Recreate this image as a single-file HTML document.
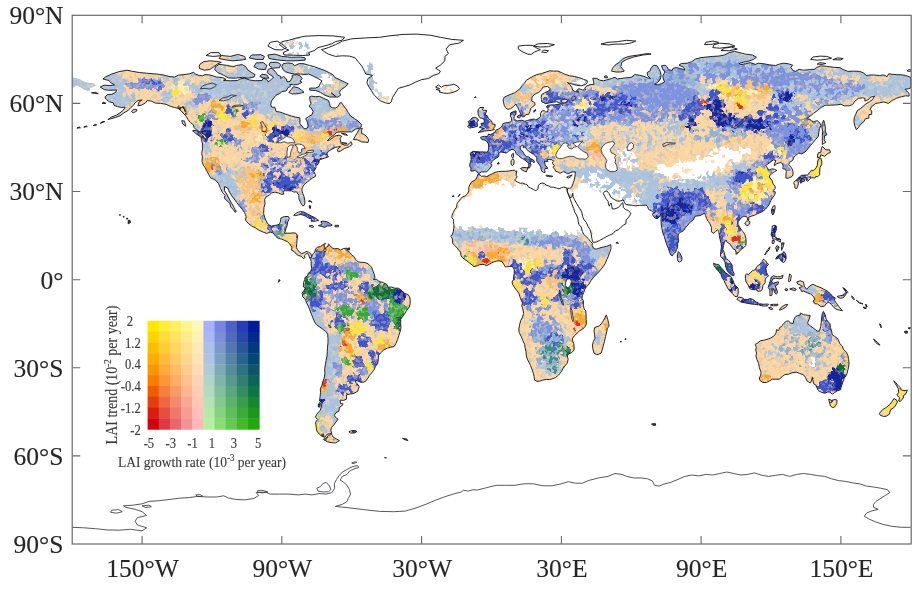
<!DOCTYPE html>
<html lang="en"><head><meta charset="utf-8"><title>LAI trend and growth rate map</title>
<style>
html,body{margin:0;padding:0;background:#fff;}
body{width:921px;height:594px;overflow:hidden;font-family:"Liberation Serif","DejaVu Serif",serif;}
svg{display:block;font-family:"Liberation Serif","DejaVu Serif",serif;}
</style></head><body>
<svg width="921" height="594" viewBox="0 0 921 594">
<defs>
<filter id="soft" x="-5%" y="-5%" width="110%" height="110%"><feGaussianBlur stdDeviation="0.6"/></filter>
<filter id="tsoft" x="-5%" y="-20%" width="110%" height="140%"><feGaussianBlur stdDeviation="0.45"/></filter>
<clipPath id="land"><path d="M100.2 87.0L104.1 85.2L109.9 85.5L114.6 84.9L110.6 82.6L108.8 80.5L102.9 79.0L105.3 77.0L111.8 74.0L118.8 71.7L126.9 70.2L132.8 71.4L139.8 72.6L146.7 73.2L156.1 74.0L163.0 74.9L170.0 76.7L174.7 77.0L178.2 75.2L184.0 74.6L189.8 73.8L193.3 72.3L195.7 74.0L199.2 75.5L202.6 75.8L205.0 74.6L209.6 74.9L216.6 77.0L222.4 77.6L225.9 79.3L223.6 80.5L230.6 80.8L237.6 80.5L239.9 79.0L244.6 78.2L249.2 79.9L255.1 80.8L262.0 80.5L263.2 78.2L266.7 79.3L268.3 82.0L271.4 79.3L273.7 77.0L270.2 74.9L267.2 72.6L268.3 69.3L271.1 68.2L273.7 69.9L276.0 72.6L277.7 75.2L280.7 76.4L280.7 78.5L283.5 76.4L286.5 79.0L287.0 81.7L290.0 81.4L292.1 77.9L292.3 75.2L297.0 74.6L300.5 76.1L302.1 78.5L300.0 81.1L302.1 82.3L297.7 84.6L293.5 84.9L290.0 84.3L290.5 86.4L287.7 87.8L286.5 90.8L281.8 91.7L280.0 93.4L276.0 95.2L273.7 98.1L271.4 101.1L270.7 104.9L271.8 107.2L274.9 107.2L276.0 111.6L279.5 111.9L285.3 114.0L291.2 116.0L295.8 117.2L299.8 117.8L300.0 121.0L299.8 124.0L302.1 126.0L304.0 128.7L306.8 128.7L308.2 126.0L307.0 121.0L305.6 118.7L308.6 116.6L312.1 114.6L313.1 111.3L311.0 107.8L309.1 106.4L311.0 103.4L309.8 99.6L309.8 96.7L311.4 96.1L315.6 96.7L319.6 96.4L323.8 98.4L328.4 100.5L329.6 103.4L330.1 106.6L332.6 107.8L335.4 108.1L338.2 106.4L340.1 102.8L341.3 102.5L343.6 105.8L345.9 108.7L348.2 112.5L350.6 116.0L354.5 118.7L358.0 121.0L361.1 124.0L361.5 126.3L359.9 128.1L355.2 129.3L351.7 131.9L347.1 131.9L341.3 131.9L336.6 132.2L334.3 134.6L330.8 137.2L327.3 140.7L329.6 140.1L334.3 136.3L338.9 135.1L341.7 136.3L340.1 138.7L340.6 141.0L341.3 144.0L344.7 145.1L347.5 145.1L349.4 143.1L351.0 141.6L352.2 144.5L349.4 146.6L344.3 148.6L340.6 151.0L338.2 151.9L337.3 149.5L340.6 146.6L337.8 146.9L335.4 147.5L331.9 149.2L328.4 151.3L326.8 153.9L328.4 156.9L324.9 158.0L320.3 159.5L319.1 160.7L318.7 163.3L316.8 165.4L315.6 163.6L316.1 167.4L314.5 170.4L313.8 171.6L315.2 174.5L315.6 176.3L312.8 177.7L309.8 180.1L307.0 182.1L304.0 184.8L302.3 187.7L301.9 190.7L302.8 193.6L304.0 196.5L304.9 200.9L304.7 204.8L302.8 205.9L301.0 203.3L298.9 198.9L298.9 195.4L296.5 191.8L294.0 192.1L291.6 190.9L287.7 190.7L285.3 190.7L283.0 191.2L283.7 194.2L281.2 194.2L278.4 193.0L274.9 192.1L271.4 193.0L269.5 194.8L266.0 197.1L264.6 199.5L265.1 203.6L263.9 207.7L263.7 213.6L264.8 218.0L266.7 222.1L268.3 224.4L271.1 226.2L274.2 225.6L277.2 225.0L279.5 224.1L280.5 221.2L280.9 218.0L284.6 216.5L288.4 216.5L289.3 218.6L287.7 222.1L287.0 225.9L286.0 228.2L285.1 231.8L284.4 233.2L287.0 233.2L290.0 233.2L293.0 232.9L295.8 233.2L297.7 235.6L297.0 240.0L296.8 243.5L296.3 247.3L297.5 249.7L299.3 252.0L301.7 253.5L304.0 252.9L306.1 251.5L308.6 252.0L311.0 254.1L311.7 256.4L310.0 258.5L308.9 255.6L307.5 253.2L305.6 254.4L304.4 255.6L305.1 257.6L303.3 258.5L301.2 256.2L298.6 255.6L296.8 254.7L294.2 251.5L291.6 250.3L291.9 247.3L289.5 243.8L287.4 241.5L284.9 240.6L281.8 239.1L278.4 238.5L276.0 236.5L273.0 232.9L270.2 232.1L266.7 233.5L263.2 232.1L259.0 230.3L255.1 227.7L251.6 225.9L248.1 223.3L245.5 220.0L246.2 216.5L244.6 212.7L242.2 209.2L238.8 205.3L236.7 202.4L234.1 198.9L231.8 195.9L229.4 192.1L227.8 188.0L224.3 186.5L224.5 190.7L227.1 194.5L228.7 198.0L231.1 202.4L233.4 206.2L234.8 209.2L236.4 211.5L235.3 212.4L233.4 209.7L230.6 206.8L229.9 203.3L227.1 200.9L224.1 198.0L225.2 195.6L222.4 192.4L220.6 188.6L218.7 183.9L215.9 180.4L213.1 178.9L210.6 178.0L208.5 173.9L206.4 170.4L205.4 168.0L203.3 165.1L202.0 161.3L202.4 156.9L201.7 153.3L202.6 148.1L202.6 144.0L201.5 140.1L201.0 137.5L205.0 138.1L205.9 140.4L206.4 137.2L205.0 135.1L201.5 132.8L196.8 130.4L194.0 127.5L193.3 124.6L190.3 122.5L188.0 119.6L186.3 116.6L184.0 113.7L181.0 110.8L178.2 108.4L174.7 107.5L170.5 106.4L166.1 104.3L160.7 103.4L155.4 103.1L151.4 101.1L147.2 100.5L145.6 102.8L141.4 105.2L137.9 105.8L139.1 101.9L142.1 99.9L137.9 100.5L135.1 102.8L133.2 105.5L130.9 107.5L128.1 110.5L123.9 112.8L120.0 115.8L115.3 117.5L111.1 118.7L107.8 119.6L111.8 116.9L116.5 115.2L120.0 112.8L123.4 110.2L125.1 107.2L121.6 107.5L117.6 106.6L114.1 105.5L113.4 102.8L109.5 101.9L106.4 99.6L104.8 97.0L107.6 94.6L111.8 94.3L115.8 92.3L116.5 89.9L113.0 90.2L108.3 90.2L104.1 89.6L100.2 87.0ZM321.5 49.7L328.4 47.6L335.4 44.7L342.4 41.1L351.7 38.8L365.7 37.9L379.7 37.3L389.0 35.9L403.0 34.4L417.0 34.1L430.9 35.3L440.3 37.3L451.9 39.4L463.5 40.3L458.9 43.2L449.6 44.7L446.1 49.1L448.4 53.5L444.9 56.4L444.9 60.8L440.3 65.2L435.6 68.2L440.3 71.1L439.1 73.5L433.3 75.5L428.6 78.5L421.6 79.6L415.8 82.0L410.0 84.9L404.1 86.7L398.3 88.4L395.3 93.1L392.5 97.5L391.3 101.9L389.0 103.7L385.5 102.8L380.9 101.1L377.4 98.4L373.9 94.6L371.5 90.8L369.2 87.3L366.9 82.9L368.0 78.5L372.7 75.5L365.7 74.0L364.5 71.1L362.2 66.7L358.7 62.3L355.2 57.9L349.4 56.1L342.4 55.8L335.4 56.4L328.4 54.1L324.9 52.0L321.5 49.7ZM348.2 84.0L344.7 87.3L341.3 89.3L339.4 92.3L340.6 95.2L337.1 97.5L334.3 95.2L331.2 92.8L335.9 97.0L329.6 97.0L324.9 95.2L320.3 92.3L315.6 90.5L309.8 90.2L309.8 88.1L315.6 88.1L319.1 86.4L320.3 83.4L321.9 80.8L318.0 78.5L313.3 76.1L308.6 74.0L304.0 74.6L300.5 74.0L294.7 74.0L290.0 73.2L285.3 71.7L283.0 69.6L281.8 66.7L283.0 63.8L287.7 62.9L292.3 63.5L294.7 65.8L299.3 63.5L304.0 63.8L309.8 65.5L314.5 66.7L319.1 68.5L324.9 70.5L329.6 72.9L333.1 74.9L335.0 77.6L340.1 79.9L344.7 82.0L348.2 84.0ZM217.8 72.6L223.6 75.2L228.3 77.9L235.3 78.2L242.2 77.3L248.1 78.2L253.9 77.0L255.1 74.6L251.6 72.6L248.1 70.2L245.7 66.7L242.2 64.6L236.4 65.5L232.9 66.7L225.9 65.2L219.0 64.4L215.5 66.7L214.8 69.6L217.8 72.6ZM199.6 68.5L204.3 70.2L209.6 69.6L213.1 67.3L217.8 63.8L221.3 62.3L216.6 61.4L209.6 60.8L203.8 61.7L200.3 63.8L199.2 66.1L199.6 68.5ZM309.8 55.0L302.8 55.5L293.5 55.2L284.2 55.0L283.0 52.6L288.8 50.0L284.2 48.2L279.5 44.7L281.8 41.7L288.8 40.3L295.8 38.2L305.1 36.2L319.1 35.6L333.1 35.9L344.7 37.3L342.4 40.0L335.4 41.7L331.9 43.8L324.9 45.8L318.0 47.6L314.5 50.5L308.6 52.6L309.8 55.0ZM274.9 49.7L267.9 46.1L270.2 42.3L277.2 41.1L281.8 44.1L286.5 47.6L281.8 50.0L274.9 49.7ZM305.1 60.2L295.8 60.8L286.5 60.8L277.2 59.9L269.0 58.5L267.9 55.0L274.9 54.1L281.8 56.4L291.2 57.3L300.5 57.0L305.1 57.9L305.1 60.2ZM245.7 59.4L239.9 60.2L232.9 60.8L225.9 59.9L219.0 58.5L221.3 55.5L230.6 56.4L237.6 54.4L244.6 56.4L245.7 59.4ZM263.2 59.4L256.2 59.4L249.2 57.9L251.6 55.0L260.9 54.7L264.4 56.4L263.2 59.4ZM265.5 69.6L258.6 69.1L253.9 66.7L256.2 62.9L263.2 62.6L266.7 65.2L265.5 69.6ZM279.5 67.6L272.5 68.2L269.0 65.2L270.2 62.3L277.2 62.3L280.7 64.4L279.5 67.6ZM269.0 78.2L263.2 77.9L259.7 76.4L262.0 74.3L266.7 74.9L269.0 78.2ZM304.0 92.3L298.2 93.7L292.3 94.0L288.8 92.5L291.2 89.6L293.5 86.7L298.2 87.8L301.7 90.2L304.0 92.3ZM221.3 55.8L213.1 56.4L206.1 55.5L210.8 52.6L219.0 52.6L221.3 55.8ZM353.4 139.5L357.6 139.8L361.5 141.9L365.7 142.2L368.0 142.5L368.7 139.8L366.9 136.9L364.5 134.6L361.5 133.4L361.7 129.9L362.2 128.1L359.2 129.3L356.9 133.4L354.8 136.9L353.4 139.5ZM204.0 137.5L200.3 136.6L196.8 134.3L192.6 130.7L195.7 130.4L199.2 132.2L202.6 135.1L204.0 137.5ZM185.9 126.3L182.8 124.0L181.7 120.7L184.5 121.0L185.2 124.0L185.9 126.3ZM136.7 111.1L133.2 112.8L131.4 111.3L133.9 109.3L136.7 109.6L136.7 111.1ZM98.3 93.7L94.3 93.4L91.5 92.8L95.5 92.3L98.3 93.7ZM106.0 103.4L102.0 103.4L103.6 102.2L106.0 103.4ZM104.8 121.6L100.2 123.4L102.5 121.6L104.8 121.6ZM96.7 124.9L93.2 125.7L95.5 124.3L96.7 124.9ZM87.3 126.6L83.8 127.2L86.2 126.0L87.3 126.6ZM80.4 127.8L76.9 128.1L79.2 126.9L80.4 127.8ZM347.5 135.4L343.6 134.6L341.3 133.1L345.9 134.0L347.5 135.4ZM347.1 143.4L343.6 144.0L341.7 142.5L344.7 142.8L347.1 143.4ZM293.7 215.3L297.0 212.7L300.5 211.5L304.0 212.1L307.5 213.9L311.0 215.9L314.5 217.4L317.3 219.4L318.7 220.3L315.6 221.2L311.0 221.2L311.7 219.1L308.6 218.0L305.1 215.9L301.0 214.4L298.2 215.0L295.4 215.6L293.7 215.3ZM318.2 225.6L321.0 226.2L324.5 227.4L327.3 225.9L330.8 225.9L332.2 225.0L329.6 223.3L326.6 221.5L322.6 221.2L320.8 221.8L322.1 223.8L320.3 225.0L318.2 225.6ZM309.1 225.9L311.7 227.4L313.8 226.8L312.1 225.3L309.1 225.9ZM335.0 226.8L338.5 226.8L338.5 225.3L335.0 225.3L335.0 226.8ZM310.3 208.6L310.7 205.9L309.3 205.6L309.3 208.0L310.3 208.6ZM312.1 202.4L310.3 201.5L308.4 201.2L310.0 200.6L312.1 202.4ZM347.3 250.0L349.4 250.0L349.6 247.9L347.8 248.2L347.3 250.0ZM311.7 256.4L312.6 254.4L314.9 252.0L315.6 248.8L317.3 247.3L320.3 246.5L323.1 244.7L325.4 243.2L324.0 245.9L324.9 247.9L323.8 250.3L324.9 252.3L326.1 250.3L325.4 247.9L328.0 246.2L328.4 243.8L330.1 245.9L332.4 247.9L334.3 248.8L337.8 248.5L340.6 250.0L343.6 248.5L347.1 248.2L345.7 249.7L347.5 250.9L349.9 252.6L351.7 255.0L354.1 256.7L355.7 259.4L358.3 262.0L361.5 262.3L365.2 262.6L368.0 263.8L369.9 265.6L371.5 267.0L372.7 270.3L374.3 274.4L375.0 277.3L373.4 279.7L376.2 279.1L378.3 280.8L380.2 281.7L383.2 282.6L386.7 284.3L388.3 287.3L391.3 287.0L394.8 288.2L398.3 288.2L401.8 290.5L404.8 293.5L408.1 294.6L409.5 296.7L410.2 300.2L410.2 303.7L409.3 307.0L406.9 310.2L404.6 313.7L402.3 317.0L400.7 319.3L400.7 323.7L400.9 328.1L400.0 331.9L398.8 335.5L397.6 339.6L396.0 343.4L394.1 346.6L390.6 347.2L387.4 348.1L383.6 350.1L380.4 353.1L378.5 355.7L378.3 359.8L377.6 363.7L375.5 366.3L373.9 370.1L371.5 373.1L369.7 375.1L368.0 378.0L366.4 380.4L363.8 382.2L360.6 382.2L357.6 381.0L355.5 380.1L355.7 382.5L358.0 384.5L359.2 386.9L357.6 391.3L354.1 393.3L349.4 394.2L346.6 394.8L346.4 399.2L343.6 400.4L340.1 400.1L340.6 403.6L343.1 403.9L341.7 406.0L339.4 407.4L338.9 411.2L335.9 412.7L334.3 415.3L335.9 417.7L338.2 419.2L335.9 422.1L333.8 425.0L331.5 427.4L330.8 430.3L331.9 433.3L329.6 433.6L326.6 434.7L324.9 437.4L321.9 436.2L319.1 433.9L316.8 430.9L316.1 426.5L315.6 422.1L317.7 419.5L315.4 417.1L317.3 413.3L320.3 410.4L321.5 406.0L321.9 402.4L319.6 401.0L320.1 396.6L320.5 392.7L320.3 388.9L321.9 385.4L322.6 382.5L324.2 378.0L324.9 373.6L324.7 368.6L325.4 364.8L326.1 360.4L327.0 356.0L327.3 351.6L327.5 347.2L328.0 342.8L328.0 338.4L327.7 334.0L325.4 331.3L322.6 329.0L319.1 326.6L316.1 324.3L314.0 320.8L312.6 317.2L311.4 314.3L309.8 309.9L308.2 306.1L306.3 302.0L305.1 299.0L302.8 296.7L302.1 293.2L304.2 290.2L305.4 287.9L303.3 286.7L303.5 282.6L304.7 279.7L305.1 277.3L307.5 275.8L308.4 272.9L310.5 271.7L311.7 268.5L311.2 265.0L311.2 261.4L310.5 259.1L311.7 256.4ZM331.7 434.4L328.4 435.3L326.1 438.3L323.3 439.4L327.3 441.8L331.9 442.7L335.4 443.0L339.4 440.6L336.6 439.1L333.1 437.1L332.4 435.3L331.7 434.4ZM320.1 402.4L318.4 403.9L318.2 406.8L319.8 407.1L320.3 404.2L320.1 402.4ZM348.9 431.8L351.7 430.6L355.2 430.6L356.9 431.5L354.5 433.0L350.6 433.0L348.9 431.8ZM402.5 438.3L406.5 439.1L408.1 440.6L404.8 439.7L402.5 438.3ZM477.8 174.5L479.2 174.2L481.5 176.3L484.5 176.0L486.8 176.6L490.1 174.8L492.7 173.6L495.0 172.4L498.5 171.6L502.0 171.3L505.5 171.3L509.0 171.0L512.5 170.4L514.6 170.1L515.5 171.6L517.1 171.0L516.2 173.0L516.2 175.4L517.1 176.8L516.2 178.3L514.8 179.8L515.5 181.0L517.6 182.1L520.2 183.3L522.5 183.0L525.3 184.2L526.9 184.5L528.3 186.8L530.6 188.0L533.4 189.5L535.8 190.7L538.1 188.9L538.3 185.7L540.0 183.6L542.3 183.0L544.6 183.6L546.2 185.1L549.3 186.0L550.2 187.1L553.2 187.1L556.3 188.0L559.1 188.9L561.4 187.7L563.7 187.1L566.0 187.7L567.0 188.3L567.2 191.5L568.8 195.6L570.2 199.2L571.9 203.9L573.7 208.3L574.7 212.1L576.5 215.0L577.7 218.0L578.4 221.5L578.9 224.7L581.2 226.8L582.3 231.2L583.7 234.4L585.8 236.2L588.2 238.5L590.5 241.5L592.4 243.2L592.1 245.6L594.0 248.8L596.3 249.1L599.8 247.9L603.3 247.0L606.8 246.2L610.8 244.7L611.0 248.8L609.8 252.3L608.4 256.2L606.8 259.7L605.2 263.5L602.8 267.0L599.8 270.8L597.0 273.8L594.0 276.7L591.2 280.2L588.9 284.1L586.5 286.7L584.9 289.0L583.7 292.6L582.3 295.8L582.1 298.7L583.5 301.1L583.3 305.2L584.2 309.0L585.8 310.8L586.1 314.9L586.1 319.3L586.5 323.7L585.1 326.6L582.8 329.0L579.6 330.8L577.2 333.1L574.2 336.0L572.6 338.1L572.6 340.7L573.7 343.7L574.2 347.2L574.0 350.1L571.9 352.5L568.4 354.0L567.4 356.0L568.1 359.5L567.2 363.4L565.1 365.4L563.2 368.4L561.4 371.6L558.6 375.1L555.6 377.5L552.1 378.9L549.7 379.5L546.2 379.5L542.7 380.1L539.3 381.3L536.9 381.3L534.6 380.1L534.1 376.6L533.4 373.6L532.3 370.1L530.6 365.7L529.5 363.1L527.6 359.8L526.4 356.0L526.0 351.6L525.0 347.2L524.6 344.3L522.9 340.7L521.1 336.3L519.2 332.5L518.8 329.0L519.5 325.2L520.6 320.8L522.5 317.2L523.6 313.4L522.9 309.0L521.8 306.1L522.5 303.1L520.6 298.7L519.9 296.7L519.0 293.7L517.1 290.8L514.8 287.9L512.9 284.9L512.0 282.0L513.4 279.7L513.6 276.7L514.3 273.2L514.3 270.0L513.6 267.9L512.0 266.4L510.1 266.4L507.8 266.7L505.5 267.0L503.8 264.4L502.0 261.4L499.2 260.9L496.2 261.1L493.8 262.0L491.5 262.9L489.2 264.4L486.8 265.6L484.5 264.7L482.2 264.4L479.9 264.7L477.5 265.6L474.0 266.7L472.2 265.0L469.8 263.2L467.0 260.9L464.7 259.4L462.4 257.6L460.8 255.0L460.5 252.3L458.9 250.3L457.0 247.9L456.1 246.8L454.2 245.0L452.6 243.2L452.6 240.0L451.9 237.6L450.7 236.5L452.4 234.1L453.3 231.8L453.8 228.2L454.0 224.7L453.3 221.8L453.5 219.4L451.9 218.0L452.1 215.0L453.5 212.1L454.7 209.5L456.6 207.1L457.0 203.9L458.4 201.8L460.5 198.9L461.7 197.4L465.2 195.9L467.5 193.9L468.9 190.9L468.7 187.7L469.8 184.8L471.7 181.8L474.0 180.7L475.7 179.5L477.1 176.8L477.8 174.5ZM606.3 314.9L607.7 319.3L608.7 323.7L609.1 326.4L607.3 328.1L606.8 331.6L605.6 336.3L604.5 341.3L603.1 346.6L601.9 351.0L601.0 353.1L598.2 354.5L596.3 354.5L594.0 353.1L592.8 348.7L592.4 344.9L593.5 341.3L594.9 338.4L594.7 334.9L594.0 331.1L594.7 327.5L597.0 326.6L599.4 325.8L601.4 323.7L603.3 320.8L604.9 317.8L606.3 314.9ZM615.9 242.9L618.5 243.2L617.5 242.3L615.9 242.9ZM452.1 196.5L454.2 196.2L453.3 195.6L452.1 196.5ZM458.2 196.8L459.4 195.1L460.1 193.9L458.9 195.6L458.2 196.8ZM620.1 341.9L621.5 341.9L620.8 341.0L620.1 341.9ZM625.0 339.6L626.1 339.3L625.7 338.4L625.0 339.6ZM478.9 173.6L481.3 171.9L484.5 171.9L486.8 171.6L489.4 169.2L491.0 166.6L492.0 165.7L490.8 163.6L492.2 161.3L493.6 159.8L496.6 158.0L499.0 156.3L498.7 153.3L500.8 151.9L503.8 152.5L506.2 153.1L508.5 151.3L511.3 149.5L513.2 149.5L515.3 151.0L516.0 153.6L518.3 155.4L520.2 157.2L522.5 158.6L524.6 159.8L526.4 161.6L528.1 162.5L529.0 165.1L528.1 168.0L529.5 168.0L530.2 166.0L531.3 165.1L530.2 163.0L530.9 161.0L532.3 161.3L534.1 162.7L534.6 161.3L533.0 159.8L530.6 158.6L528.8 156.9L526.4 156.6L524.6 154.8L523.4 152.5L521.8 150.7L520.4 148.9L520.2 146.6L522.2 145.4L523.6 145.7L523.2 147.8L525.0 146.9L526.4 148.9L528.3 151.0L530.6 152.5L533.4 154.2L535.8 156.3L536.9 157.8L536.7 160.7L538.1 163.0L539.7 165.1L540.9 167.2L541.1 169.2L541.8 171.3L543.7 172.4L545.1 172.4L544.6 169.8L545.8 168.0L547.4 168.9L547.4 167.2L545.5 165.7L544.8 163.6L544.4 161.0L545.8 161.6L547.9 161.6L546.9 159.8L549.3 159.5L552.1 159.8L553.5 161.3L552.5 162.2L552.8 163.9L554.4 165.7L553.0 167.2L554.9 169.5L555.6 171.3L557.9 171.9L560.2 173.3L562.5 172.1L563.7 171.6L566.0 172.7L567.9 173.9L570.7 172.4L573.0 171.9L575.4 171.9L575.1 174.5L574.9 176.8L574.2 180.1L573.0 183.3L572.1 186.2L571.2 187.7L569.5 188.3L567.4 188.3L567.4 191.8L568.8 195.1L570.7 198.0L571.9 196.5L572.8 193.0L573.0 196.8L574.4 199.5L576.5 203.3L578.2 206.2L580.0 208.9L581.9 212.7L582.6 216.5L584.2 220.0L586.3 222.4L588.2 226.8L590.0 229.7L591.2 234.1L591.9 238.5L592.4 240.9L593.1 242.3L596.3 242.1L599.8 240.3L603.3 238.5L606.1 236.8L609.8 235.0L613.1 233.5L615.4 230.9L618.5 229.7L620.8 227.4L623.3 225.3L625.9 223.8L626.1 220.0L628.0 218.0L630.1 215.0L630.8 213.3L628.5 210.6L625.4 209.5L623.3 207.4L622.9 202.7L621.9 203.3L620.8 204.8L618.5 207.4L615.0 208.9L612.2 208.9L611.7 205.6L611.0 203.0L609.8 204.8L609.4 206.2L608.4 203.9L608.2 201.5L606.3 199.2L604.7 196.5L603.3 193.3L604.5 191.5L606.8 190.9L609.1 193.6L611.0 197.4L613.8 199.2L617.3 201.2L620.8 200.9L623.1 199.8L624.7 202.7L625.7 204.5L628.9 205.0L632.7 205.3L635.9 205.9L639.4 205.3L642.9 205.3L646.4 205.0L647.6 206.8L648.7 209.5L651.1 210.6L653.4 212.4L655.3 212.4L652.2 214.1L653.4 216.2L655.7 218.6L658.1 218.3L659.7 216.2L660.6 214.1L661.1 217.4L661.1 220.9L661.1 223.8L661.8 228.2L662.7 232.7L664.3 236.5L665.5 240.9L666.9 245.0L668.5 248.8L669.7 252.6L670.9 255.0L672.3 255.9L673.7 253.5L675.5 252.3L676.7 249.4L677.6 247.3L677.6 243.8L678.6 240.9L678.1 237.1L678.3 234.1L680.2 232.4L683.2 230.9L685.5 227.7L687.9 225.0L690.2 222.1L693.0 220.3L694.2 218.0L695.3 216.2L697.7 215.9L700.0 215.6L702.3 214.4L704.6 213.3L705.6 215.6L706.5 218.6L708.1 221.2L710.0 223.8L711.4 227.4L711.4 231.8L713.3 233.2L715.6 231.5L717.5 229.7L718.9 231.8L719.3 235.6L720.0 239.1L721.2 243.5L721.4 247.9L720.7 251.7L720.5 256.2L722.1 257.9L724.0 260.0L725.1 262.6L725.8 267.0L727.2 270.8L729.1 272.9L731.4 275.0L733.8 275.8L734.2 273.8L732.8 271.1L732.4 268.5L732.1 265.0L730.3 262.3L728.6 260.3L726.3 259.1L724.9 255.3L724.2 252.3L722.8 249.4L723.5 245.6L724.4 242.1L726.1 240.0L727.2 242.3L729.8 243.8L731.4 246.2L733.1 248.8L735.2 249.7L736.1 252.3L735.9 254.4L738.0 252.9L740.1 250.3L741.9 248.8L744.2 247.3L745.9 245.3L746.1 242.1L745.9 238.5L744.9 234.7L743.5 232.1L741.4 230.0L739.6 227.1L738.0 224.4L738.0 221.8L739.8 219.7L741.4 217.7L743.8 216.2L745.9 216.5L747.3 217.4L747.5 220.0L748.9 219.7L748.7 217.1L751.2 216.2L754.3 215.3L757.1 213.9L759.9 212.7L762.9 211.2L765.4 209.2L767.5 206.8L769.4 203.9L770.6 200.9L772.4 198.0L774.5 195.1L775.5 192.1L772.9 190.7L775.2 188.6L775.0 186.0L773.1 183.9L772.0 180.4L769.9 178.0L769.4 176.0L771.7 173.6L774.5 171.6L776.9 170.4L774.5 169.2L771.7 168.9L768.7 170.1L767.5 168.0L765.7 165.7L767.1 164.5L769.9 162.5L773.4 159.8L775.9 160.7L774.5 163.6L774.3 165.7L776.9 163.6L780.4 162.5L782.7 163.6L783.1 166.6L782.7 168.6L785.5 169.2L786.4 171.6L785.9 174.5L785.9 178.0L788.0 178.3L790.8 177.1L792.5 176.0L793.2 173.0L792.7 170.1L791.1 167.2L788.7 164.5L789.7 162.2L792.9 160.1L793.9 157.2L795.7 155.4L798.5 153.1L801.3 153.9L804.8 152.2L807.8 148.9L810.6 145.4L813.4 142.2L815.8 139.3L818.3 136.3L818.8 132.2L819.5 128.4L820.9 125.7L820.0 123.1L817.2 120.7L813.7 121.6L811.3 121.0L810.2 119.3L806.7 118.7L810.2 116.0L813.4 113.4L817.2 110.8L821.1 107.5L825.1 105.2L830.4 105.2L836.3 104.9L840.9 104.3L844.4 105.8L849.1 105.8L852.6 104.6L854.9 101.1L858.4 98.4L862.6 97.8L864.9 98.4L864.9 101.1L867.7 99.9L871.2 97.0L874.7 96.1L872.4 99.6L869.6 101.7L865.4 104.3L860.7 108.4L857.2 110.8L855.6 114.6L854.2 118.1L854.0 122.5L854.9 126.0L856.3 129.6L858.4 127.5L860.7 124.3L863.7 121.9L865.4 118.7L868.9 118.1L868.9 114.6L871.7 114.3L871.7 110.8L870.0 109.3L872.4 105.8L875.9 103.4L879.4 102.8L884.0 101.9L888.2 103.4L892.2 100.5L896.8 98.1L901.5 96.7L905.7 95.8L909.2 96.1L908.9 93.1L906.1 90.5L905.0 89.3L908.5 88.7L910.8 87.8L910.8 77.3L907.3 76.1L902.6 74.9L896.8 74.6L892.2 74.3L888.7 73.8L887.0 76.7L884.0 74.9L879.4 75.5L873.5 74.9L868.9 75.2L866.1 75.5L863.7 72.9L859.6 71.4L853.7 71.1L847.9 71.4L843.2 69.6L839.8 67.6L833.9 67.3L826.9 66.4L821.1 65.8L817.2 67.3L814.1 69.3L809.5 69.6L803.6 70.2L799.0 69.3L795.5 71.4L792.7 70.2L790.8 67.3L792.7 65.2L788.5 63.8L783.8 63.2L779.2 64.1L775.7 65.5L769.9 64.9L764.0 63.8L758.2 63.2L755.4 64.4L750.1 62.6L745.4 63.8L740.8 64.6L739.1 63.5L743.1 62.3L748.9 61.1L753.6 59.4L756.4 57.3L752.4 55.0L745.4 54.1L739.6 52.6L734.5 51.4L729.1 52.6L724.4 55.0L718.6 56.1L712.8 56.4L707.0 57.0L701.1 57.6L695.3 59.1L691.8 61.7L687.2 63.2L681.3 63.5L679.0 65.2L683.7 67.3L684.8 70.2L681.3 68.8L676.7 67.6L673.2 68.2L672.0 70.5L668.5 69.6L666.9 66.7L665.0 65.2L661.5 65.8L662.7 69.1L665.0 72.0L662.7 76.1L663.4 79.0L664.6 82.0L661.5 83.4L658.1 84.9L654.6 84.3L658.1 82.0L660.4 79.0L661.1 75.5L660.4 71.7L659.2 69.3L656.9 65.8L653.4 65.2L651.1 68.2L649.9 71.1L647.1 72.6L647.6 75.5L650.6 78.5L647.6 77.9L644.1 76.4L639.4 75.2L634.8 74.6L632.0 77.0L628.9 77.6L625.4 77.9L620.8 78.5L617.3 79.0L615.0 77.3L611.5 78.5L606.8 79.9L603.3 80.8L599.8 80.2L596.8 78.5L592.8 78.2L593.5 81.4L594.0 84.3L590.5 84.6L587.0 85.8L584.7 88.1L585.8 89.9L582.3 89.9L578.9 88.7L576.5 90.8L578.9 92.0L575.4 91.7L572.6 90.2L571.9 87.3L569.5 84.3L567.4 82.6L571.9 84.0L576.5 85.2L581.2 85.8L585.4 84.6L587.5 82.3L587.0 80.5L583.5 79.3L578.9 77.6L574.2 76.4L569.5 75.8L564.9 74.3L561.4 72.6L557.9 71.1L553.2 71.1L549.7 70.8L546.2 72.0L541.6 73.5L536.9 74.6L533.4 76.1L529.9 78.2L526.4 80.2L524.6 82.9L521.8 85.8L520.2 88.7L517.1 90.8L514.8 92.8L511.3 94.0L507.8 95.5L504.3 97.2L503.1 99.9L503.6 102.8L504.3 105.5L505.5 107.8L507.8 109.3L510.6 108.7L513.6 106.4L516.0 104.0L516.7 105.8L517.8 107.5L519.2 110.5L520.6 113.7L521.5 116.0L522.9 116.9L524.8 116.3L525.7 114.6L528.8 114.3L529.9 111.6L530.6 108.7L532.3 106.9L535.1 104.9L534.6 102.5L531.8 101.1L531.8 98.1L533.0 95.8L535.8 93.7L539.3 92.0L541.6 89.3L543.2 87.0L547.4 86.4L550.4 88.7L548.6 91.1L545.1 92.5L541.6 94.6L541.1 97.5L541.6 99.6L541.6 101.7L543.9 102.8L545.8 103.7L549.7 102.8L553.2 102.2L556.7 101.7L560.2 103.1L561.4 103.7L557.9 104.3L554.4 104.9L550.9 104.9L547.4 105.5L546.2 106.9L548.1 108.4L547.9 111.3L545.8 112.2L544.1 110.5L541.8 111.1L540.4 113.7L540.7 116.6L538.1 118.7L535.8 119.9L533.9 119.0L530.6 119.6L527.6 120.5L524.6 121.3L521.8 120.2L519.5 120.5L517.1 121.0L515.3 119.9L513.9 118.4L514.3 116.3L516.0 114.0L516.0 110.8L513.6 111.6L510.8 112.8L510.4 116.0L511.5 118.1L511.8 121.0L510.1 122.2L507.8 122.5L505.5 122.8L503.1 123.7L502.0 126.0L500.4 127.8L498.5 129.0L496.2 129.9L495.2 131.9L492.7 133.4L490.3 134.8L488.5 134.0L487.5 136.6L484.5 136.3L480.6 137.2L481.5 139.3L484.5 140.1L486.8 141.3L488.5 144.0L488.7 147.5L488.2 151.0L486.8 152.2L483.3 151.9L479.9 151.9L476.4 151.6L472.9 151.3L470.1 153.3L471.0 156.3L471.2 159.2L470.5 162.2L469.6 164.5L469.8 166.3L471.0 168.0L470.8 171.0L472.9 171.0L475.2 170.4L476.8 172.1L478.9 173.6ZM72.2 87.8L74.5 87.0L75.7 84.9L80.4 87.0L83.8 89.3L87.3 90.8L90.1 90.2L89.7 87.8L94.3 86.7L96.0 85.5L93.2 83.4L88.5 82.9L83.8 81.4L79.2 79.3L75.0 77.9L72.2 77.3ZM478.2 132.5L481.7 131.9L484.5 131.0L488.0 130.7L491.5 130.4L494.5 129.3L493.4 128.4L495.2 126.3L495.0 124.3L492.2 124.0L492.0 122.2L490.8 120.2L488.5 118.7L487.3 115.8L485.0 114.9L486.1 112.2L486.8 110.5L483.3 110.2L482.2 109.3L484.0 107.5L479.9 107.5L478.0 109.9L478.0 112.8L478.7 115.8L480.3 118.1L483.3 118.4L484.5 121.0L484.0 123.1L481.0 123.4L481.7 125.7L479.4 127.2L481.5 128.1L484.5 128.7L481.7 129.6L478.2 132.5ZM477.5 126.3L474.0 127.2L469.4 128.1L467.7 126.3L469.4 124.0L468.2 121.6L470.5 120.2L472.2 117.8L475.2 117.5L477.5 118.4L478.5 120.2L477.1 122.5L477.5 126.3ZM439.1 92.0L443.7 93.1L448.4 93.4L453.1 92.3L457.0 90.8L459.6 88.7L457.3 85.8L453.8 84.3L449.6 85.2L444.2 85.5L441.4 87.3L438.4 84.9L435.6 87.0L439.6 88.7L436.1 89.3L440.3 90.8L439.1 92.0ZM518.3 49.1L522.9 52.0L527.6 54.1L531.1 54.4L534.6 52.0L540.4 49.7L535.8 47.6L532.3 45.3L525.3 45.3L518.3 46.1L518.3 49.1ZM533.4 46.1L540.4 47.0L548.6 46.7L554.4 44.7L547.4 43.5L538.1 43.8L533.4 46.1ZM541.6 52.0L546.2 52.6L548.6 50.8L543.9 50.0L541.6 52.0ZM601.0 44.1L608.0 45.0L615.0 44.1L624.3 44.1L631.3 42.9L635.9 41.1L626.6 40.3L617.3 41.7L608.0 42.3L601.0 44.1ZM611.5 71.1L616.1 72.0L620.8 72.0L624.3 71.1L620.8 66.7L621.9 62.3L626.6 59.4L633.6 57.0L642.9 55.0L651.1 54.1L647.6 53.5L638.3 55.0L628.9 56.4L623.1 58.5L619.2 62.3L615.0 65.2L612.6 68.2L611.5 71.1ZM604.5 77.6L607.5 77.9L606.8 75.8L604.5 76.1L604.5 77.6ZM712.8 47.6L719.8 48.2L729.1 47.0L734.9 46.1L729.1 43.8L719.8 43.2L714.0 44.7L712.8 47.6ZM721.0 50.5L729.1 50.8L737.3 49.1L731.4 47.0L724.4 48.2L721.0 50.5ZM704.6 44.7L712.8 44.1L718.6 42.3L712.8 41.1L705.8 42.3L704.6 44.7ZM810.6 59.4L817.6 60.2L825.8 59.4L831.6 58.2L826.9 56.4L820.0 56.1L813.0 57.0L810.6 59.4ZM832.8 59.7L840.9 59.9L843.2 58.5L837.4 57.9L832.8 59.7ZM817.2 64.1L822.3 64.4L825.8 63.5L820.0 62.6L817.2 64.1ZM907.3 71.1L910.8 71.4L910.8 69.6L908.0 69.9L907.3 71.1ZM822.3 144.5L825.8 142.2L824.1 140.1L824.6 135.7L826.9 134.8L825.3 131.3L825.3 126.9L824.6 123.4L823.7 120.2L822.3 123.1L821.8 126.9L822.7 131.3L822.3 135.7L822.3 140.1L822.3 144.5ZM817.6 157.8L820.4 156.9L820.7 154.8L824.6 156.3L828.1 153.3L830.4 152.5L829.7 149.8L825.8 149.8L822.3 146.3L821.3 148.9L820.7 152.5L818.3 152.8L817.6 155.1L817.6 157.8ZM796.4 179.8L798.5 180.4L801.3 178.9L804.8 177.7L806.4 178.6L806.4 180.4L807.8 181.3L810.2 178.6L811.8 177.7L814.8 178.0L815.8 176.3L817.4 176.8L818.3 176.3L819.7 174.5L819.7 171.0L820.0 167.4L821.8 164.2L821.8 161.0L820.7 158.0L818.3 159.2L817.6 162.2L817.4 165.1L816.0 168.0L813.7 170.4L811.1 170.4L810.6 171.6L809.0 173.0L807.8 175.1L804.8 175.1L801.3 175.4L799.0 177.4L796.4 179.8ZM793.6 182.7L794.8 185.7L795.0 188.0L796.7 188.6L797.8 186.2L798.5 183.3L797.8 181.0L795.5 180.4L793.6 182.7ZM799.7 181.8L800.9 183.3L802.7 181.5L804.3 181.3L805.0 179.2L802.5 179.2L800.9 180.1L799.7 181.8ZM771.3 212.1L772.9 215.0L774.1 212.7L775.2 207.7L774.8 205.6L773.4 205.9L771.7 209.2L771.3 212.1ZM744.7 223.0L746.6 225.9L748.7 225.0L750.1 222.1L748.9 220.6L746.6 221.2L744.7 223.0ZM677.4 254.7L678.3 251.5L680.2 253.8L682.0 257.6L681.8 260.6L679.5 262.0L677.9 261.1L677.4 258.2L677.4 254.7ZM771.7 231.8L772.4 225.9L774.5 225.3L776.2 225.9L776.4 229.7L774.8 233.2L775.0 237.1L777.6 238.5L780.4 239.1L780.4 242.1L778.0 240.9L775.2 239.1L772.9 239.1L772.2 236.8L771.0 234.7L771.7 231.8ZM775.7 259.1L776.9 256.7L779.2 254.7L782.2 253.8L783.8 251.5L785.7 253.8L786.2 258.2L785.0 261.1L783.8 262.6L782.7 262.0L780.8 260.6L779.2 257.6L777.6 258.5L775.7 259.1ZM781.5 250.3L783.1 246.8L784.1 242.9L781.5 242.9L781.7 246.5L781.5 250.3ZM776.9 251.7L778.5 248.8L779.2 246.8L776.9 245.6L775.7 247.9L776.9 251.7ZM764.7 255.0L766.8 252.6L769.4 249.4L769.9 246.8L768.0 249.4L765.9 252.3L764.7 255.0ZM772.2 243.5L773.8 243.5L774.5 240.6L772.2 240.3L772.2 243.5ZM745.4 275.2L746.6 273.8L748.4 274.4L750.8 272.3L752.4 270.8L754.7 270.0L757.1 266.4L760.1 264.1L762.2 261.4L763.6 259.1L765.7 260.9L767.1 263.2L768.7 264.4L766.8 266.1L765.9 268.5L766.4 272.3L768.5 276.1L766.4 277.3L765.2 279.7L765.2 282.6L762.9 285.5L762.4 289.0L761.2 290.8L758.2 291.4L755.9 289.6L752.4 289.6L749.6 288.5L748.2 284.9L746.1 282.0L745.4 278.8L745.4 275.2ZM713.5 263.2L716.3 264.4L718.6 264.4L720.5 267.0L723.3 270.0L725.6 272.9L727.9 274.4L731.0 276.7L732.6 279.7L733.8 282.6L735.2 285.5L738.0 287.9L738.4 290.8L738.0 294.3L737.3 296.7L734.9 296.4L732.6 293.7L729.8 291.1L727.5 287.9L725.6 284.1L724.0 280.5L722.1 277.6L721.0 274.4L718.6 271.4L716.3 268.8L714.0 265.6L713.5 263.2ZM736.8 299.3L738.9 297.0L741.9 297.6L744.5 299.3L747.7 299.6L750.1 298.4L753.6 299.9L755.9 302.0L758.2 302.6L758.2 304.9L754.7 304.3L751.2 304.0L747.7 303.4L744.2 302.6L740.8 302.0L738.4 300.2L736.8 299.3ZM759.4 303.7L761.7 304.0L764.0 304.3L766.4 304.0L768.7 304.3L767.5 305.8L764.0 306.1L761.7 305.8L759.4 305.2L759.4 303.7ZM770.6 304.6L773.4 304.3L776.9 304.3L778.0 304.0L777.6 305.5L773.4 305.8L770.6 305.5L770.6 304.6ZM779.2 309.9L781.5 307.0L785.0 304.9L787.8 304.3L786.2 306.7L782.7 309.0L780.4 309.9L779.2 309.9ZM768.7 307.6L771.0 307.3L772.9 309.0L771.0 309.6L768.7 308.1L768.7 307.6ZM769.9 295.8L769.9 289.9L768.2 287.6L769.4 283.5L770.6 279.7L771.0 277.3L773.4 275.8L776.9 276.7L780.4 276.7L783.1 275.0L782.2 278.2L779.2 278.8L775.7 278.2L772.9 278.8L771.5 282.0L773.4 283.2L776.9 282.0L778.7 282.0L777.6 284.9L775.2 285.5L776.4 289.0L777.6 292.3L776.4 294.3L774.5 292.3L773.4 288.5L772.2 290.8L772.0 295.2L769.9 295.8ZM788.5 281.1L789.0 277.3L789.7 273.8L791.3 275.8L790.8 278.8L790.4 281.1L789.2 282.0L788.5 281.1ZM789.7 289.0L793.2 287.9L796.2 289.0L795.5 290.5L792.0 289.9L789.7 289.0ZM785.0 289.0L787.3 288.8L787.8 290.2L785.7 290.8L785.0 289.0ZM796.7 282.0L800.2 280.8L803.6 282.0L804.3 286.4L806.7 289.3L809.5 286.1L813.0 284.3L816.5 286.1L820.0 287.3L823.4 289.0L826.9 290.8L830.4 293.7L832.8 296.7L835.3 297.9L834.4 300.2L836.3 303.1L838.6 306.1L840.9 309.0L842.5 310.8L839.8 310.2L836.3 309.3L833.9 307.6L831.6 304.6L828.8 302.3L826.5 303.1L824.6 306.1L821.1 306.7L817.6 304.0L814.8 303.7L813.0 301.1L814.8 299.6L813.7 296.7L810.6 294.0L807.1 292.6L803.6 291.1L801.3 291.4L800.9 289.3L799.0 287.9L802.5 286.4L800.2 284.9L797.8 284.1L796.7 282.0ZM837.0 296.4L839.8 295.8L842.1 295.5L844.4 293.7L846.3 292.3L845.6 295.2L842.8 297.9L839.8 298.2L837.0 296.4ZM842.8 287.6L845.6 289.3L847.9 292.3L847.0 293.2L844.4 289.9L842.8 287.6ZM851.6 295.8L853.7 297.9L854.4 299.6L852.6 298.7L851.6 295.8ZM856.1 300.2L859.6 302.6L863.0 304.0L859.6 303.1L856.1 300.2ZM863.3 307.0L865.4 307.6L866.1 308.7L863.7 308.1L863.3 307.0ZM865.8 304.0L867.2 307.0L866.5 307.3L865.6 304.9L865.8 304.0ZM879.6 323.7L881.0 325.2L881.2 327.8L880.1 325.8L879.6 323.7ZM873.5 339.0L877.0 341.9L880.1 344.9L878.9 344.9L875.9 342.8L873.5 339.0ZM904.5 331.3L907.3 331.1L907.3 333.1L905.0 333.1L904.5 331.3ZM908.0 328.1L910.8 327.5L909.6 329.0L908.0 328.1ZM755.2 344.3L757.1 343.4L760.6 340.7L764.0 340.2L768.2 339.0L771.0 337.8L774.5 335.5L776.2 332.5L776.4 329.6L778.7 330.5L779.7 327.5L781.5 326.6L783.4 323.7L786.2 321.4L788.5 320.8L790.4 323.1L793.2 323.4L793.9 319.3L795.5 316.7L797.8 315.5L800.2 315.2L800.2 313.1L803.6 314.6L807.1 315.2L810.2 315.5L809.5 318.4L807.8 322.2L807.8 323.7L810.6 326.1L814.1 328.7L817.2 331.1L819.5 331.1L820.7 326.6L821.3 322.2L821.6 317.8L822.3 313.4L823.4 311.4L825.3 314.9L826.2 319.3L828.1 321.7L830.0 323.7L830.4 327.5L831.6 331.1L832.3 334.9L835.1 336.6L838.1 339.3L839.8 343.7L842.3 346.0L843.2 349.0L846.3 352.2L847.9 355.4L848.6 359.5L849.1 363.4L848.4 367.8L847.4 372.2L846.3 375.4L844.4 378.0L843.2 381.0L842.1 384.2L840.9 387.7L840.7 389.8L837.4 390.7L834.4 392.7L832.3 394.2L829.7 392.1L827.4 392.1L824.6 393.3L821.1 392.1L818.3 390.7L816.9 387.7L815.8 384.8L813.7 383.9L813.0 381.0L812.5 377.5L811.3 381.0L810.6 383.0L808.3 381.9L807.1 381.0L805.3 377.2L803.2 374.5L799.7 373.6L796.7 372.2L792.0 372.8L788.5 374.2L785.0 374.5L782.2 376.6L779.2 379.2L775.7 379.2L772.2 379.2L769.9 380.7L766.4 382.5L762.9 382.5L759.9 380.4L759.4 378.0L760.8 375.1L761.0 372.2L759.4 367.8L758.5 363.4L757.1 359.8L755.9 356.0L756.6 353.1L755.7 350.1L756.4 347.2L755.2 344.3ZM828.6 399.2L831.6 400.4L835.1 399.5L837.0 400.1L836.7 403.6L835.1 406.5L832.8 407.7L830.4 406.0L829.7 403.0L828.6 399.2ZM893.8 380.7L895.7 382.5L898.0 385.4L900.3 387.7L901.5 390.1L905.0 390.7L907.3 390.1L906.1 393.6L903.8 395.4L903.3 398.0L900.3 401.5L898.7 401.0L899.6 397.7L896.8 395.1L898.5 392.7L898.5 389.2L896.8 386.0L895.0 383.3L893.8 380.7ZM893.8 398.6L896.4 399.8L897.5 402.1L895.2 406.0L893.8 407.7L890.5 409.8L889.4 414.2L886.3 416.2L883.5 416.5L880.1 415.1L879.4 413.3L882.8 409.5L886.3 407.4L889.8 404.5L892.2 401.5L893.8 398.6ZM128.1 223.8L130.4 222.7L130.0 220.3L128.3 220.3L128.1 223.8ZM126.5 219.1L128.1 218.8L126.9 218.0L126.5 219.1ZM123.0 217.1L124.1 217.1L123.7 215.9L123.0 217.1ZM119.3 215.3L120.4 215.3L120.0 214.4L119.3 215.3ZM278.4 282.3L280.0 280.5L279.1 279.4L278.4 282.3ZM651.5 423.9L655.3 423.6L655.7 425.3L652.9 425.3L651.5 423.9ZM520.4 168.6L522.9 167.4L526.4 167.7L527.8 167.4L526.9 170.4L526.4 171.9L524.1 171.0L521.3 169.5L520.4 168.6ZM511.1 164.5L511.1 160.7L512.9 158.6L514.1 160.7L513.9 164.2L512.5 165.4L511.1 164.5ZM511.5 156.6L511.8 154.5L513.4 153.3L513.6 156.3L512.9 158.0L511.5 156.6ZM546.2 176.0L548.6 176.6L551.6 176.8L552.8 176.3L549.7 175.7L546.2 175.1L546.2 176.0ZM566.7 177.4L568.4 178.0L570.7 176.8L572.1 174.8L569.5 176.0L567.9 176.3L566.7 177.4ZM497.1 163.6L498.5 164.2L499.4 163.0L498.5 162.5L497.1 163.6ZM533.7 112.2L535.3 111.1L535.8 109.6L534.1 110.5L533.7 112.2ZM517.1 117.2L519.5 118.1L520.9 116.3L520.2 114.9L517.8 115.8L517.1 117.2ZM474.3 97.5L476.1 97.5L475.7 96.7L474.3 97.5Z"/></clipPath>
<clipPath id="frame"><rect x="72.2" y="15.3" width="838.6" height="528.7"/></clipPath>
<filter id="f0l" x="70" y="40" width="844" height="403" filterUnits="userSpaceOnUse" color-interpolation-filters="sRGB"><feGaussianBlur in="SourceAlpha" stdDeviation="2.0" result="f"/><feTurbulence type="fractalNoise" baseFrequency="0.19" numOctaves="2" seed="3"/><feColorMatrix type="matrix" values="0 0 0 0 0 0 0 0 0 0 0 0 0 0 0 3.6 0 0 0 -1.3"/><feComponentTransfer result="na"><feFuncA type="linear" slope="0.8" intercept="0.1"/></feComponentTransfer><feComposite in="f" in2="na" operator="arithmetic" k1="0" k2="6" k3="-6" k4="0.5" result="m"/><feFlood flood-color="#a9c3e0"/><feComposite operator="in" in2="m"/><feGaussianBlur stdDeviation="0.6"/></filter>
<filter id="f0m" x="253" y="87" width="559" height="247" filterUnits="userSpaceOnUse" color-interpolation-filters="sRGB"><feGaussianBlur in="SourceAlpha" stdDeviation="2.0" result="f"/><feTurbulence type="fractalNoise" baseFrequency="0.19" numOctaves="2" seed="52"/><feColorMatrix type="matrix" values="0 0 0 0 0 0 0 0 0 0 0 0 0 0 0 3.6 0 0 0 -1.3"/><feComponentTransfer result="na"><feFuncA type="linear" slope="0.8" intercept="0.1"/></feComponentTransfer><feComposite in="f" in2="na" operator="arithmetic" k1="0" k2="6" k3="-6" k4="0.5" result="m"/><feFlood flood-color="#7e93df"/><feComposite operator="in" in2="m"/><feGaussianBlur stdDeviation="0.6"/></filter>
<filter id="f1l" x="70" y="12" width="844" height="416" filterUnits="userSpaceOnUse" color-interpolation-filters="sRGB"><feGaussianBlur in="SourceAlpha" stdDeviation="2.0" result="f"/><feTurbulence type="fractalNoise" baseFrequency="0.19" numOctaves="2" seed="56"/><feColorMatrix type="matrix" values="0 0 0 0 0 0 0 0 0 0 0 0 0 0 0 3.6 0 0 0 -1.3"/><feComponentTransfer result="na"><feFuncA type="linear" slope="0.8" intercept="0.1"/></feComponentTransfer><feComposite in="f" in2="na" operator="arithmetic" k1="0" k2="6" k3="-6" k4="0.5" result="m"/><feFlood flood-color="#a9c3e0"/><feComposite operator="in" in2="m"/><feGaussianBlur stdDeviation="0.6"/></filter>
<filter id="f1q" x="556" y="198" width="51" height="51" filterUnits="userSpaceOnUse" color-interpolation-filters="sRGB"><feGaussianBlur in="SourceAlpha" stdDeviation="2.0" result="f"/><feTurbulence type="fractalNoise" baseFrequency="0.19" numOctaves="2" seed="63"/><feColorMatrix type="matrix" values="0 0 0 0 0 0 0 0 0 0 0 0 0 0 0 3.6 0 0 0 -1.3"/><feComponentTransfer result="na"><feFuncA type="linear" slope="0.8" intercept="0.1"/></feComponentTransfer><feComposite in="f" in2="na" operator="arithmetic" k1="0" k2="6" k3="-6" k4="0.5" result="m"/><feFlood flood-color="#c9d8ea"/><feComposite operator="in" in2="m"/><feGaussianBlur stdDeviation="0.6"/></filter>
<filter id="f1d" x="245" y="37" width="509" height="167" filterUnits="userSpaceOnUse" color-interpolation-filters="sRGB"><feGaussianBlur in="SourceAlpha" stdDeviation="2.0" result="f"/><feTurbulence type="fractalNoise" baseFrequency="0.19" numOctaves="2" seed="70"/><feColorMatrix type="matrix" values="0 0 0 0 0 0 0 0 0 0 0 0 0 0 0 3.6 0 0 0 -1.3"/><feComponentTransfer result="na"><feFuncA type="linear" slope="0.8" intercept="0.1"/></feComponentTransfer><feComposite in="f" in2="na" operator="arithmetic" k1="0" k2="6" k3="-6" k4="0.5" result="m"/><feFlood flood-color="#8fb0d8"/><feComposite operator="in" in2="m"/><feGaussianBlur stdDeviation="0.6"/></filter>
<filter id="f1p" x="173" y="22" width="727" height="420" filterUnits="userSpaceOnUse" color-interpolation-filters="sRGB"><feGaussianBlur in="SourceAlpha" stdDeviation="2.0" result="f"/><feTurbulence type="fractalNoise" baseFrequency="0.19" numOctaves="2" seed="77"/><feColorMatrix type="matrix" values="0 0 0 0 0 0 0 0 0 0 0 0 0 0 0 3.6 0 0 0 -1.3"/><feComponentTransfer result="na"><feFuncA type="linear" slope="0.8" intercept="0.1"/></feComponentTransfer><feComposite in="f" in2="na" operator="arithmetic" k1="0" k2="6" k3="-6" k4="0.5" result="m"/><feFlood flood-color="#fbd6a3"/><feComposite operator="in" in2="m"/><feGaussianBlur stdDeviation="0.6"/></filter>
<filter id="f1e" x="513" y="52" width="57" height="57" filterUnits="userSpaceOnUse" color-interpolation-filters="sRGB"><feGaussianBlur in="SourceAlpha" stdDeviation="2.0" result="f"/><feTurbulence type="fractalNoise" baseFrequency="0.19" numOctaves="2" seed="84"/><feColorMatrix type="matrix" values="0 0 0 0 0 0 0 0 0 0 0 0 0 0 0 3.6 0 0 0 -1.3"/><feComponentTransfer result="na"><feFuncA type="linear" slope="0.8" intercept="0.1"/></feComponentTransfer><feComposite in="f" in2="na" operator="arithmetic" k1="0" k2="6" k3="-6" k4="0.5" result="m"/><feFlood flood-color="#fde9c8"/><feComposite operator="in" in2="m"/><feGaussianBlur stdDeviation="0.6"/></filter>
<filter id="f1c" x="163" y="52" width="639" height="118" filterUnits="userSpaceOnUse" color-interpolation-filters="sRGB"><feGaussianBlur in="SourceAlpha" stdDeviation="2.0" result="f"/><feTurbulence type="fractalNoise" baseFrequency="0.19" numOctaves="2" seed="91"/><feColorMatrix type="matrix" values="0 0 0 0 0 0 0 0 0 0 0 0 0 0 0 3.6 0 0 0 -1.3"/><feComponentTransfer result="na"><feFuncA type="linear" slope="0.8" intercept="0.1"/></feComponentTransfer><feComposite in="f" in2="na" operator="arithmetic" k1="0" k2="6" k3="-6" k4="0.5" result="m"/><feFlood flood-color="#fff0b0"/><feComposite operator="in" in2="m"/><feGaussianBlur stdDeviation="0.6"/></filter>
<filter id="f1h" x="190" y="106" width="565" height="125" filterUnits="userSpaceOnUse" color-interpolation-filters="sRGB"><feGaussianBlur in="SourceAlpha" stdDeviation="2.0" result="f"/><feTurbulence type="fractalNoise" baseFrequency="0.19" numOctaves="2" seed="98"/><feColorMatrix type="matrix" values="0 0 0 0 0 0 0 0 0 0 0 0 0 0 0 3.6 0 0 0 -1.3"/><feComponentTransfer result="na"><feFuncA type="linear" slope="0.8" intercept="0.1"/></feComponentTransfer><feComposite in="f" in2="na" operator="arithmetic" k1="0" k2="6" k3="-6" k4="0.5" result="m"/><feFlood flood-color="#f9c37c"/><feComposite operator="in" in2="m"/><feGaussianBlur stdDeviation="0.6"/></filter>
<filter id="f1m" x="115" y="21" width="760" height="366" filterUnits="userSpaceOnUse" color-interpolation-filters="sRGB"><feGaussianBlur in="SourceAlpha" stdDeviation="2.0" result="f"/><feTurbulence type="fractalNoise" baseFrequency="0.19" numOctaves="2" seed="105"/><feColorMatrix type="matrix" values="0 0 0 0 0 0 0 0 0 0 0 0 0 0 0 3.6 0 0 0 -1.3"/><feComponentTransfer result="na"><feFuncA type="linear" slope="0.8" intercept="0.1"/></feComponentTransfer><feComposite in="f" in2="na" operator="arithmetic" k1="0" k2="6" k3="-6" k4="0.5" result="m"/><feFlood flood-color="#7e93df"/><feComposite operator="in" in2="m"/><feGaussianBlur stdDeviation="0.6"/></filter>
<filter id="f1s" x="488" y="136" width="127" height="137" filterUnits="userSpaceOnUse" color-interpolation-filters="sRGB"><feGaussianBlur in="SourceAlpha" stdDeviation="2.0" result="f"/><feTurbulence type="fractalNoise" baseFrequency="0.19" numOctaves="2" seed="112"/><feColorMatrix type="matrix" values="0 0 0 0 0 0 0 0 0 0 0 0 0 0 0 3.6 0 0 0 -1.3"/><feComponentTransfer result="na"><feFuncA type="linear" slope="0.8" intercept="0.1"/></feComponentTransfer><feComposite in="f" in2="na" operator="arithmetic" k1="0" k2="6" k3="-6" k4="0.5" result="m"/><feFlood flood-color="#f8b8a0"/><feComposite operator="in" in2="m"/><feGaussianBlur stdDeviation="0.6"/></filter>
<filter id="f1y" x="160" y="70" width="678" height="374" filterUnits="userSpaceOnUse" color-interpolation-filters="sRGB"><feGaussianBlur in="SourceAlpha" stdDeviation="2.0" result="f"/><feTurbulence type="fractalNoise" baseFrequency="0.19" numOctaves="2" seed="126"/><feColorMatrix type="matrix" values="0 0 0 0 0 0 0 0 0 0 0 0 0 0 0 3.6 0 0 0 -1.3"/><feComponentTransfer result="na"><feFuncA type="linear" slope="0.8" intercept="0.1"/></feComponentTransfer><feComposite in="f" in2="na" operator="arithmetic" k1="0" k2="6" k3="-6" k4="0.5" result="m"/><feFlood flood-color="#ffe53a"/><feComposite operator="in" in2="m"/><feGaussianBlur stdDeviation="0.6"/></filter>
<filter id="f1o" x="197" y="59" width="716" height="344" filterUnits="userSpaceOnUse" color-interpolation-filters="sRGB"><feGaussianBlur in="SourceAlpha" stdDeviation="2.0" result="f"/><feTurbulence type="fractalNoise" baseFrequency="0.19" numOctaves="2" seed="133"/><feColorMatrix type="matrix" values="0 0 0 0 0 0 0 0 0 0 0 0 0 0 0 3.6 0 0 0 -1.3"/><feComponentTransfer result="na"><feFuncA type="linear" slope="0.8" intercept="0.1"/></feComponentTransfer><feComposite in="f" in2="na" operator="arithmetic" k1="0" k2="6" k3="-6" k4="0.5" result="m"/><feFlood flood-color="#f8a92a"/><feComposite operator="in" in2="m"/><feGaussianBlur stdDeviation="0.6"/></filter>
<filter id="f1b" x="135" y="63" width="715" height="345" filterUnits="userSpaceOnUse" color-interpolation-filters="sRGB"><feGaussianBlur in="SourceAlpha" stdDeviation="2.0" result="f"/><feTurbulence type="fractalNoise" baseFrequency="0.19" numOctaves="2" seed="147"/><feColorMatrix type="matrix" values="0 0 0 0 0 0 0 0 0 0 0 0 0 0 0 3.6 0 0 0 -1.3"/><feComponentTransfer result="na"><feFuncA type="linear" slope="0.8" intercept="0.1"/></feComponentTransfer><feComposite in="f" in2="na" operator="arithmetic" k1="0" k2="6" k3="-6" k4="0.5" result="m"/><feFlood flood-color="#3e55cc"/><feComposite operator="in" in2="m"/><feGaussianBlur stdDeviation="0.6"/></filter>
<filter id="f1t" x="297" y="228" width="535" height="157" filterUnits="userSpaceOnUse" color-interpolation-filters="sRGB"><feGaussianBlur in="SourceAlpha" stdDeviation="2.0" result="f"/><feTurbulence type="fractalNoise" baseFrequency="0.19" numOctaves="2" seed="154"/><feColorMatrix type="matrix" values="0 0 0 0 0 0 0 0 0 0 0 0 0 0 0 3.6 0 0 0 -1.3"/><feComponentTransfer result="na"><feFuncA type="linear" slope="0.8" intercept="0.1"/></feComponentTransfer><feComposite in="f" in2="na" operator="arithmetic" k1="0" k2="6" k3="-6" k4="0.5" result="m"/><feFlood flood-color="#3c8c8c"/><feComposite operator="in" in2="m"/><feGaussianBlur stdDeviation="0.6"/></filter>
<filter id="f1g" x="187" y="99" width="568" height="276" filterUnits="userSpaceOnUse" color-interpolation-filters="sRGB"><feGaussianBlur in="SourceAlpha" stdDeviation="2.0" result="f"/><feTurbulence type="fractalNoise" baseFrequency="0.19" numOctaves="2" seed="161"/><feColorMatrix type="matrix" values="0 0 0 0 0 0 0 0 0 0 0 0 0 0 0 3.6 0 0 0 -1.3"/><feComponentTransfer result="na"><feFuncA type="linear" slope="0.8" intercept="0.1"/></feComponentTransfer><feComposite in="f" in2="na" operator="arithmetic" k1="0" k2="6" k3="-6" k4="0.5" result="m"/><feFlood flood-color="#35a838"/><feComposite operator="in" in2="m"/><feGaussianBlur stdDeviation="0.6"/></filter>
<filter id="f1G" x="287" y="251" width="568" height="133" filterUnits="userSpaceOnUse" color-interpolation-filters="sRGB"><feGaussianBlur in="SourceAlpha" stdDeviation="2.0" result="f"/><feTurbulence type="fractalNoise" baseFrequency="0.19" numOctaves="2" seed="168"/><feColorMatrix type="matrix" values="0 0 0 0 0 0 0 0 0 0 0 0 0 0 0 3.6 0 0 0 -1.3"/><feComponentTransfer result="na"><feFuncA type="linear" slope="0.8" intercept="0.1"/></feComponentTransfer><feComposite in="f" in2="na" operator="arithmetic" k1="0" k2="6" k3="-6" k4="0.5" result="m"/><feFlood flood-color="#0e6e3a"/><feComposite operator="in" in2="m"/><feGaussianBlur stdDeviation="0.6"/></filter>
<filter id="f1n" x="188" y="80" width="670" height="366" filterUnits="userSpaceOnUse" color-interpolation-filters="sRGB"><feGaussianBlur in="SourceAlpha" stdDeviation="2.0" result="f"/><feTurbulence type="fractalNoise" baseFrequency="0.19" numOctaves="2" seed="175"/><feColorMatrix type="matrix" values="0 0 0 0 0 0 0 0 0 0 0 0 0 0 0 3.6 0 0 0 -1.3"/><feComponentTransfer result="na"><feFuncA type="linear" slope="0.8" intercept="0.1"/></feComponentTransfer><feComposite in="f" in2="na" operator="arithmetic" k1="0" k2="6" k3="-6" k4="0.5" result="m"/><feFlood flood-color="#13249f"/><feComposite operator="in" in2="m"/><feGaussianBlur stdDeviation="0.6"/></filter>
<filter id="f1r" x="199" y="79" width="631" height="317" filterUnits="userSpaceOnUse" color-interpolation-filters="sRGB"><feGaussianBlur in="SourceAlpha" stdDeviation="2.0" result="f"/><feTurbulence type="fractalNoise" baseFrequency="0.19" numOctaves="2" seed="182"/><feColorMatrix type="matrix" values="0 0 0 0 0 0 0 0 0 0 0 0 0 0 0 3.6 0 0 0 -1.3"/><feComponentTransfer result="na"><feFuncA type="linear" slope="0.8" intercept="0.1"/></feComponentTransfer><feComposite in="f" in2="na" operator="arithmetic" k1="0" k2="6" k3="-6" k4="0.5" result="m"/><feFlood flood-color="#e0301a"/><feComposite operator="in" in2="m"/><feGaussianBlur stdDeviation="0.6"/></filter>
<filter id="f1k" x="312" y="424" width="30" height="30" filterUnits="userSpaceOnUse" color-interpolation-filters="sRGB"><feGaussianBlur in="SourceAlpha" stdDeviation="2.0" result="f"/><feTurbulence type="fractalNoise" baseFrequency="0.19" numOctaves="2" seed="189"/><feColorMatrix type="matrix" values="0 0 0 0 0 0 0 0 0 0 0 0 0 0 0 3.6 0 0 0 -1.3"/><feComponentTransfer result="na"><feFuncA type="linear" slope="0.8" intercept="0.1"/></feComponentTransfer><feComposite in="f" in2="na" operator="arithmetic" k1="0" k2="6" k3="-6" k4="0.5" result="m"/><feFlood flood-color="#3a3010"/><feComposite operator="in" in2="m"/><feGaussianBlur stdDeviation="0.6"/></filter>
<filter id="f2l" x="70" y="19" width="844" height="447" filterUnits="userSpaceOnUse" color-interpolation-filters="sRGB"><feGaussianBlur in="SourceAlpha" stdDeviation="2.0" result="f"/><feTurbulence type="fractalNoise" baseFrequency="0.19" numOctaves="2" seed="109"/><feColorMatrix type="matrix" values="0 0 0 0 0 0 0 0 0 0 0 0 0 0 0 3.6 0 0 0 -1.3"/><feComponentTransfer result="na"><feFuncA type="linear" slope="0.8" intercept="0.1"/></feComponentTransfer><feComposite in="f" in2="na" operator="arithmetic" k1="0" k2="6" k3="-6" k4="0.5" result="m"/><feFlood flood-color="#a9c3e0"/><feComposite operator="in" in2="m"/><feGaussianBlur stdDeviation="0.6"/></filter>
<filter id="f2q" x="485" y="64" width="213" height="131" filterUnits="userSpaceOnUse" color-interpolation-filters="sRGB"><feGaussianBlur in="SourceAlpha" stdDeviation="2.0" result="f"/><feTurbulence type="fractalNoise" baseFrequency="0.19" numOctaves="2" seed="116"/><feColorMatrix type="matrix" values="0 0 0 0 0 0 0 0 0 0 0 0 0 0 0 3.6 0 0 0 -1.3"/><feComponentTransfer result="na"><feFuncA type="linear" slope="0.8" intercept="0.1"/></feComponentTransfer><feComposite in="f" in2="na" operator="arithmetic" k1="0" k2="6" k3="-6" k4="0.5" result="m"/><feFlood flood-color="#c9d8ea"/><feComposite operator="in" in2="m"/><feGaussianBlur stdDeviation="0.6"/></filter>
<filter id="f2d" x="440" y="89" width="405" height="299" filterUnits="userSpaceOnUse" color-interpolation-filters="sRGB"><feGaussianBlur in="SourceAlpha" stdDeviation="2.0" result="f"/><feTurbulence type="fractalNoise" baseFrequency="0.19" numOctaves="2" seed="123"/><feColorMatrix type="matrix" values="0 0 0 0 0 0 0 0 0 0 0 0 0 0 0 3.6 0 0 0 -1.3"/><feComponentTransfer result="na"><feFuncA type="linear" slope="0.8" intercept="0.1"/></feComponentTransfer><feComposite in="f" in2="na" operator="arithmetic" k1="0" k2="6" k3="-6" k4="0.5" result="m"/><feFlood flood-color="#8fb0d8"/><feComposite operator="in" in2="m"/><feGaussianBlur stdDeviation="0.6"/></filter>
<filter id="f2p" x="70" y="19" width="844" height="447" filterUnits="userSpaceOnUse" color-interpolation-filters="sRGB"><feGaussianBlur in="SourceAlpha" stdDeviation="2.0" result="f"/><feTurbulence type="fractalNoise" baseFrequency="0.19" numOctaves="2" seed="130"/><feColorMatrix type="matrix" values="0 0 0 0 0 0 0 0 0 0 0 0 0 0 0 3.6 0 0 0 -1.3"/><feComponentTransfer result="na"><feFuncA type="linear" slope="0.8" intercept="0.1"/></feComponentTransfer><feComposite in="f" in2="na" operator="arithmetic" k1="0" k2="6" k3="-6" k4="0.5" result="m"/><feFlood flood-color="#fbd6a3"/><feComposite operator="in" in2="m"/><feGaussianBlur stdDeviation="0.6"/></filter>
<filter id="f2c" x="70" y="19" width="844" height="447" filterUnits="userSpaceOnUse" color-interpolation-filters="sRGB"><feGaussianBlur in="SourceAlpha" stdDeviation="2.0" result="f"/><feTurbulence type="fractalNoise" baseFrequency="0.19" numOctaves="2" seed="144"/><feColorMatrix type="matrix" values="0 0 0 0 0 0 0 0 0 0 0 0 0 0 0 3.6 0 0 0 -1.3"/><feComponentTransfer result="na"><feFuncA type="linear" slope="0.8" intercept="0.1"/></feComponentTransfer><feComposite in="f" in2="na" operator="arithmetic" k1="0" k2="6" k3="-6" k4="0.5" result="m"/><feFlood flood-color="#fff0b0"/><feComposite operator="in" in2="m"/><feGaussianBlur stdDeviation="0.6"/></filter>
<filter id="f2h" x="70" y="19" width="844" height="447" filterUnits="userSpaceOnUse" color-interpolation-filters="sRGB"><feGaussianBlur in="SourceAlpha" stdDeviation="2.0" result="f"/><feTurbulence type="fractalNoise" baseFrequency="0.19" numOctaves="2" seed="151"/><feColorMatrix type="matrix" values="0 0 0 0 0 0 0 0 0 0 0 0 0 0 0 3.6 0 0 0 -1.3"/><feComponentTransfer result="na"><feFuncA type="linear" slope="0.8" intercept="0.1"/></feComponentTransfer><feComposite in="f" in2="na" operator="arithmetic" k1="0" k2="6" k3="-6" k4="0.5" result="m"/><feFlood flood-color="#f9c37c"/><feComposite operator="in" in2="m"/><feGaussianBlur stdDeviation="0.6"/></filter>
<filter id="f2m" x="70" y="12" width="844" height="454" filterUnits="userSpaceOnUse" color-interpolation-filters="sRGB"><feGaussianBlur in="SourceAlpha" stdDeviation="2.0" result="f"/><feTurbulence type="fractalNoise" baseFrequency="0.19" numOctaves="2" seed="158"/><feColorMatrix type="matrix" values="0 0 0 0 0 0 0 0 0 0 0 0 0 0 0 3.6 0 0 0 -1.3"/><feComponentTransfer result="na"><feFuncA type="linear" slope="0.8" intercept="0.1"/></feComponentTransfer><feComposite in="f" in2="na" operator="arithmetic" k1="0" k2="6" k3="-6" k4="0.5" result="m"/><feFlood flood-color="#7e93df"/><feComposite operator="in" in2="m"/><feGaussianBlur stdDeviation="0.6"/></filter>
<filter id="f2s" x="448" y="214" width="73" height="73" filterUnits="userSpaceOnUse" color-interpolation-filters="sRGB"><feGaussianBlur in="SourceAlpha" stdDeviation="2.0" result="f"/><feTurbulence type="fractalNoise" baseFrequency="0.19" numOctaves="2" seed="165"/><feColorMatrix type="matrix" values="0 0 0 0 0 0 0 0 0 0 0 0 0 0 0 3.6 0 0 0 -1.3"/><feComponentTransfer result="na"><feFuncA type="linear" slope="0.8" intercept="0.1"/></feComponentTransfer><feComposite in="f" in2="na" operator="arithmetic" k1="0" k2="6" k3="-6" k4="0.5" result="m"/><feFlood flood-color="#f8b8a0"/><feComposite operator="in" in2="m"/><feGaussianBlur stdDeviation="0.6"/></filter>
<filter id="f2y" x="454" y="80" width="302" height="196" filterUnits="userSpaceOnUse" color-interpolation-filters="sRGB"><feGaussianBlur in="SourceAlpha" stdDeviation="2.0" result="f"/><feTurbulence type="fractalNoise" baseFrequency="0.19" numOctaves="2" seed="179"/><feColorMatrix type="matrix" values="0 0 0 0 0 0 0 0 0 0 0 0 0 0 0 3.6 0 0 0 -1.3"/><feComponentTransfer result="na"><feFuncA type="linear" slope="0.8" intercept="0.1"/></feComponentTransfer><feComposite in="f" in2="na" operator="arithmetic" k1="0" k2="6" k3="-6" k4="0.5" result="m"/><feFlood flood-color="#ffe53a"/><feComposite operator="in" in2="m"/><feGaussianBlur stdDeviation="0.6"/></filter>
<filter id="f2o" x="464" y="230" width="53" height="54" filterUnits="userSpaceOnUse" color-interpolation-filters="sRGB"><feGaussianBlur in="SourceAlpha" stdDeviation="2.0" result="f"/><feTurbulence type="fractalNoise" baseFrequency="0.19" numOctaves="2" seed="186"/><feColorMatrix type="matrix" values="0 0 0 0 0 0 0 0 0 0 0 0 0 0 0 3.6 0 0 0 -1.3"/><feComponentTransfer result="na"><feFuncA type="linear" slope="0.8" intercept="0.1"/></feComponentTransfer><feComposite in="f" in2="na" operator="arithmetic" k1="0" k2="6" k3="-6" k4="0.5" result="m"/><feFlood flood-color="#f8a92a"/><feComposite operator="in" in2="m"/><feGaussianBlur stdDeviation="0.6"/></filter>
<filter id="f2b" x="722" y="88" width="77" height="152" filterUnits="userSpaceOnUse" color-interpolation-filters="sRGB"><feGaussianBlur in="SourceAlpha" stdDeviation="2.0" result="f"/><feTurbulence type="fractalNoise" baseFrequency="0.19" numOctaves="2" seed="200"/><feColorMatrix type="matrix" values="0 0 0 0 0 0 0 0 0 0 0 0 0 0 0 3.6 0 0 0 -1.3"/><feComponentTransfer result="na"><feFuncA type="linear" slope="0.8" intercept="0.1"/></feComponentTransfer><feComposite in="f" in2="na" operator="arithmetic" k1="0" k2="6" k3="-6" k4="0.5" result="m"/><feFlood flood-color="#3e55cc"/><feComposite operator="in" in2="m"/><feGaussianBlur stdDeviation="0.6"/></filter>
<filter id="f2t" x="528" y="325" width="303" height="49" filterUnits="userSpaceOnUse" color-interpolation-filters="sRGB"><feGaussianBlur in="SourceAlpha" stdDeviation="2.0" result="f"/><feTurbulence type="fractalNoise" baseFrequency="0.19" numOctaves="2" seed="207"/><feColorMatrix type="matrix" values="0 0 0 0 0 0 0 0 0 0 0 0 0 0 0 3.6 0 0 0 -1.3"/><feComponentTransfer result="na"><feFuncA type="linear" slope="0.8" intercept="0.1"/></feComponentTransfer><feComposite in="f" in2="na" operator="arithmetic" k1="0" k2="6" k3="-6" k4="0.5" result="m"/><feFlood flood-color="#3c8c8c"/><feComposite operator="in" in2="m"/><feGaussianBlur stdDeviation="0.6"/></filter>
<filter id="f2w" x="70" y="12" width="844" height="536" filterUnits="userSpaceOnUse" color-interpolation-filters="sRGB"><feGaussianBlur in="SourceAlpha" stdDeviation="2.0" result="f"/><feTurbulence type="fractalNoise" baseFrequency="0.19" numOctaves="2" seed="249"/><feColorMatrix type="matrix" values="0 0 0 0 0 0 0 0 0 0 0 0 0 0 0 3.6 0 0 0 -1.3"/><feComponentTransfer result="na"><feFuncA type="linear" slope="0.8" intercept="0.1"/></feComponentTransfer><feComposite in="f" in2="na" operator="arithmetic" k1="0" k2="6" k3="-6" k4="0.5" result="m"/><feFlood flood-color="#ffffff"/><feComposite operator="in" in2="m"/><feGaussianBlur stdDeviation="0.6"/></filter>
<filter id="f3l" x="226" y="20" width="688" height="386" filterUnits="userSpaceOnUse" color-interpolation-filters="sRGB"><feGaussianBlur in="SourceAlpha" stdDeviation="2.0" result="f"/><feTurbulence type="fractalNoise" baseFrequency="0.19" numOctaves="2" seed="162"/><feColorMatrix type="matrix" values="0 0 0 0 0 0 0 0 0 0 0 0 0 0 0 3.6 0 0 0 -1.3"/><feComponentTransfer result="na"><feFuncA type="linear" slope="0.8" intercept="0.1"/></feComponentTransfer><feComposite in="f" in2="na" operator="arithmetic" k1="0" k2="6" k3="-6" k4="0.5" result="m"/><feFlood flood-color="#a9c3e0"/><feComposite operator="in" in2="m"/><feGaussianBlur stdDeviation="0.6"/></filter>
<filter id="f3q" x="365" y="80" width="28" height="27" filterUnits="userSpaceOnUse" color-interpolation-filters="sRGB"><feGaussianBlur in="SourceAlpha" stdDeviation="2.0" result="f"/><feTurbulence type="fractalNoise" baseFrequency="0.19" numOctaves="2" seed="169"/><feColorMatrix type="matrix" values="0 0 0 0 0 0 0 0 0 0 0 0 0 0 0 3.6 0 0 0 -1.3"/><feComponentTransfer result="na"><feFuncA type="linear" slope="0.8" intercept="0.1"/></feComponentTransfer><feComposite in="f" in2="na" operator="arithmetic" k1="0" k2="6" k3="-6" k4="0.5" result="m"/><feFlood flood-color="#c9d8ea"/><feComposite operator="in" in2="m"/><feGaussianBlur stdDeviation="0.6"/></filter>
<filter id="f3p" x="273" y="24" width="192" height="90" filterUnits="userSpaceOnUse" color-interpolation-filters="sRGB"><feGaussianBlur in="SourceAlpha" stdDeviation="2.0" result="f"/><feTurbulence type="fractalNoise" baseFrequency="0.19" numOctaves="2" seed="183"/><feColorMatrix type="matrix" values="0 0 0 0 0 0 0 0 0 0 0 0 0 0 0 3.6 0 0 0 -1.3"/><feComponentTransfer result="na"><feFuncA type="linear" slope="0.8" intercept="0.1"/></feComponentTransfer><feComposite in="f" in2="na" operator="arithmetic" k1="0" k2="6" k3="-6" k4="0.5" result="m"/><feFlood flood-color="#fbd6a3"/><feComposite operator="in" in2="m"/><feGaussianBlur stdDeviation="0.6"/></filter>
<filter id="f3h" x="828" y="343" width="37" height="36" filterUnits="userSpaceOnUse" color-interpolation-filters="sRGB"><feGaussianBlur in="SourceAlpha" stdDeviation="2.0" result="f"/><feTurbulence type="fractalNoise" baseFrequency="0.19" numOctaves="2" seed="204"/><feColorMatrix type="matrix" values="0 0 0 0 0 0 0 0 0 0 0 0 0 0 0 3.6 0 0 0 -1.3"/><feComponentTransfer result="na"><feFuncA type="linear" slope="0.8" intercept="0.1"/></feComponentTransfer><feComposite in="f" in2="na" operator="arithmetic" k1="0" k2="6" k3="-6" k4="0.5" result="m"/><feFlood flood-color="#f9c37c"/><feComposite operator="in" in2="m"/><feGaussianBlur stdDeviation="0.6"/></filter>
<filter id="f3y" x="170" y="103" width="744" height="323" filterUnits="userSpaceOnUse" color-interpolation-filters="sRGB"><feGaussianBlur in="SourceAlpha" stdDeviation="2.0" result="f"/><feTurbulence type="fractalNoise" baseFrequency="0.19" numOctaves="2" seed="232"/><feColorMatrix type="matrix" values="0 0 0 0 0 0 0 0 0 0 0 0 0 0 0 3.6 0 0 0 -1.3"/><feComponentTransfer result="na"><feFuncA type="linear" slope="0.8" intercept="0.1"/></feComponentTransfer><feComposite in="f" in2="na" operator="arithmetic" k1="0" k2="6" k3="-6" k4="0.5" result="m"/><feFlood flood-color="#ffe53a"/><feComposite operator="in" in2="m"/><feGaussianBlur stdDeviation="0.6"/></filter>
<filter id="f3o" x="192" y="75" width="640" height="261" filterUnits="userSpaceOnUse" color-interpolation-filters="sRGB"><feGaussianBlur in="SourceAlpha" stdDeviation="2.0" result="f"/><feTurbulence type="fractalNoise" baseFrequency="0.19" numOctaves="2" seed="239"/><feColorMatrix type="matrix" values="0 0 0 0 0 0 0 0 0 0 0 0 0 0 0 3.6 0 0 0 -1.3"/><feComponentTransfer result="na"><feFuncA type="linear" slope="0.8" intercept="0.1"/></feComponentTransfer><feComposite in="f" in2="na" operator="arithmetic" k1="0" k2="6" k3="-6" k4="0.5" result="m"/><feFlood flood-color="#f8a92a"/><feComposite operator="in" in2="m"/><feGaussianBlur stdDeviation="0.6"/></filter>
<filter id="f3b" x="251" y="102" width="593" height="302" filterUnits="userSpaceOnUse" color-interpolation-filters="sRGB"><feGaussianBlur in="SourceAlpha" stdDeviation="2.0" result="f"/><feTurbulence type="fractalNoise" baseFrequency="0.19" numOctaves="2" seed="253"/><feColorMatrix type="matrix" values="0 0 0 0 0 0 0 0 0 0 0 0 0 0 0 3.6 0 0 0 -1.3"/><feComponentTransfer result="na"><feFuncA type="linear" slope="0.8" intercept="0.1"/></feComponentTransfer><feComposite in="f" in2="na" operator="arithmetic" k1="0" k2="6" k3="-6" k4="0.5" result="m"/><feFlood flood-color="#3e55cc"/><feComposite operator="in" in2="m"/><feGaussianBlur stdDeviation="0.6"/></filter>
<filter id="f3g" x="733" y="226" width="24" height="24" filterUnits="userSpaceOnUse" color-interpolation-filters="sRGB"><feGaussianBlur in="SourceAlpha" stdDeviation="2.0" result="f"/><feTurbulence type="fractalNoise" baseFrequency="0.19" numOctaves="2" seed="267"/><feColorMatrix type="matrix" values="0 0 0 0 0 0 0 0 0 0 0 0 0 0 0 3.6 0 0 0 -1.3"/><feComponentTransfer result="na"><feFuncA type="linear" slope="0.8" intercept="0.1"/></feComponentTransfer><feComposite in="f" in2="na" operator="arithmetic" k1="0" k2="6" k3="-6" k4="0.5" result="m"/><feFlood flood-color="#35a838"/><feComposite operator="in" in2="m"/><feGaussianBlur stdDeviation="0.6"/></filter>
<filter id="f3G" x="826" y="354" width="28" height="28" filterUnits="userSpaceOnUse" color-interpolation-filters="sRGB"><feGaussianBlur in="SourceAlpha" stdDeviation="2.0" result="f"/><feTurbulence type="fractalNoise" baseFrequency="0.19" numOctaves="2" seed="274"/><feColorMatrix type="matrix" values="0 0 0 0 0 0 0 0 0 0 0 0 0 0 0 3.6 0 0 0 -1.3"/><feComponentTransfer result="na"><feFuncA type="linear" slope="0.8" intercept="0.1"/></feComponentTransfer><feComposite in="f" in2="na" operator="arithmetic" k1="0" k2="6" k3="-6" k4="0.5" result="m"/><feFlood flood-color="#0e6e3a"/><feComposite operator="in" in2="m"/><feGaussianBlur stdDeviation="0.6"/></filter>
<filter id="f3n" x="268" y="81" width="608" height="320" filterUnits="userSpaceOnUse" color-interpolation-filters="sRGB"><feGaussianBlur in="SourceAlpha" stdDeviation="2.0" result="f"/><feTurbulence type="fractalNoise" baseFrequency="0.19" numOctaves="2" seed="281"/><feColorMatrix type="matrix" values="0 0 0 0 0 0 0 0 0 0 0 0 0 0 0 3.6 0 0 0 -1.3"/><feComponentTransfer result="na"><feFuncA type="linear" slope="0.8" intercept="0.1"/></feComponentTransfer><feComposite in="f" in2="na" operator="arithmetic" k1="0" k2="6" k3="-6" k4="0.5" result="m"/><feFlood flood-color="#13249f"/><feComposite operator="in" in2="m"/><feGaussianBlur stdDeviation="0.6"/></filter>
<filter id="f3r" x="319" y="91" width="433" height="249" filterUnits="userSpaceOnUse" color-interpolation-filters="sRGB"><feGaussianBlur in="SourceAlpha" stdDeviation="2.0" result="f"/><feTurbulence type="fractalNoise" baseFrequency="0.19" numOctaves="2" seed="288"/><feColorMatrix type="matrix" values="0 0 0 0 0 0 0 0 0 0 0 0 0 0 0 3.6 0 0 0 -1.3"/><feComponentTransfer result="na"><feFuncA type="linear" slope="0.8" intercept="0.1"/></feComponentTransfer><feComposite in="f" in2="na" operator="arithmetic" k1="0" k2="6" k3="-6" k4="0.5" result="m"/><feFlood flood-color="#e0301a"/><feComposite operator="in" in2="m"/><feGaussianBlur stdDeviation="0.6"/></filter>
<filter id="f3k" x="164" y="96" width="661" height="299" filterUnits="userSpaceOnUse" color-interpolation-filters="sRGB"><feGaussianBlur in="SourceAlpha" stdDeviation="2.0" result="f"/><feTurbulence type="fractalNoise" baseFrequency="0.19" numOctaves="2" seed="295"/><feColorMatrix type="matrix" values="0 0 0 0 0 0 0 0 0 0 0 0 0 0 0 3.6 0 0 0 -1.3"/><feComponentTransfer result="na"><feFuncA type="linear" slope="0.8" intercept="0.1"/></feComponentTransfer><feComposite in="f" in2="na" operator="arithmetic" k1="0" k2="6" k3="-6" k4="0.5" result="m"/><feFlood flood-color="#3a3010"/><feComposite operator="in" in2="m"/><feGaussianBlur stdDeviation="0.6"/></filter>
</defs>
<rect width="921" height="594" fill="#fff"/>
<g clip-path="url(#frame)">
<g clip-path="url(#land)"><rect x="60" y="10" width="860" height="540" fill="#fbd6a3"/>
<path d="M321.5 49.7L328.4 47.6L335.4 44.7L342.4 41.1L351.7 38.8L365.7 37.9L379.7 37.3L389.0 35.9L403.0 34.4L417.0 34.1L430.9 35.3L440.3 37.3L451.9 39.4L463.5 40.3L458.9 43.2L449.6 44.7L446.1 49.1L448.4 53.5L444.9 56.4L444.9 60.8L440.3 65.2L435.6 68.2L440.3 71.1L439.1 73.5L433.3 75.5L428.6 78.5L421.6 79.6L415.8 82.0L410.0 84.9L404.1 86.7L398.3 88.4L395.3 93.1L392.5 97.5L391.3 101.9L389.0 103.7L385.5 102.8L380.9 101.1L377.4 98.4L373.9 94.6L371.5 90.8L369.2 87.3L366.9 82.9L368.0 78.5L372.7 75.5L365.7 74.0L364.5 71.1L362.2 66.7L358.7 62.3L355.2 57.9L349.4 56.1L342.4 55.8L335.4 56.4L328.4 54.1L324.9 52.0L321.5 49.7ZM309.8 55.0L302.8 55.5L293.5 55.2L284.2 55.0L283.0 52.6L288.8 50.0L284.2 48.2L279.5 44.7L281.8 41.7L288.8 40.3L295.8 38.2L305.1 36.2L319.1 35.6L333.1 35.9L344.7 37.3L342.4 40.0L335.4 41.7L331.9 43.8L324.9 45.8L318.0 47.6L314.5 50.5L308.6 52.6L309.8 55.0ZM274.9 49.7L267.9 46.1L270.2 42.3L277.2 41.1L281.8 44.1L286.5 47.6L281.8 50.0L274.9 49.7ZM221.3 55.8L213.1 56.4L206.1 55.5L210.8 52.6L219.0 52.6L221.3 55.8ZM402.5 438.3L406.5 439.1L408.1 440.6L404.8 439.7L402.5 438.3ZM439.1 92.0L443.7 93.1L448.4 93.4L453.1 92.3L457.0 90.8L459.6 88.7L457.3 85.8L453.8 84.3L449.6 85.2L444.2 85.5L441.4 87.3L438.4 84.9L435.6 87.0L439.6 88.7L436.1 89.3L440.3 90.8L439.1 92.0ZM518.3 49.1L522.9 52.0L527.6 54.1L531.1 54.4L534.6 52.0L540.4 49.7L535.8 47.6L532.3 45.3L525.3 45.3L518.3 46.1L518.3 49.1ZM533.4 46.1L540.4 47.0L548.6 46.7L554.4 44.7L547.4 43.5L538.1 43.8L533.4 46.1ZM541.6 52.0L546.2 52.6L548.6 50.8L543.9 50.0L541.6 52.0ZM601.0 44.1L608.0 45.0L615.0 44.1L624.3 44.1L631.3 42.9L635.9 41.1L626.6 40.3L617.3 41.7L608.0 42.3L601.0 44.1ZM712.8 47.6L719.8 48.2L729.1 47.0L734.9 46.1L729.1 43.8L719.8 43.2L714.0 44.7L712.8 47.6ZM721.0 50.5L729.1 50.8L737.3 49.1L731.4 47.0L724.4 48.2L721.0 50.5ZM704.6 44.7L712.8 44.1L718.6 42.3L712.8 41.1L705.8 42.3L704.6 44.7ZM810.6 59.4L817.6 60.2L825.8 59.4L831.6 58.2L826.9 56.4L820.0 56.1L813.0 57.0L810.6 59.4ZM832.8 59.7L840.9 59.9L843.2 58.5L837.4 57.9L832.8 59.7ZM817.2 64.1L822.3 64.4L825.8 63.5L820.0 62.6L817.2 64.1ZM907.3 71.1L910.8 71.4L910.8 69.6L908.0 69.9L907.3 71.1ZM651.5 423.9L655.3 423.6L655.7 425.3L652.9 425.3L651.5 423.9Z" fill="#fff"/>
<g filter="url(#f0l)"><path d="M163.0 74.0L200.3 71.1L235.3 59.4L270.2 50.5L316.8 50.5L351.7 79.9L363.4 126.9L351.7 132.8L328.4 137.2L309.8 132.8L291.2 126.9L270.2 118.1L258.6 109.3L230.6 100.5L200.3 94.6L177.0 85.8L163.0 79.9Z" opacity="0.75"/><path d="M95.5 85.8L118.8 82.9L125.8 97.5L123.4 112.2L107.1 121.0L95.5 112.2L100.2 97.5Z"/><path d="M72.2 91.7L97.8 91.7L97.8 74.0L72.2 74.0Z"/><path d="M584.7 77.0L631.3 74.0L654.6 62.3L701.1 56.4L736.1 50.5L759.4 62.3L794.3 68.2L840.9 68.2L887.5 74.0L910.8 75.5L910.8 91.7L887.5 97.5L864.2 97.5L840.9 100.5L817.6 97.5L782.7 88.7L747.7 88.7L712.8 94.6L689.5 91.7L666.2 85.8L631.3 85.8L608.0 85.8L584.7 85.8Z"/><path d="M449.6 228.2L468.2 226.8L503.1 226.8L538.1 229.7L573.0 231.2L580.0 241.5L561.4 245.9L526.4 242.9L491.5 240.0L468.2 238.5L449.6 238.5Z"/><path d="M305.1 294.3L314.5 300.2L323.8 323.7L333.1 338.4L335.4 367.8L337.8 397.1L337.8 432.4L316.8 432.4L314.5 411.8L321.5 382.5L323.8 338.4L309.8 314.9Z"/><path d="M575.4 171.0L589.3 168.0L603.3 168.0L617.3 171.0L631.3 173.9L635.9 182.7L626.6 188.6L612.6 188.6L603.3 182.7L594.0 176.8L584.7 176.8L575.4 176.8Z"/></g>
<g filter="url(#f0m)"><path d="M468.2 173.9L468.2 150.4L479.9 135.7L465.9 126.9L472.9 109.3L491.5 109.3L510.1 118.1L519.5 115.2L538.1 118.1L556.7 103.4L584.7 97.5L619.6 97.5L642.9 103.4L677.9 103.4L689.5 115.2L666.2 121.0L631.3 124.0L608.0 129.9L589.3 135.7L580.0 144.5L561.4 147.5L556.7 159.2L547.4 168.0L538.1 168.0L526.4 171.0L514.8 153.3L498.5 156.3L491.5 168.0L479.9 173.9Z" opacity="0.85"/><path d="M649.9 209.2L659.2 191.5L668.5 188.6L682.5 197.4L696.5 200.3L708.1 203.3L705.8 218.0L691.8 223.8L677.9 241.5L673.2 256.2L668.5 253.2L661.5 232.7L659.2 218.0Z"/><path d="M263.2 194.5L265.5 173.9L277.2 162.2L295.8 159.2L314.5 162.2L316.8 176.8L302.8 191.5L300.5 200.3L293.5 191.5L281.8 194.5Z" opacity="0.30"/><path d="M556.7 265.0L575.4 262.0L584.7 270.8L584.7 288.5L580.0 303.1L568.4 309.0L559.1 303.1L556.7 285.5Z" opacity="0.60"/><path d="M309.8 273.8L328.4 265.0L347.1 270.8L363.4 279.6L375.0 288.5L386.7 294.3L393.7 309.0L379.7 323.7L363.4 323.7L347.1 314.9L328.4 314.9L314.5 303.1Z" opacity="0.50"/><path d="M724.4 215.0L724.4 185.7L736.1 173.9L752.4 162.2L771.0 147.5L789.7 138.7L801.3 141.6L794.3 156.3L775.7 162.2L771.0 173.9L773.4 191.5L764.0 209.2L747.7 218.0Z" opacity="0.50"/></g>
<g filter="url(#f1l)"><ellipse cx="82.6" cy="83.1" rx="13.9" ry="7.1"/><ellipse cx="113.0" cy="86.8" rx="12.6" ry="13.9"/><ellipse cx="120.5" cy="103.8" rx="16.5" ry="5.8" transform="rotate(-28 120.5 103.8)"/><ellipse cx="107.9" cy="97.0" rx="7.6" ry="5.1"/><ellipse cx="166.0" cy="95.7" rx="8.9" ry="5.8"/><ellipse cx="221.6" cy="89.4" rx="27.8" ry="10.1"/><ellipse cx="262.0" cy="85.6" rx="25.3" ry="15.2"/><ellipse cx="272.1" cy="57.8" rx="15.2" ry="10.1"/><ellipse cx="246.9" cy="67.9" rx="15.2" ry="6.3"/><ellipse cx="231.7" cy="57.8" rx="8.9" ry="3.8"/><ellipse cx="191.3" cy="105.8" rx="6.3" ry="5.1"/><ellipse cx="262.0" cy="105.8" rx="12.6" ry="7.6"/><ellipse cx="195.1" cy="131.1" rx="4.8" ry="7.6"/><ellipse cx="241.8" cy="172.0" rx="10.1" ry="7.1"/><ellipse cx="206.4" cy="148.7" rx="4.8" ry="8.9"/><ellipse cx="308.3" cy="73.0" rx="37.9" ry="20.2"/><ellipse cx="298.2" cy="45.2" rx="15.2" ry="7.6"/><ellipse cx="333.5" cy="113.4" rx="32.8" ry="15.2"/><ellipse cx="313.3" cy="151.8" rx="13.9" ry="5.8"/><ellipse cx="482.6" cy="112.9" rx="3.8" ry="4.8"/><ellipse cx="486.4" cy="167.7" rx="8.9" ry="5.8"/><ellipse cx="511.2" cy="98.2" rx="8.1" ry="5.6"/><ellipse cx="523.8" cy="86.8" rx="8.9" ry="5.1"/><ellipse cx="531.4" cy="95.7" rx="6.3" ry="5.1"/><ellipse cx="556.6" cy="88.6" rx="10.6" ry="5.1"/><ellipse cx="578.1" cy="84.3" rx="9.4" ry="5.3"/><ellipse cx="503.6" cy="148.7" rx="7.6" ry="5.1"/><ellipse cx="617.3" cy="80.5" rx="20.2" ry="5.1"/><ellipse cx="657.7" cy="73.0" rx="15.2" ry="7.6"/><ellipse cx="688.0" cy="67.9" rx="20.2" ry="10.1"/><ellipse cx="703.7" cy="88.6" rx="7.6" ry="10.1"/><ellipse cx="584.4" cy="131.6" rx="15.2" ry="7.1"/><ellipse cx="614.7" cy="126.0" rx="11.4" ry="5.1"/><ellipse cx="672.9" cy="126.0" rx="16.5" ry="5.1"/><ellipse cx="592.0" cy="172.0" rx="15.2" ry="6.3"/><ellipse cx="569.3" cy="171.5" rx="10.1" ry="5.1"/><ellipse cx="647.6" cy="175.3" rx="16.5" ry="5.8"/><ellipse cx="521.3" cy="156.8" rx="5.1" ry="7.6"/><ellipse cx="622.3" cy="63.4" rx="10.6" ry="5.6"/><ellipse cx="688.0" cy="57.8" rx="20.2" ry="6.3"/><ellipse cx="745.9" cy="64.1" rx="63.2" ry="11.4"/><ellipse cx="859.6" cy="79.3" rx="55.6" ry="8.8"/><ellipse cx="859.6" cy="118.9" rx="4.8" ry="8.9"/><ellipse cx="814.1" cy="131.6" rx="7.6" ry="7.6"/><ellipse cx="733.3" cy="141.7" rx="21.5" ry="5.8"/><ellipse cx="715.6" cy="176.5" rx="13.9" ry="5.1"/><ellipse cx="788.8" cy="161.4" rx="5.1" ry="5.1"/><ellipse cx="791.4" cy="105.8" rx="20.2" ry="7.6" opacity="0.70"/><ellipse cx="839.4" cy="93.2" rx="15.2" ry="7.6" opacity="0.60"/><ellipse cx="222.7" cy="180.3" rx="12.6" ry="7.6"/><ellipse cx="215.2" cy="165.2" rx="7.6" ry="6.3" opacity="0.60"/><ellipse cx="301.1" cy="198.0" rx="3.8" ry="7.6"/><ellipse cx="288.4" cy="172.7" rx="8.9" ry="5.1" opacity="0.60"/><ellipse cx="232.8" cy="193.0" rx="7.6" ry="10.1"/><ellipse cx="228.3" cy="203.1" rx="3.3" ry="11.4" transform="rotate(-20 228.3 203.1)"/><ellipse cx="283.4" cy="221.2" rx="5.1" ry="5.1"/><ellipse cx="318.7" cy="264.2" rx="7.6" ry="10.1"/><ellipse cx="376.9" cy="276.8" rx="7.6" ry="5.1"/><ellipse cx="315.5" cy="321.2" rx="10.1" ry="7.1"/><ellipse cx="310.4" cy="308.1" rx="5.1" ry="7.6"/><ellipse cx="371.1" cy="270.2" rx="5.1" ry="5.1"/><ellipse cx="335.7" cy="341.5" rx="7.6" ry="10.1"/><ellipse cx="333.2" cy="364.2" rx="7.6" ry="15.2"/><ellipse cx="330.6" cy="397.0" rx="7.6" ry="5.1"/><ellipse cx="331.9" cy="405.3" rx="7.1" ry="12.6"/><ellipse cx="486.1" cy="168.3" rx="8.9" ry="4.8"/><ellipse cx="513.4" cy="153.1" rx="6.4" ry="4.8"/><ellipse cx="572.0" cy="163.2" rx="13.9" ry="4.8"/><ellipse cx="581.6" cy="150.1" rx="8.9" ry="5.1"/><ellipse cx="604.3" cy="181.7" rx="20.2" ry="9.6"/><ellipse cx="589.2" cy="172.8" rx="10.1" ry="6.3"/><ellipse cx="623.3" cy="170.8" rx="15.2" ry="7.6"/><ellipse cx="513.4" cy="238.0" rx="63.2" ry="5.6"/><ellipse cx="467.9" cy="233.5" rx="12.6" ry="5.1"/><ellipse cx="460.3" cy="241.6" rx="7.6" ry="7.6"/><ellipse cx="594.2" cy="254.2" rx="12.6" ry="10.1"/><ellipse cx="604.8" cy="248.6" rx="6.4" ry="3.8"/><ellipse cx="599.1" cy="267.6" rx="5.1" ry="5.1"/><ellipse cx="561.2" cy="306.0" rx="5.1" ry="7.6"/><ellipse cx="535.9" cy="323.7" rx="7.6" ry="7.6"/><ellipse cx="546.0" cy="366.6" rx="12.6" ry="7.6"/><ellipse cx="563.7" cy="335.8" rx="5.1" ry="7.6"/><ellipse cx="599.1" cy="336.3" rx="3.3" ry="8.9"/><ellipse cx="635.2" cy="176.0" rx="15.2" ry="5.1"/><ellipse cx="708.4" cy="181.0" rx="32.8" ry="6.3"/><ellipse cx="741.3" cy="167.9" rx="15.2" ry="5.1"/><ellipse cx="652.8" cy="191.1" rx="7.6" ry="10.1"/><ellipse cx="640.2" cy="200.7" rx="5.1" ry="7.6"/><ellipse cx="653.4" cy="203.8" rx="3.8" ry="8.9"/><ellipse cx="731.2" cy="249.3" rx="6.4" ry="5.1"/><ellipse cx="728.6" cy="196.2" rx="7.6" ry="5.1"/><ellipse cx="751.0" cy="273.2" rx="3.8" ry="6.4"/><ellipse cx="809.1" cy="290.9" rx="8.9" ry="5.1"/><ellipse cx="804.0" cy="326.3" rx="15.2" ry="10.1"/><ellipse cx="796.4" cy="318.7" rx="6.4" ry="5.1"/><ellipse cx="773.7" cy="351.6" rx="10.1" ry="7.6" opacity="0.50"/><ellipse cx="819.2" cy="361.7" rx="10.1" ry="7.6" opacity="0.50"/><ellipse cx="905.1" cy="394.5" rx="3.8" ry="3.8"/><ellipse cx="692.3" cy="185.0" rx="35.8" ry="6.7"/><ellipse cx="651.7" cy="196.4" rx="9.6" ry="16.7"/></g>
<g filter="url(#f1q)"><ellipse cx="581.6" cy="223.4" rx="7.6" ry="15.2" opacity="0.50"/></g>
<g filter="url(#f1d)"><ellipse cx="677.9" cy="80.5" rx="20.2" ry="10.1"/><ellipse cx="632.4" cy="127.5" rx="15.2" ry="3.8"/><ellipse cx="723.2" cy="67.9" rx="20.2" ry="6.3"/><ellipse cx="263.2" cy="185.9" rx="8.1" ry="7.6"/></g>
<g filter="url(#f1p)"><ellipse cx="210.2" cy="65.4" rx="8.9" ry="5.8"/><ellipse cx="231.7" cy="67.9" rx="7.6" ry="4.3"/><ellipse cx="224.1" cy="55.3" rx="6.4" ry="3.8"/><ellipse cx="196.3" cy="78.0" rx="13.9" ry="4.3"/><ellipse cx="336.1" cy="87.6" rx="8.4" ry="4.3"/><ellipse cx="298.2" cy="70.4" rx="7.6" ry="3.8"/><ellipse cx="293.1" cy="40.1" rx="8.9" ry="3.8"/><ellipse cx="341.1" cy="105.8" rx="6.3" ry="7.6"/><ellipse cx="331.0" cy="117.2" rx="8.9" ry="4.8"/><ellipse cx="361.3" cy="137.4" rx="7.6" ry="5.1"/><ellipse cx="333.5" cy="144.2" rx="11.4" ry="5.8"/><ellipse cx="571.8" cy="88.1" rx="5.1" ry="4.3"/><ellipse cx="705.7" cy="80.5" rx="5.1" ry="5.1"/><ellipse cx="609.7" cy="131.6" rx="20.2" ry="7.6"/><ellipse cx="650.1" cy="136.1" rx="37.9" ry="12.6"/><ellipse cx="579.4" cy="161.4" rx="15.2" ry="6.3"/><ellipse cx="657.7" cy="148.7" rx="15.2" ry="5.1"/><ellipse cx="698.1" cy="146.2" rx="10.1" ry="5.1"/><ellipse cx="506.1" cy="174.5" rx="11.4" ry="5.1"/><ellipse cx="805.3" cy="80.5" rx="10.1" ry="6.3"/><ellipse cx="829.3" cy="78.0" rx="8.9" ry="4.8"/><ellipse cx="849.5" cy="80.5" rx="11.4" ry="4.8"/><ellipse cx="879.8" cy="78.0" rx="11.4" ry="4.3"/><ellipse cx="814.6" cy="108.8" rx="10.6" ry="10.1"/><ellipse cx="864.6" cy="110.8" rx="7.6" ry="10.6"/><ellipse cx="778.7" cy="141.7" rx="7.6" ry="7.6"/><ellipse cx="718.1" cy="166.9" rx="15.2" ry="7.1"/><ellipse cx="753.5" cy="149.3" rx="15.2" ry="7.6"/><ellipse cx="788.8" cy="169.5" rx="4.3" ry="7.6"/><ellipse cx="824.7" cy="151.8" rx="6.4" ry="4.3"/><ellipse cx="720.6" cy="86.8" rx="12.6" ry="6.3" opacity="0.70"/><ellipse cx="341.5" cy="256.6" rx="15.2" ry="7.6"/><ellipse cx="361.7" cy="261.7" rx="10.1" ry="7.6"/><ellipse cx="326.3" cy="284.4" rx="10.1" ry="5.1"/><ellipse cx="333.2" cy="277.8" rx="10.1" ry="7.6"/><ellipse cx="355.9" cy="282.8" rx="7.6" ry="7.6"/><ellipse cx="358.4" cy="265.2" rx="10.1" ry="5.1"/><ellipse cx="371.1" cy="333.9" rx="5.1" ry="5.1"/><ellipse cx="340.7" cy="379.4" rx="7.6" ry="5.1"/><ellipse cx="328.6" cy="423.5" rx="7.1" ry="7.6"/><ellipse cx="566.4" cy="157.7" rx="11.4" ry="3.8"/><ellipse cx="503.3" cy="177.9" rx="16.5" ry="5.8"/><ellipse cx="627.1" cy="165.3" rx="11.4" ry="4.8"/><ellipse cx="480.5" cy="249.1" rx="25.3" ry="7.6"/><ellipse cx="538.6" cy="287.0" rx="8.9" ry="5.1"/><ellipse cx="602.3" cy="264.3" rx="5.1" ry="7.6"/><ellipse cx="543.5" cy="283.2" rx="5.1" ry="5.1"/><ellipse cx="551.1" cy="311.0" rx="12.6" ry="7.6"/><ellipse cx="571.3" cy="323.7" rx="5.1" ry="5.1"/><ellipse cx="525.8" cy="335.8" rx="7.1" ry="20.2"/><ellipse cx="538.4" cy="374.2" rx="7.6" ry="5.1"/><ellipse cx="533.4" cy="356.5" rx="6.3" ry="10.1"/><ellipse cx="777.2" cy="140.6" rx="5.1" ry="5.1"/><ellipse cx="789.8" cy="170.9" rx="3.8" ry="6.4"/><ellipse cx="723.2" cy="265.2" rx="3.8" ry="6.4"/><ellipse cx="756.0" cy="275.8" rx="6.3" ry="7.6"/><ellipse cx="821.7" cy="293.5" rx="5.1" ry="3.3"/><ellipse cx="747.2" cy="141.5" rx="26.3" ry="9.6"/></g>
<g filter="url(#f1e)"><ellipse cx="541.5" cy="80.5" rx="17.7" ry="7.1"/></g>
<g filter="url(#f1c)"><ellipse cx="181.2" cy="89.4" rx="8.9" ry="5.8"/><ellipse cx="735.8" cy="90.6" rx="27.8" ry="10.1"/><ellipse cx="783.8" cy="151.8" rx="7.6" ry="7.6" opacity="0.60"/><ellipse cx="773.7" cy="148.7" rx="7.6" ry="6.3"/></g>
<g filter="url(#f1h)"><ellipse cx="244.3" cy="126.0" rx="9.6" ry="5.6"/><ellipse cx="310.8" cy="138.1" rx="13.9" ry="5.3"/><ellipse cx="207.6" cy="167.7" rx="4.3" ry="8.9" transform="rotate(-20 207.6 167.7)" opacity="0.60"/><ellipse cx="253.1" cy="180.8" rx="7.6" ry="10.1" opacity="0.70"/><ellipse cx="243.0" cy="172.7" rx="7.6" ry="5.1" opacity="0.50"/><ellipse cx="255.6" cy="213.2" rx="6.3" ry="7.6" opacity="0.70"/><ellipse cx="594.3" cy="145.1" rx="8.5" ry="4.6"/><ellipse cx="732.9" cy="139.1" rx="13.2" ry="5.1" opacity="0.50"/></g>
<g filter="url(#f1m)"><ellipse cx="149.6" cy="84.3" rx="15.2" ry="5.1"/><ellipse cx="130.6" cy="84.3" rx="6.4" ry="4.3"/><ellipse cx="201.4" cy="98.2" rx="8.8" ry="5.6"/><ellipse cx="251.9" cy="105.8" rx="7.6" ry="5.1"/><ellipse cx="211.5" cy="115.9" rx="6.4" ry="5.1"/><ellipse cx="236.8" cy="143.7" rx="6.3" ry="5.1"/><ellipse cx="257.5" cy="151.8" rx="5.8" ry="5.3"/><ellipse cx="221.6" cy="171.5" rx="5.1" ry="5.1"/><ellipse cx="320.9" cy="124.0" rx="24.0" ry="4.8"/><ellipse cx="353.7" cy="124.7" rx="11.4" ry="4.3"/><ellipse cx="298.2" cy="161.9" rx="7.6" ry="5.1" opacity="0.40"/><ellipse cx="315.8" cy="161.4" rx="6.3" ry="5.1" opacity="0.40"/><ellipse cx="485.1" cy="136.1" rx="5.1" ry="4.3"/><ellipse cx="492.7" cy="161.4" rx="4.8" ry="6.4"/><ellipse cx="521.3" cy="107.1" rx="5.1" ry="5.1"/><ellipse cx="579.4" cy="96.2" rx="20.2" ry="7.6"/><ellipse cx="511.2" cy="139.1" rx="12.6" ry="10.1"/><ellipse cx="637.5" cy="93.2" rx="25.3" ry="10.1"/><ellipse cx="672.9" cy="96.2" rx="25.3" ry="12.6"/><ellipse cx="566.7" cy="136.6" rx="10.1" ry="5.1"/><ellipse cx="546.5" cy="161.9" rx="7.6" ry="5.1"/><ellipse cx="783.8" cy="81.8" rx="50.5" ry="10.1"/><ellipse cx="839.4" cy="88.6" rx="25.3" ry="7.1"/><ellipse cx="788.8" cy="136.6" rx="20.2" ry="12.6"/><ellipse cx="771.2" cy="131.1" rx="10.1" ry="6.3"/><ellipse cx="823.5" cy="131.1" rx="2.8" ry="11.4"/><ellipse cx="826.7" cy="98.7" rx="15.2" ry="6.3" opacity="0.60"/><ellipse cx="268.2" cy="162.6" rx="15.2" ry="7.6" opacity="0.50"/><ellipse cx="250.5" cy="157.6" rx="10.1" ry="5.1"/><ellipse cx="301.1" cy="175.3" rx="12.6" ry="10.1" opacity="0.60"/><ellipse cx="331.4" cy="151.3" rx="6.4" ry="3.8"/><ellipse cx="240.4" cy="208.1" rx="5.1" ry="7.6"/><ellipse cx="263.2" cy="218.7" rx="5.1" ry="5.1"/><ellipse cx="275.8" cy="233.9" rx="6.4" ry="3.8"/><ellipse cx="324.3" cy="224.8" rx="6.4" ry="3.3"/><ellipse cx="351.6" cy="269.3" rx="12.6" ry="7.6"/><ellipse cx="345.8" cy="296.0" rx="12.6" ry="7.6"/><ellipse cx="371.1" cy="308.6" rx="7.6" ry="10.1"/><ellipse cx="363.5" cy="371.8" rx="5.1" ry="5.1"/><ellipse cx="338.2" cy="369.3" rx="5.1" ry="7.6"/><ellipse cx="475.5" cy="163.2" rx="5.1" ry="5.1"/><ellipse cx="526.0" cy="150.6" rx="7.6" ry="7.6"/><ellipse cx="541.2" cy="160.7" rx="6.3" ry="6.3"/><ellipse cx="556.3" cy="241.6" rx="26.6" ry="5.3"/><ellipse cx="548.7" cy="269.4" rx="10.1" ry="7.6"/><ellipse cx="581.6" cy="248.6" rx="10.1" ry="6.3"/><ellipse cx="586.6" cy="261.8" rx="7.6" ry="7.6"/><ellipse cx="591.5" cy="275.2" rx="7.6" ry="7.6"/><ellipse cx="538.4" cy="306.0" rx="10.1" ry="10.1"/><ellipse cx="541.0" cy="333.8" rx="10.1" ry="10.1"/><ellipse cx="657.9" cy="201.2" rx="5.1" ry="7.6"/><ellipse cx="680.6" cy="226.5" rx="7.6" ry="7.6"/><ellipse cx="713.5" cy="211.4" rx="5.1" ry="10.1"/><ellipse cx="738.7" cy="213.9" rx="5.1" ry="5.1"/><ellipse cx="736.2" cy="181.0" rx="7.6" ry="10.1"/><ellipse cx="766.5" cy="201.2" rx="5.1" ry="7.6"/><ellipse cx="746.3" cy="205.8" rx="7.6" ry="5.1"/><ellipse cx="796.9" cy="145.7" rx="15.2" ry="12.6"/><ellipse cx="761.5" cy="165.4" rx="7.6" ry="5.1"/><ellipse cx="786.8" cy="165.4" rx="3.8" ry="4.3"/><ellipse cx="679.9" cy="257.8" rx="3.3" ry="5.1"/><ellipse cx="773.7" cy="283.4" rx="4.3" ry="8.9"/><ellipse cx="834.3" cy="301.0" rx="5.1" ry="5.1"/><ellipse cx="829.8" cy="336.4" rx="5.1" ry="7.6"/><ellipse cx="844.9" cy="359.1" rx="4.3" ry="8.9"/></g>
<g filter="url(#f1s)"><ellipse cx="597.1" cy="153.8" rx="7.6" ry="5.1"/><ellipse cx="505.8" cy="255.2" rx="8.9" ry="3.8"/></g>
<g filter="url(#f1y)"><ellipse cx="173.6" cy="93.2" rx="4.3" ry="3.8"/><ellipse cx="221.6" cy="114.6" rx="7.6" ry="5.8"/><ellipse cx="251.9" cy="121.0" rx="5.1" ry="4.3"/><ellipse cx="272.1" cy="126.0" rx="4.3" ry="4.8"/><ellipse cx="300.7" cy="135.6" rx="6.4" ry="3.8"/><ellipse cx="320.9" cy="136.1" rx="5.1" ry="3.3"/><ellipse cx="584.4" cy="102.5" rx="4.8" ry="4.8"/><ellipse cx="556.6" cy="148.7" rx="3.3" ry="6.4"/><ellipse cx="740.8" cy="101.2" rx="7.6" ry="6.3"/><ellipse cx="723.2" cy="88.1" rx="8.9" ry="5.1"/><ellipse cx="807.0" cy="118.9" rx="5.1" ry="5.1"/><ellipse cx="761.6" cy="172.0" rx="7.6" ry="5.1"/><ellipse cx="819.2" cy="161.9" rx="3.8" ry="8.9" transform="rotate(20 819.2 161.9)"/><ellipse cx="814.1" cy="174.5" rx="6.4" ry="5.1" transform="rotate(40 814.1 174.5)"/><ellipse cx="258.6" cy="223.8" rx="6.4" ry="4.8"/><ellipse cx="288.4" cy="237.4" rx="3.8" ry="4.8"/><ellipse cx="355.9" cy="328.8" rx="10.1" ry="5.1"/><ellipse cx="381.2" cy="341.5" rx="8.9" ry="4.8"/><ellipse cx="353.4" cy="356.6" rx="5.1" ry="8.8"/><ellipse cx="369.8" cy="366.7" rx="6.3" ry="5.1"/><ellipse cx="475.2" cy="261.6" rx="3.8" ry="3.3"/><ellipse cx="318.0" cy="425.5" rx="2.6" ry="8.9"/><ellipse cx="555.1" cy="152.6" rx="3.3" ry="6.4"/><ellipse cx="473.5" cy="259.3" rx="5.1" ry="3.8"/><ellipse cx="531.1" cy="264.3" rx="10.1" ry="6.3"/><ellipse cx="515.9" cy="284.5" rx="3.8" ry="6.4"/><ellipse cx="530.8" cy="267.6" rx="7.6" ry="5.1"/><ellipse cx="517.0" cy="285.3" rx="5.1" ry="6.4"/><ellipse cx="546.0" cy="300.9" rx="5.1" ry="5.1"/><ellipse cx="581.9" cy="314.3" rx="3.8" ry="3.3"/><ellipse cx="475.3" cy="261.3" rx="6.4" ry="3.3"/><ellipse cx="726.1" cy="221.5" rx="7.6" ry="7.6"/><ellipse cx="733.7" cy="231.6" rx="5.1" ry="5.1"/><ellipse cx="751.9" cy="191.1" rx="13.1" ry="10.1"/><ellipse cx="769.6" cy="178.5" rx="5.1" ry="8.9"/><ellipse cx="784.2" cy="150.7" rx="5.1" ry="7.6" opacity="0.50"/><ellipse cx="817.6" cy="165.9" rx="3.8" ry="11.4" transform="rotate(40 817.6 165.9)"/><ellipse cx="756.9" cy="272.0" rx="5.1" ry="5.1"/><ellipse cx="758.5" cy="280.8" rx="3.3" ry="3.3"/></g>
<g filter="url(#f1o)"><ellipse cx="216.5" cy="105.8" rx="5.8" ry="4.6"/><ellipse cx="244.3" cy="126.5" rx="4.8" ry="3.6"/><ellipse cx="214.0" cy="161.9" rx="3.8" ry="7.6" transform="rotate(-15 214.0 161.9)"/><ellipse cx="264.5" cy="131.1" rx="4.8" ry="6.4"/><ellipse cx="257.0" cy="174.0" rx="6.4" ry="4.8"/><ellipse cx="341.1" cy="131.6" rx="4.8" ry="3.3"/><ellipse cx="313.3" cy="138.6" rx="5.8" ry="3.3"/><ellipse cx="492.7" cy="177.0" rx="6.4" ry="3.8"/><ellipse cx="546.5" cy="76.7" rx="8.9" ry="3.8" opacity="0.45"/><ellipse cx="501.1" cy="131.1" rx="6.4" ry="4.3"/><ellipse cx="595.8" cy="146.2" rx="7.9" ry="4.3"/><ellipse cx="684.2" cy="124.7" rx="4.3" ry="3.8"/><ellipse cx="735.8" cy="93.2" rx="8.1" ry="5.1"/><ellipse cx="764.8" cy="89.4" rx="5.3" ry="4.3"/><ellipse cx="805.3" cy="121.5" rx="3.8" ry="3.8"/><ellipse cx="254.3" cy="197.0" rx="6.4" ry="4.8"/><ellipse cx="296.0" cy="245.0" rx="3.3" ry="3.8"/><ellipse cx="328.9" cy="248.0" rx="12.7" ry="3.8"/><ellipse cx="344.0" cy="251.1" rx="8.9" ry="3.8" opacity="0.50"/><ellipse cx="364.2" cy="297.0" rx="3.8" ry="3.3"/><ellipse cx="363.5" cy="298.0" rx="5.1" ry="5.1"/><ellipse cx="343.3" cy="257.6" rx="11.4" ry="4.8" opacity="0.60"/><ellipse cx="348.8" cy="336.4" rx="5.1" ry="5.1"/><ellipse cx="383.7" cy="345.3" rx="7.6" ry="3.8"/><ellipse cx="344.5" cy="346.5" rx="4.3" ry="5.1"/><ellipse cx="350.8" cy="351.6" rx="5.1" ry="5.1"/><ellipse cx="324.3" cy="388.5" rx="2.8" ry="5.1"/><ellipse cx="472.1" cy="255.1" rx="6.4" ry="4.8"/><ellipse cx="320.5" cy="387.6" rx="3.3" ry="6.4"/><ellipse cx="596.8" cy="147.6" rx="9.4" ry="4.8"/><ellipse cx="475.0" cy="181.9" rx="7.9" ry="4.8"/><ellipse cx="488.1" cy="177.9" rx="11.4" ry="4.3" opacity="0.50"/><ellipse cx="496.2" cy="251.7" rx="13.9" ry="5.1"/><ellipse cx="580.1" cy="318.6" rx="5.1" ry="6.4"/><ellipse cx="572.5" cy="346.4" rx="2.8" ry="5.1"/><ellipse cx="607.2" cy="326.2" rx="2.8" ry="8.9"/><ellipse cx="485.4" cy="262.5" rx="11.4" ry="3.8"/><ellipse cx="728.6" cy="218.9" rx="3.8" ry="3.8"/><ellipse cx="761.5" cy="186.1" rx="6.4" ry="3.8"/><ellipse cx="753.9" cy="190.6" rx="3.8" ry="3.3"/><ellipse cx="775.0" cy="288.4" rx="2.6" ry="3.3"/><ellipse cx="818.2" cy="298.5" rx="5.1" ry="4.3"/><ellipse cx="766.6" cy="380.4" rx="6.4" ry="3.3"/><ellipse cx="898.8" cy="386.9" rx="3.3" ry="5.1"/><ellipse cx="593.1" cy="145.8" rx="4.6" ry="3.2"/></g>
<g filter="url(#f1b)"><ellipse cx="148.3" cy="81.8" rx="4.3" ry="3.3"/><ellipse cx="157.2" cy="86.1" rx="3.8" ry="3.1"/><ellipse cx="231.7" cy="110.8" rx="5.8" ry="4.6"/><ellipse cx="246.9" cy="113.4" rx="4.1" ry="4.1"/><ellipse cx="203.4" cy="137.4" rx="5.6" ry="6.6"/><ellipse cx="227.2" cy="136.1" rx="6.9" ry="5.8"/><ellipse cx="264.5" cy="148.7" rx="5.1" ry="4.3"/><ellipse cx="270.9" cy="171.5" rx="10.1" ry="7.1" opacity="0.50"/><ellipse cx="272.1" cy="138.6" rx="7.6" ry="5.1"/><ellipse cx="288.1" cy="129.8" rx="6.9" ry="4.3"/><ellipse cx="293.1" cy="174.5" rx="10.1" ry="5.1" opacity="0.60"/><ellipse cx="308.3" cy="171.5" rx="6.4" ry="5.1" opacity="0.50"/><ellipse cx="493.2" cy="141.2" rx="6.6" ry="6.6"/><ellipse cx="482.6" cy="156.3" rx="9.1" ry="7.1"/><ellipse cx="516.2" cy="113.4" rx="5.1" ry="4.3"/><ellipse cx="552.8" cy="96.2" rx="8.9" ry="4.8"/><ellipse cx="559.2" cy="103.8" rx="15.2" ry="7.1" opacity="0.72"/><ellipse cx="526.3" cy="131.1" rx="24.0" ry="12.6" opacity="0.70"/><ellipse cx="609.7" cy="103.8" rx="30.3" ry="10.1" opacity="0.72"/><ellipse cx="592.0" cy="113.9" rx="15.2" ry="7.6" opacity="0.72"/><ellipse cx="695.6" cy="105.8" rx="7.6" ry="10.1"/><ellipse cx="685.5" cy="113.4" rx="7.6" ry="6.3"/><ellipse cx="549.1" cy="141.7" rx="7.6" ry="6.3" opacity="0.50"/><ellipse cx="579.4" cy="136.1" rx="7.6" ry="5.1" opacity="0.50"/><ellipse cx="533.9" cy="151.8" rx="10.1" ry="7.6" opacity="0.50"/><ellipse cx="501.1" cy="156.8" rx="7.6" ry="7.6" opacity="0.60"/><ellipse cx="740.8" cy="123.5" rx="25.3" ry="7.6"/><ellipse cx="781.3" cy="96.2" rx="10.1" ry="5.1"/><ellipse cx="713.1" cy="95.7" rx="6.4" ry="5.1"/><ellipse cx="793.9" cy="131.6" rx="10.1" ry="7.6"/><ellipse cx="745.9" cy="177.0" rx="12.6" ry="5.1"/><ellipse cx="804.0" cy="176.5" rx="5.1" ry="4.3"/><ellipse cx="278.3" cy="160.1" rx="8.9" ry="5.1" opacity="0.40"/><ellipse cx="268.2" cy="182.8" rx="5.1" ry="7.6"/><ellipse cx="285.9" cy="183.4" rx="12.6" ry="6.1"/><ellipse cx="311.2" cy="165.7" rx="7.6" ry="7.6" opacity="0.50"/><ellipse cx="301.1" cy="160.1" rx="7.6" ry="5.1" opacity="0.40"/><ellipse cx="321.3" cy="155.1" rx="7.6" ry="5.1" opacity="0.40"/><ellipse cx="273.3" cy="225.8" rx="7.6" ry="4.8"/><ellipse cx="288.4" cy="225.8" rx="4.3" ry="4.3"/><ellipse cx="306.1" cy="214.4" rx="12.7" ry="3.3" transform="rotate(20 306.1 214.4)"/><ellipse cx="313.7" cy="271.8" rx="5.1" ry="7.6"/><ellipse cx="320.0" cy="256.1" rx="5.1" ry="6.4"/><ellipse cx="331.4" cy="271.8" rx="10.1" ry="7.6"/><ellipse cx="341.5" cy="286.9" rx="7.6" ry="5.1"/><ellipse cx="366.8" cy="286.4" rx="6.4" ry="5.1"/><ellipse cx="318.0" cy="267.7" rx="7.6" ry="7.6"/><ellipse cx="315.5" cy="300.5" rx="7.6" ry="10.1"/><ellipse cx="335.7" cy="285.9" rx="7.6" ry="5.1"/><ellipse cx="338.2" cy="321.2" rx="7.6" ry="7.6"/><ellipse cx="381.2" cy="321.2" rx="10.1" ry="10.1"/><ellipse cx="376.1" cy="295.5" rx="5.1" ry="5.1"/><ellipse cx="363.5" cy="341.5" rx="6.3" ry="6.3"/><ellipse cx="374.1" cy="354.1" rx="5.1" ry="5.1"/><ellipse cx="358.4" cy="361.7" rx="5.1" ry="6.4"/><ellipse cx="376.1" cy="363.7" rx="5.1" ry="5.1"/><ellipse cx="353.4" cy="379.4" rx="7.6" ry="5.1"/><ellipse cx="344.5" cy="390.5" rx="5.1" ry="5.1"/><ellipse cx="480.2" cy="257.6" rx="3.8" ry="4.8"/><ellipse cx="344.5" cy="390.1" rx="6.4" ry="5.1"/><ellipse cx="480.5" cy="157.7" rx="9.1" ry="7.6"/><ellipse cx="500.7" cy="145.1" rx="15.2" ry="6.1"/><ellipse cx="538.6" cy="147.6" rx="7.6" ry="6.1"/><ellipse cx="531.1" cy="157.7" rx="4.3" ry="7.6"/><ellipse cx="483.6" cy="256.7" rx="3.3" ry="3.8"/><ellipse cx="515.9" cy="264.3" rx="5.1" ry="5.1"/><ellipse cx="536.1" cy="276.9" rx="7.6" ry="7.6"/><ellipse cx="526.0" cy="281.5" rx="5.1" ry="6.4"/><ellipse cx="569.0" cy="259.3" rx="6.3" ry="10.1"/><ellipse cx="518.2" cy="272.6" rx="5.1" ry="7.6"/><ellipse cx="533.4" cy="278.2" rx="7.6" ry="5.1"/><ellipse cx="556.1" cy="272.6" rx="7.6" ry="7.6"/><ellipse cx="586.4" cy="267.6" rx="7.6" ry="5.1"/><ellipse cx="528.3" cy="298.4" rx="6.3" ry="10.1"/><ellipse cx="556.1" cy="298.4" rx="5.1" ry="5.1"/><ellipse cx="576.3" cy="303.5" rx="5.1" ry="5.1"/><ellipse cx="556.1" cy="338.8" rx="7.6" ry="7.6"/><ellipse cx="673.1" cy="203.8" rx="20.2" ry="15.2"/><ellipse cx="673.1" cy="236.6" rx="6.3" ry="15.2"/><ellipse cx="703.4" cy="203.8" rx="7.6" ry="7.6"/><ellipse cx="695.8" cy="193.2" rx="10.1" ry="5.1"/><ellipse cx="721.1" cy="236.6" rx="3.8" ry="11.4"/><ellipse cx="738.7" cy="248.7" rx="4.3" ry="5.1"/><ellipse cx="756.4" cy="208.8" rx="7.6" ry="5.1"/><ellipse cx="751.9" cy="176.0" rx="5.1" ry="5.1"/><ellipse cx="802.4" cy="135.6" rx="10.1" ry="5.1"/><ellipse cx="771.6" cy="158.3" rx="7.6" ry="5.1"/><ellipse cx="781.7" cy="249.3" rx="4.3" ry="7.6"/><ellipse cx="726.6" cy="264.4" rx="3.8" ry="8.9"/><ellipse cx="762.0" cy="266.9" rx="5.1" ry="5.1"/><ellipse cx="725.7" cy="273.2" rx="5.1" ry="8.9" transform="rotate(40 725.7 273.2)"/><ellipse cx="718.1" cy="262.6" rx="3.8" ry="6.4"/><ellipse cx="753.5" cy="302.0" rx="13.9" ry="3.3" transform="rotate(10 753.5 302.0)"/><ellipse cx="764.1" cy="268.2" rx="5.1" ry="6.4"/><ellipse cx="826.7" cy="296.0" rx="6.4" ry="5.1"/><ellipse cx="826.7" cy="323.8" rx="3.8" ry="11.4"/><ellipse cx="829.3" cy="386.9" rx="10.1" ry="5.1"/></g>
<g filter="url(#f1t)"><ellipse cx="313.0" cy="280.3" rx="5.1" ry="5.1"/><ellipse cx="524.7" cy="240.6" rx="3.3" ry="2.8"/><ellipse cx="551.1" cy="351.5" rx="10.1" ry="7.6"/><ellipse cx="556.1" cy="366.6" rx="7.6" ry="5.1"/><ellipse cx="814.1" cy="344.0" rx="7.6" ry="7.6" opacity="0.50"/></g>
<g filter="url(#f1g)"><ellipse cx="234.7" cy="111.4" rx="3.1" ry="3.1"/><ellipse cx="201.4" cy="118.4" rx="4.8" ry="4.1"/><ellipse cx="221.6" cy="144.2" rx="4.6" ry="4.1"/><ellipse cx="280.8" cy="229.8" rx="3.8" ry="3.8"/><ellipse cx="354.6" cy="274.3" rx="3.8" ry="3.8"/><ellipse cx="371.8" cy="294.5" rx="6.4" ry="4.8"/><ellipse cx="348.8" cy="275.3" rx="5.1" ry="5.1"/><ellipse cx="345.8" cy="311.1" rx="10.1" ry="5.1"/><ellipse cx="363.5" cy="313.7" rx="7.6" ry="5.1"/><ellipse cx="343.3" cy="328.8" rx="5.1" ry="5.1"/><ellipse cx="396.3" cy="311.1" rx="8.8" ry="12.6"/><ellipse cx="384.2" cy="293.5" rx="5.1" ry="5.1"/><ellipse cx="345.8" cy="361.7" rx="3.3" ry="3.8"/><ellipse cx="467.9" cy="255.0" rx="2.8" ry="2.8"/><ellipse cx="565.0" cy="278.2" rx="3.8" ry="3.8"/><ellipse cx="742.5" cy="240.2" rx="2.6" ry="3.3"/></g>
<g filter="url(#f1G)"><ellipse cx="311.2" cy="289.5" rx="5.1" ry="8.9"/><ellipse cx="381.9" cy="292.0" rx="12.6" ry="7.6"/><ellipse cx="307.9" cy="287.9" rx="5.1" ry="10.1"/><ellipse cx="393.8" cy="293.5" rx="7.6" ry="6.1"/><ellipse cx="399.4" cy="323.8" rx="4.3" ry="7.6"/><ellipse cx="566.4" cy="279.5" rx="5.1" ry="6.4"/><ellipse cx="568.7" cy="288.3" rx="6.3" ry="6.3"/><ellipse cx="566.2" cy="348.9" rx="5.1" ry="5.1"/><ellipse cx="551.1" cy="352.7" rx="4.3" ry="3.8"/><ellipse cx="721.1" cy="266.9" rx="5.1" ry="6.4"/><ellipse cx="730.7" cy="278.3" rx="3.3" ry="4.3"/><ellipse cx="841.1" cy="369.3" rx="5.1" ry="5.1"/></g>
<g filter="url(#f1n)"><ellipse cx="207.7" cy="129.8" rx="5.3" ry="10.9"/><ellipse cx="277.7" cy="131.6" rx="5.8" ry="4.3"/><ellipse cx="285.5" cy="131.1" rx="4.3" ry="3.3"/><ellipse cx="477.5" cy="153.8" rx="4.8" ry="4.8"/><ellipse cx="533.9" cy="126.5" rx="6.9" ry="4.8" opacity="0.70"/><ellipse cx="521.3" cy="136.1" rx="5.8" ry="4.3" opacity="0.70"/><ellipse cx="579.4" cy="121.5" rx="6.9" ry="5.8" opacity="0.70"/><ellipse cx="627.4" cy="105.8" rx="7.4" ry="4.3" opacity="0.70"/><ellipse cx="607.2" cy="98.2" rx="6.4" ry="3.8" opacity="0.70"/><ellipse cx="691.0" cy="124.0" rx="5.1" ry="6.3"/><ellipse cx="715.6" cy="105.8" rx="10.1" ry="7.1"/><ellipse cx="723.2" cy="118.4" rx="12.6" ry="6.3"/><ellipse cx="758.5" cy="126.0" rx="12.6" ry="5.1"/><ellipse cx="787.6" cy="97.0" rx="7.6" ry="4.8"/><ellipse cx="791.4" cy="141.2" rx="5.1" ry="5.1"/><ellipse cx="740.8" cy="175.3" rx="6.4" ry="4.3"/><ellipse cx="278.8" cy="182.8" rx="6.4" ry="4.8"/><ellipse cx="288.4" cy="187.9" rx="6.4" ry="3.8"/><ellipse cx="316.7" cy="160.1" rx="5.1" ry="5.1" opacity="0.50"/><ellipse cx="397.1" cy="294.5" rx="7.6" ry="5.1"/><ellipse cx="401.9" cy="296.0" rx="5.1" ry="6.4"/><ellipse cx="320.5" cy="402.7" rx="3.1" ry="5.1"/><ellipse cx="353.4" cy="432.6" rx="3.8" ry="2.6"/><ellipse cx="571.5" cy="271.9" rx="5.1" ry="10.1"/><ellipse cx="579.1" cy="284.5" rx="5.1" ry="5.1"/><ellipse cx="573.8" cy="275.2" rx="10.1" ry="10.1"/><ellipse cx="578.9" cy="290.8" rx="5.1" ry="7.6"/><ellipse cx="668.0" cy="213.9" rx="10.1" ry="10.1"/><ellipse cx="683.2" cy="206.3" rx="7.6" ry="6.3"/><ellipse cx="802.4" cy="181.0" rx="6.4" ry="4.3"/><ellipse cx="773.4" cy="209.8" rx="2.6" ry="4.3"/><ellipse cx="775.4" cy="234.1" rx="3.8" ry="7.6"/><ellipse cx="779.2" cy="261.9" rx="4.3" ry="5.1"/><ellipse cx="733.3" cy="288.4" rx="3.8" ry="5.1"/><ellipse cx="745.9" cy="300.5" rx="5.1" ry="2.8"/><ellipse cx="753.5" cy="285.9" rx="4.3" ry="4.3"/><ellipse cx="778.7" cy="255.6" rx="5.1" ry="6.4"/><ellipse cx="844.4" cy="290.4" rx="3.8" ry="3.3"/><ellipse cx="837.4" cy="379.4" rx="6.3" ry="10.1"/><ellipse cx="831.8" cy="399.1" rx="3.8" ry="3.3"/></g>
<g filter="url(#f1r)"><ellipse cx="211.5" cy="168.5" rx="1.7" ry="2.7"/><ellipse cx="332.8" cy="132.3" rx="3.7" ry="2.7"/><ellipse cx="702.7" cy="104.0" rx="2.4" ry="2.2"/><ellipse cx="739.6" cy="107.1" rx="2.4" ry="2.9"/><ellipse cx="765.6" cy="90.6" rx="1.7" ry="1.7"/><ellipse cx="293.0" cy="189.9" rx="1.7" ry="1.7"/><ellipse cx="294.2" cy="237.9" rx="2.4" ry="2.4"/><ellipse cx="324.3" cy="246.5" rx="2.9" ry="1.7"/><ellipse cx="362.5" cy="300.5" rx="1.9" ry="2.4"/><ellipse cx="345.8" cy="331.4" rx="2.9" ry="2.4"/><ellipse cx="343.3" cy="345.0" rx="1.7" ry="2.4"/><ellipse cx="325.6" cy="381.9" rx="1.7" ry="4.2"/><ellipse cx="486.8" cy="261.8" rx="1.4" ry="2.4"/><ellipse cx="577.6" cy="326.2" rx="2.4" ry="2.9"/><ellipse cx="736.2" cy="239.1" rx="3.4" ry="1.9"/><ellipse cx="818.2" cy="301.0" rx="1.9" ry="1.7"/></g>
<g filter="url(#f1k)"><ellipse cx="326.8" cy="438.6" rx="5.8" ry="2.8"/></g>
<g filter="url(#f2l)"><path d="M72.2 30.0L910.8 30.0L910.8 455.9L72.2 455.9Z" opacity="0.07"/><ellipse cx="556.1" cy="368.6" rx="10.1" ry="6.3" opacity="0.50"/><ellipse cx="813.5" cy="96.0" rx="40.4" ry="15.2" opacity="0.40"/><ellipse cx="641.8" cy="138.9" rx="45.5" ry="12.6" opacity="0.30"/><ellipse cx="227.8" cy="180.8" rx="10.1" ry="7.6" opacity="0.50"/><ellipse cx="675.2" cy="125.3" rx="15.2" ry="9.1" opacity="0.40"/></g>
<g filter="url(#f2q)"><ellipse cx="548.4" cy="128.0" rx="53.2" ry="27.4" opacity="0.15"/><ellipse cx="641.8" cy="138.9" rx="45.5" ry="12.6" opacity="0.15"/></g>
<g filter="url(#f2d)"><ellipse cx="571.2" cy="137.9" rx="8.1" ry="5.1" opacity="0.50"/><ellipse cx="548.5" cy="343.4" rx="16.4" ry="24.0" opacity="0.55"/><ellipse cx="805.2" cy="350.2" rx="26.9" ry="18.5" opacity="0.25"/><ellipse cx="806.5" cy="335.9" rx="27.8" ry="20.2" opacity="0.20"/><ellipse cx="717.8" cy="134.5" rx="35.0" ry="6.1" opacity="0.60"/><ellipse cx="500.6" cy="236.3" rx="50.5" ry="6.1" opacity="0.40"/></g>
<g filter="url(#f2p)"><path d="M72.2 30.0L910.8 30.0L910.8 455.9L72.2 455.9Z" opacity="0.07"/><ellipse cx="330.6" cy="277.8" rx="6.3" ry="6.3" opacity="0.60"/><ellipse cx="350.8" cy="290.4" rx="6.3" ry="7.6" opacity="0.60"/><ellipse cx="293.5" cy="169.5" rx="11.4" ry="5.6" opacity="0.70"/><ellipse cx="232.8" cy="155.6" rx="17.7" ry="12.6" opacity="0.50"/><ellipse cx="339.0" cy="113.9" rx="7.6" ry="6.3" opacity="0.60"/><ellipse cx="537.0" cy="311.0" rx="12.1" ry="12.1" opacity="0.40"/></g>
<g filter="url(#f2c)"><path d="M72.2 30.0L910.8 30.0L910.8 455.9L72.2 455.9Z" opacity="0.05"/><ellipse cx="584.9" cy="102.5" rx="7.5" ry="7.5" opacity="0.40"/><ellipse cx="551.4" cy="149.3" rx="7.4" ry="5.9" opacity="0.40"/><ellipse cx="583.3" cy="105.2" rx="8.1" ry="5.9" opacity="0.50"/><ellipse cx="265.7" cy="137.9" rx="10.1" ry="7.6" opacity="0.40"/><ellipse cx="757.0" cy="189.8" rx="15.2" ry="12.2" opacity="0.35"/><ellipse cx="526.9" cy="262.5" rx="8.1" ry="7.1" opacity="0.50"/></g>
<g filter="url(#f2h)"><path d="M72.2 30.0L910.8 30.0L910.8 455.9L72.2 455.9Z" opacity="0.05"/><ellipse cx="318.7" cy="135.9" rx="17.8" ry="5.0" opacity="0.60"/><ellipse cx="542.4" cy="80.0" rx="22.5" ry="7.5" opacity="0.50"/><ellipse cx="490.0" cy="119.9" rx="6.2" ry="7.5" opacity="0.50"/><ellipse cx="497.5" cy="134.9" rx="7.5" ry="6.3" opacity="0.50"/><ellipse cx="496.7" cy="135.6" rx="7.4" ry="5.6" opacity="0.60"/><ellipse cx="491.4" cy="124.2" rx="4.0" ry="6.6" opacity="0.60"/><ellipse cx="546.9" cy="153.8" rx="8.9" ry="5.9" opacity="0.50"/><ellipse cx="519.5" cy="96.1" rx="12.2" ry="5.3" opacity="0.50"/><ellipse cx="527.1" cy="166.0" rx="5.9" ry="4.3" opacity="0.50"/><ellipse cx="571.3" cy="310.5" rx="6.3" ry="7.6" opacity="0.50"/><ellipse cx="301.1" cy="151.8" rx="13.9" ry="8.8" opacity="0.50"/><ellipse cx="250.5" cy="183.4" rx="12.6" ry="15.2" opacity="0.45"/><ellipse cx="712.9" cy="215.6" rx="5.9" ry="8.9" opacity="0.50"/><ellipse cx="751.2" cy="90.4" rx="22.8" ry="9.1" opacity="0.50"/><ellipse cx="553.1" cy="280.7" rx="8.1" ry="10.1" opacity="0.50"/></g>
<g filter="url(#f2m)"><path d="M72.2 30.0L910.8 30.0L910.8 455.9L72.2 455.9Z" opacity="0.04"/><ellipse cx="659.8" cy="92.5" rx="30.0" ry="15.0" opacity="0.55"/><ellipse cx="543.5" cy="325.7" rx="12.6" ry="10.1" opacity="0.40"/><ellipse cx="788.3" cy="121.2" rx="27.8" ry="16.2" opacity="0.55"/><ellipse cx="729.9" cy="72.2" rx="69.9" ry="10.6" opacity="0.40"/></g>
<g filter="url(#f2s)"><ellipse cx="484.4" cy="250.4" rx="26.3" ry="9.1" opacity="0.40"/></g>
<g filter="url(#f2y)"><ellipse cx="584.9" cy="104.4" rx="3.6" ry="3.1" opacity="0.50"/><ellipse cx="739.0" cy="96.5" rx="6.1" ry="6.1" opacity="0.60"/><ellipse cx="470.3" cy="259.7" rx="7.4" ry="3.3" opacity="0.60"/></g>
<g filter="url(#f2o)"><ellipse cx="490.5" cy="256.9" rx="17.5" ry="5.7" opacity="0.40"/></g>
<g filter="url(#f2b)"><ellipse cx="773.1" cy="113.6" rx="15.2" ry="9.1" opacity="0.50"/><ellipse cx="738.8" cy="223.2" rx="5.9" ry="7.4" opacity="0.50"/><ellipse cx="740.3" cy="179.1" rx="8.9" ry="5.9" opacity="0.50"/></g>
<g filter="url(#f2t)"><ellipse cx="552.3" cy="349.7" rx="11.4" ry="13.9" opacity="0.35"/><ellipse cx="810.3" cy="346.8" rx="10.1" ry="8.4" opacity="0.15"/></g>
<g filter="url(#f2w)"><path d="M449.6 218.0L461.2 199.5L468.2 194.5L477.5 188.0L486.8 184.8L498.5 182.1L510.1 183.3L514.8 188.6L517.1 181.3L528.8 185.7L538.1 182.7L552.1 185.7L568.4 187.1L573.0 197.4L575.4 209.2L580.0 220.9L582.3 229.7L575.4 233.2L561.4 233.2L547.4 232.1L526.4 230.6L510.1 229.4L491.5 228.8L472.9 228.0L458.9 228.0L449.6 223.8Z"/><path d="M573.0 197.4L575.4 188.6L582.3 182.7L591.7 184.2L598.7 190.1L605.6 194.5L610.3 203.3L615.0 207.7L621.9 206.2L631.3 212.1L626.6 226.8L612.6 234.1L596.3 244.4L590.5 241.5L589.3 229.7L583.5 219.4L577.7 206.2Z"/><ellipse cx="326.0" cy="80.5" rx="7.6" ry="5.1"/><ellipse cx="313.3" cy="62.8" rx="8.9" ry="4.3"/><ellipse cx="579.4" cy="81.8" rx="6.4" ry="3.3"/><ellipse cx="548.4" cy="128.0" rx="53.2" ry="27.4" opacity="0.07"/><ellipse cx="813.6" cy="361.2" rx="2.1" ry="5.1"/><path d="M654.1 169.7L662.4 165.4L675.6 163.0L692.3 160.1L709.0 153.0L723.3 148.2L742.4 147.2L750.8 151.1L746.0 157.0L732.9 162.0L718.6 171.1L704.2 177.8L687.5 180.7L670.8 178.3L657.6 174.9Z" opacity="0.85"/><path d="M618.2 150.6L627.8 149.1L637.8 153.4L638.8 163.0L633.0 169.2L620.6 167.8Z" opacity="0.75"/><path d="M580.0 175.4L594.3 171.6L608.7 177.8L627.8 191.7L642.6 199.3L651.7 211.3L639.7 216.0L615.8 211.3L599.1 199.3L580.0 191.7Z" opacity="0.85"/><path d="M321.5 49.7L328.4 47.6L335.4 44.7L342.4 41.1L351.7 38.8L365.7 37.9L379.7 37.3L389.0 35.9L403.0 34.4L417.0 34.1L430.9 35.3L440.3 37.3L451.9 39.4L463.5 40.3L458.9 43.2L449.6 44.7L446.1 49.1L448.4 53.5L444.9 56.4L444.9 60.8L440.3 65.2L435.6 68.2L440.3 71.1L439.1 73.5L433.3 75.5L428.6 78.5L421.6 79.6L415.8 82.0L410.0 84.9L404.1 86.7L398.3 88.4L395.3 93.1L392.5 97.5L391.3 101.9L389.0 103.7L385.5 102.8L380.9 101.1L377.4 98.4L373.9 94.6L371.5 90.8L369.2 87.3L366.9 82.9L368.0 78.5L372.7 75.5L365.7 74.0L364.5 71.1L362.2 66.7L358.7 62.3L355.2 57.9L349.4 56.1L342.4 55.8L335.4 56.4L328.4 54.1L324.9 52.0L321.5 49.7ZM309.8 55.0L302.8 55.5L293.5 55.2L284.2 55.0L283.0 52.6L288.8 50.0L284.2 48.2L279.5 44.7L281.8 41.7L288.8 40.3L295.8 38.2L305.1 36.2L319.1 35.6L333.1 35.9L344.7 37.3L342.4 40.0L335.4 41.7L331.9 43.8L324.9 45.8L318.0 47.6L314.5 50.5L308.6 52.6L309.8 55.0ZM274.9 49.7L267.9 46.1L270.2 42.3L277.2 41.1L281.8 44.1L286.5 47.6L281.8 50.0L274.9 49.7ZM221.3 55.8L213.1 56.4L206.1 55.5L210.8 52.6L219.0 52.6L221.3 55.8ZM402.5 438.3L406.5 439.1L408.1 440.6L404.8 439.7L402.5 438.3ZM439.1 92.0L443.7 93.1L448.4 93.4L453.1 92.3L457.0 90.8L459.6 88.7L457.3 85.8L453.8 84.3L449.6 85.2L444.2 85.5L441.4 87.3L438.4 84.9L435.6 87.0L439.6 88.7L436.1 89.3L440.3 90.8L439.1 92.0ZM518.3 49.1L522.9 52.0L527.6 54.1L531.1 54.4L534.6 52.0L540.4 49.7L535.8 47.6L532.3 45.3L525.3 45.3L518.3 46.1L518.3 49.1ZM533.4 46.1L540.4 47.0L548.6 46.7L554.4 44.7L547.4 43.5L538.1 43.8L533.4 46.1ZM541.6 52.0L546.2 52.6L548.6 50.8L543.9 50.0L541.6 52.0ZM601.0 44.1L608.0 45.0L615.0 44.1L624.3 44.1L631.3 42.9L635.9 41.1L626.6 40.3L617.3 41.7L608.0 42.3L601.0 44.1ZM712.8 47.6L719.8 48.2L729.1 47.0L734.9 46.1L729.1 43.8L719.8 43.2L714.0 44.7L712.8 47.6ZM721.0 50.5L729.1 50.8L737.3 49.1L731.4 47.0L724.4 48.2L721.0 50.5ZM704.6 44.7L712.8 44.1L718.6 42.3L712.8 41.1L705.8 42.3L704.6 44.7ZM810.6 59.4L817.6 60.2L825.8 59.4L831.6 58.2L826.9 56.4L820.0 56.1L813.0 57.0L810.6 59.4ZM832.8 59.7L840.9 59.9L843.2 58.5L837.4 57.9L832.8 59.7ZM817.2 64.1L822.3 64.4L825.8 63.5L820.0 62.6L817.2 64.1ZM907.3 71.1L910.8 71.4L910.8 69.6L908.0 69.9L907.3 71.1ZM651.5 423.9L655.3 423.6L655.7 425.3L652.9 425.3L651.5 423.9Z"/></g>
<g filter="url(#f3l)"><ellipse cx="368.9" cy="71.7" rx="2.9" ry="7.5"/><ellipse cx="373.4" cy="85.6" rx="2.9" ry="6.7"/><ellipse cx="298.1" cy="46.8" rx="10.7" ry="4.5" opacity="0.60"/><ellipse cx="260.9" cy="55.1" rx="24.8" ry="5.2" opacity="0.50"/><path d="M580.0 160.6L601.5 167.8L618.2 171.4L639.7 174.9L651.7 182.1L656.9 198.8L647.4 215.6L634.9 210.8L618.2 198.8L601.5 191.7L589.6 184.5L580.0 182.1Z" opacity="0.45"/><path d="M615.8 151.1L639.7 151.1L639.7 167.8L615.8 167.8Z" opacity="0.30"/><ellipse cx="905.4" cy="393.3" rx="2.1" ry="2.4"/><ellipse cx="809.1" cy="290.9" rx="7.5" ry="3.9"/><ellipse cx="653.7" cy="198.9" rx="6.8" ry="9.1" opacity="0.70"/></g>
<g filter="url(#f3q)"><ellipse cx="379.0" cy="93.2" rx="2.9" ry="3.4"/></g>
<g filter="url(#f3p)"><ellipse cx="385.3" cy="98.7" rx="4.9" ry="2.4"/><ellipse cx="449.8" cy="88.6" rx="5.5" ry="2.4" opacity="0.60"/><ellipse cx="291.9" cy="42.3" rx="8.7" ry="2.1" opacity="0.50"/></g>
<g filter="url(#f3h)"><ellipse cx="846.5" cy="361.1" rx="2.4" ry="8.0"/></g>
<g filter="url(#f3y)"><ellipse cx="184.7" cy="117.2" rx="2.4" ry="4.4" transform="rotate(-20 184.7 117.2)"/><ellipse cx="556.3" cy="148.5" rx="1.9" ry="5.3" opacity="0.80"/><ellipse cx="833.0" cy="403.5" rx="4.1" ry="3.4"/><ellipse cx="890.2" cy="406.6" rx="9.7" ry="3.1" transform="rotate(-40 890.2 406.6)"/><ellipse cx="900.8" cy="396.0" rx="3.4" ry="4.8"/><ellipse cx="847.3" cy="356.9" rx="1.7" ry="3.8"/><ellipse cx="737.3" cy="249.3" rx="2.5" ry="2.5"/></g>
<g filter="url(#f3o)"><ellipse cx="490.7" cy="127.0" rx="2.7" ry="3.4"/><ellipse cx="327.0" cy="134.5" rx="5.6" ry="2.5" opacity="0.70"/><ellipse cx="580.1" cy="319.6" rx="4.4" ry="6.5" opacity="0.80"/><ellipse cx="337.7" cy="132.8" rx="3.4" ry="1.9"/><ellipse cx="208.8" cy="165.7" rx="2.4" ry="6.7" transform="rotate(-20 208.8 165.7)"/><ellipse cx="818.4" cy="298.5" rx="3.9" ry="2.9"/><ellipse cx="728.1" cy="218.9" rx="3.1" ry="2.5" opacity="0.80"/><ellipse cx="766.4" cy="89.6" rx="4.2" ry="2.5" opacity="0.80"/><ellipse cx="722.3" cy="98.0" rx="2.2" ry="3.1" opacity="0.80"/></g>
<g filter="url(#f3b)"><ellipse cx="485.6" cy="119.7" rx="3.9" ry="7.5"/><ellipse cx="287.2" cy="183.9" rx="10.5" ry="4.4" opacity="0.80"/><ellipse cx="266.2" cy="187.2" rx="3.4" ry="5.5"/><ellipse cx="825.4" cy="386.4" rx="7.1" ry="4.6"/><ellipse cx="726.9" cy="274.0" rx="3.9" ry="8.5" transform="rotate(38 726.9 274.0)"/><ellipse cx="754.7" cy="302.3" rx="13.0" ry="2.2" transform="rotate(10 754.7 302.3)"/><ellipse cx="764.8" cy="268.9" rx="3.9" ry="6.0"/><ellipse cx="774.2" cy="282.8" rx="2.9" ry="7.5"/><ellipse cx="828.0" cy="296.7" rx="6.0" ry="3.9"/><ellipse cx="722.1" cy="249.0" rx="2.5" ry="9.5" opacity="0.80"/></g>
<g filter="url(#f3g)"><ellipse cx="744.9" cy="238.4" rx="1.3" ry="1.9"/></g>
<g filter="url(#f3G)"><ellipse cx="839.7" cy="368.0" rx="3.8" ry="2.8"/></g>
<g filter="url(#f3n)"><ellipse cx="475.0" cy="123.5" rx="5.1" ry="5.1"/><ellipse cx="283.4" cy="130.8" rx="4.9" ry="2.4"/><ellipse cx="836.4" cy="379.6" rx="5.4" ry="10.9" transform="rotate(-25 836.4 379.6)"/><ellipse cx="732.0" cy="281.6" rx="2.4" ry="3.9"/><ellipse cx="745.9" cy="300.5" rx="4.4" ry="1.9"/><ellipse cx="754.0" cy="285.9" rx="3.4" ry="3.4"/><ellipse cx="780.0" cy="256.3" rx="3.9" ry="5.5"/><ellipse cx="862.1" cy="255.1" rx="2.4" ry="3.9"/><ellipse cx="758.8" cy="123.8" rx="11.0" ry="5.0" opacity="0.70"/><ellipse cx="787.7" cy="96.5" rx="5.7" ry="3.1" opacity="0.70"/></g>
<g filter="url(#f3r)"><ellipse cx="577.6" cy="326.4" rx="2.7" ry="3.2"/><ellipse cx="331.9" cy="131.8" rx="2.9" ry="1.9"/><ellipse cx="737.3" cy="239.1" rx="2.8" ry="1.6"/><ellipse cx="703.3" cy="104.1" rx="2.5" ry="1.9"/><ellipse cx="739.0" cy="107.4" rx="2.5" ry="1.9"/><ellipse cx="485.7" cy="261.7" rx="1.8" ry="2.6"/><ellipse cx="500.6" cy="251.4" rx="1.6" ry="1.4"/></g>
<g filter="url(#f3k)"><ellipse cx="180.4" cy="112.1" rx="3.2" ry="6.5" transform="rotate(-20 180.4 112.1)"/><ellipse cx="812.0" cy="382.2" rx="1.7" ry="2.8"/></g></g>
<path d="M556.7 157.8L555.8 154.8L556.7 152.5L558.4 149.5L560.7 146.9L563.0 143.4L565.6 142.8L568.4 144.2L567.4 146.3L569.5 148.6L571.9 148.9L574.2 147.2L576.8 146.6L574.2 144.5L573.0 143.4L576.5 142.2L579.6 141.6L582.8 141.0L580.5 143.1L579.1 145.1L577.7 146.9L580.0 148.9L583.5 151.6L587.0 153.3L588.4 156.9L585.8 159.2L582.3 158.9L578.9 158.9L576.1 158.0L573.0 156.3L569.5 156.3L566.0 157.2L562.5 158.6L559.5 158.6L556.7 157.8ZM606.8 169.5L610.3 171.6L614.5 171.6L617.3 170.1L616.8 165.7L615.0 162.7L615.7 159.8L614.5 157.5L616.1 155.4L613.8 153.9L611.0 152.5L610.3 149.2L612.6 146.6L615.0 143.1L612.6 141.6L609.1 142.2L605.6 143.4L602.8 146.0L601.0 149.5L602.1 153.3L604.5 156.9L606.8 160.4L605.6 164.2L605.6 167.2L606.8 169.5ZM627.3 150.4L630.1 150.4L633.1 148.1L633.6 144.5L631.3 142.5L628.5 144.5L627.3 147.5L627.3 150.4ZM277.2 142.5L280.7 142.8L284.2 141.6L287.7 143.1L292.3 142.5L294.7 143.1L294.0 140.1L291.2 137.8L286.5 136.3L283.0 138.7L279.5 140.7L277.2 142.5ZM287.0 157.2L290.0 156.9L290.7 152.5L292.3 148.1L293.5 145.1L290.0 145.1L287.7 147.5L287.0 151.9L287.0 157.2ZM294.7 144.8L297.0 146.6L297.5 150.4L299.3 153.1L301.2 152.5L301.7 148.9L305.1 148.6L304.0 146.0L301.7 144.5L298.2 144.0L294.7 144.8ZM297.2 157.2L300.5 157.8L304.0 156.3L307.5 154.2L306.3 153.3L302.8 154.2L299.3 155.7L297.2 157.2ZM305.8 152.5L309.8 152.5L313.5 151.9L313.8 150.1L311.0 150.4L307.5 151.0L305.8 152.5ZM565.6 282.6L567.2 279.1L570.2 278.8L571.4 281.1L570.7 284.1L569.5 287.0L567.2 287.6L565.6 285.5L565.6 282.6Z" fill="#fff" stroke="none"/>
<path d="M106.0 103.4L102.0 103.4L103.6 102.2L106.0 103.4ZM104.8 121.6L100.2 123.4L102.5 121.6L104.8 121.6ZM96.7 124.9L93.2 125.7L95.5 124.3L96.7 124.9ZM87.3 126.6L83.8 127.2L86.2 126.0L87.3 126.6ZM80.4 127.8L76.9 128.1L79.2 126.9L80.4 127.8ZM310.3 208.6L310.7 205.9L309.3 205.6L309.3 208.0L310.3 208.6ZM312.1 202.4L310.3 201.5L308.4 201.2L310.0 200.6L312.1 202.4ZM347.3 250.0L349.4 250.0L349.6 247.9L347.8 248.2L347.3 250.0ZM402.5 438.3L406.5 439.1L408.1 440.6L404.8 439.7L402.5 438.3ZM615.9 242.9L618.5 243.2L617.5 242.3L615.9 242.9ZM452.1 196.5L454.2 196.2L453.3 195.6L452.1 196.5ZM458.2 196.8L459.4 195.1L460.1 193.9L458.9 195.6L458.2 196.8ZM620.1 341.9L621.5 341.9L620.8 341.0L620.1 341.9ZM625.0 339.6L626.1 339.3L625.7 338.4L625.0 339.6ZM863.3 307.0L865.4 307.6L866.1 308.7L863.7 308.1L863.3 307.0ZM865.8 304.0L867.2 307.0L866.5 307.3L865.6 304.9L865.8 304.0ZM879.6 323.7L881.0 325.2L881.2 327.8L880.1 325.8L879.6 323.7ZM904.5 331.3L907.3 331.1L907.3 333.1L905.0 333.1L904.5 331.3ZM908.0 328.1L910.8 327.5L909.6 329.0L908.0 328.1ZM128.1 223.8L130.4 222.7L130.0 220.3L128.3 220.3L128.1 223.8ZM126.5 219.1L128.1 218.8L126.9 218.0L126.5 219.1ZM123.0 217.1L124.1 217.1L123.7 215.9L123.0 217.1ZM119.3 215.3L120.4 215.3L120.0 214.4L119.3 215.3ZM278.4 282.3L280.0 280.5L279.1 279.4L278.4 282.3ZM651.5 423.9L655.3 423.6L655.7 425.3L652.9 425.3L651.5 423.9ZM497.1 163.6L498.5 164.2L499.4 163.0L498.5 162.5L497.1 163.6ZM533.7 112.2L535.3 111.1L535.8 109.6L534.1 110.5L533.7 112.2ZM474.3 97.5L476.1 97.5L475.7 96.7L474.3 97.5Z" fill="#3a3a44" stroke="none" filter="url(#soft)"/>
<g filter="url(#soft)" fill="none" stroke="#24242c" stroke-width="1.0" stroke-linejoin="round">
<path d="M100.2 87.0L104.1 85.2L109.9 85.5L114.6 84.9L110.6 82.6L108.8 80.5L102.9 79.0L105.3 77.0L111.8 74.0L118.8 71.7L126.9 70.2L132.8 71.4L139.8 72.6L146.7 73.2L156.1 74.0L163.0 74.9L170.0 76.7L174.7 77.0L178.2 75.2L184.0 74.6L189.8 73.8L193.3 72.3L195.7 74.0L199.2 75.5L202.6 75.8L205.0 74.6L209.6 74.9L216.6 77.0L222.4 77.6L225.9 79.3L223.6 80.5L230.6 80.8L237.6 80.5L239.9 79.0L244.6 78.2L249.2 79.9L255.1 80.8L262.0 80.5L263.2 78.2L266.7 79.3L268.3 82.0L271.4 79.3L273.7 77.0L270.2 74.9L267.2 72.6L268.3 69.3L271.1 68.2L273.7 69.9L276.0 72.6L277.7 75.2L280.7 76.4L280.7 78.5L283.5 76.4L286.5 79.0L287.0 81.7L290.0 81.4L292.1 77.9L292.3 75.2L297.0 74.6L300.5 76.1L302.1 78.5L300.0 81.1L302.1 82.3L297.7 84.6L293.5 84.9L290.0 84.3L290.5 86.4L287.7 87.8L286.5 90.8L281.8 91.7L280.0 93.4L276.0 95.2L273.7 98.1L271.4 101.1L270.7 104.9L271.8 107.2L274.9 107.2L276.0 111.6L279.5 111.9L285.3 114.0L291.2 116.0L295.8 117.2L299.8 117.8L300.0 121.0L299.8 124.0L302.1 126.0L304.0 128.7L306.8 128.7L308.2 126.0L307.0 121.0L305.6 118.7L308.6 116.6L312.1 114.6L313.1 111.3L311.0 107.8L309.1 106.4L311.0 103.4L309.8 99.6L309.8 96.7L311.4 96.1L315.6 96.7L319.6 96.4L323.8 98.4L328.4 100.5L329.6 103.4L330.1 106.6L332.6 107.8L335.4 108.1L338.2 106.4L340.1 102.8L341.3 102.5L343.6 105.8L345.9 108.7L348.2 112.5L350.6 116.0L354.5 118.7L358.0 121.0L361.1 124.0L361.5 126.3L359.9 128.1L355.2 129.3L351.7 131.9L347.1 131.9L341.3 131.9L336.6 132.2L334.3 134.6L330.8 137.2L327.3 140.7L329.6 140.1L334.3 136.3L338.9 135.1L341.7 136.3L340.1 138.7L340.6 141.0L341.3 144.0L344.7 145.1L347.5 145.1L349.4 143.1L351.0 141.6L352.2 144.5L349.4 146.6L344.3 148.6L340.6 151.0L338.2 151.9L337.3 149.5L340.6 146.6L337.8 146.9L335.4 147.5L331.9 149.2L328.4 151.3L326.8 153.9L328.4 156.9L324.9 158.0L320.3 159.5L319.1 160.7L318.7 163.3L316.8 165.4L315.6 163.6L316.1 167.4L314.5 170.4L313.8 171.6L315.2 174.5L315.6 176.3L312.8 177.7L309.8 180.1L307.0 182.1L304.0 184.8L302.3 187.7L301.9 190.7L302.8 193.6L304.0 196.5L304.9 200.9L304.7 204.8L302.8 205.9L301.0 203.3L298.9 198.9L298.9 195.4L296.5 191.8L294.0 192.1L291.6 190.9L287.7 190.7L285.3 190.7L283.0 191.2L283.7 194.2L281.2 194.2L278.4 193.0L274.9 192.1L271.4 193.0L269.5 194.8L266.0 197.1L264.6 199.5L265.1 203.6L263.9 207.7L263.7 213.6L264.8 218.0L266.7 222.1L268.3 224.4L271.1 226.2L274.2 225.6L277.2 225.0L279.5 224.1L280.5 221.2L280.9 218.0L284.6 216.5L288.4 216.5L289.3 218.6L287.7 222.1L287.0 225.9L286.0 228.2L285.1 231.8L284.4 233.2L287.0 233.2L290.0 233.2L293.0 232.9L295.8 233.2L297.7 235.6L297.0 240.0L296.8 243.5L296.3 247.3L297.5 249.7L299.3 252.0L301.7 253.5L304.0 252.9L306.1 251.5L308.6 252.0L311.0 254.1L311.7 256.4L310.0 258.5L308.9 255.6L307.5 253.2L305.6 254.4L304.4 255.6L305.1 257.6L303.3 258.5L301.2 256.2L298.6 255.6L296.8 254.7L294.2 251.5L291.6 250.3L291.9 247.3L289.5 243.8L287.4 241.5L284.9 240.6L281.8 239.1L278.4 238.5L276.0 236.5L273.0 232.9L270.2 232.1L266.7 233.5L263.2 232.1L259.0 230.3L255.1 227.7L251.6 225.9L248.1 223.3L245.5 220.0L246.2 216.5L244.6 212.7L242.2 209.2L238.8 205.3L236.7 202.4L234.1 198.9L231.8 195.9L229.4 192.1L227.8 188.0L224.3 186.5L224.5 190.7L227.1 194.5L228.7 198.0L231.1 202.4L233.4 206.2L234.8 209.2L236.4 211.5L235.3 212.4L233.4 209.7L230.6 206.8L229.9 203.3L227.1 200.9L224.1 198.0L225.2 195.6L222.4 192.4L220.6 188.6L218.7 183.9L215.9 180.4L213.1 178.9L210.6 178.0L208.5 173.9L206.4 170.4L205.4 168.0L203.3 165.1L202.0 161.3L202.4 156.9L201.7 153.3L202.6 148.1L202.6 144.0L201.5 140.1L201.0 137.5L205.0 138.1L205.9 140.4L206.4 137.2L205.0 135.1L201.5 132.8L196.8 130.4L194.0 127.5L193.3 124.6L190.3 122.5L188.0 119.6L186.3 116.6L184.0 113.7L181.0 110.8L178.2 108.4L174.7 107.5L170.5 106.4L166.1 104.3L160.7 103.4L155.4 103.1L151.4 101.1L147.2 100.5L145.6 102.8L141.4 105.2L137.9 105.8L139.1 101.9L142.1 99.9L137.9 100.5L135.1 102.8L133.2 105.5L130.9 107.5L128.1 110.5L123.9 112.8L120.0 115.8L115.3 117.5L111.1 118.7L107.8 119.6L111.8 116.9L116.5 115.2L120.0 112.8L123.4 110.2L125.1 107.2L121.6 107.5L117.6 106.6L114.1 105.5L113.4 102.8L109.5 101.9L106.4 99.6L104.8 97.0L107.6 94.6L111.8 94.3L115.8 92.3L116.5 89.9L113.0 90.2L108.3 90.2L104.1 89.6L100.2 87.0ZM321.5 49.7L328.4 47.6L335.4 44.7L342.4 41.1L351.7 38.8L365.7 37.9L379.7 37.3L389.0 35.9L403.0 34.4L417.0 34.1L430.9 35.3L440.3 37.3L451.9 39.4L463.5 40.3L458.9 43.2L449.6 44.7L446.1 49.1L448.4 53.5L444.9 56.4L444.9 60.8L440.3 65.2L435.6 68.2L440.3 71.1L439.1 73.5L433.3 75.5L428.6 78.5L421.6 79.6L415.8 82.0L410.0 84.9L404.1 86.7L398.3 88.4L395.3 93.1L392.5 97.5L391.3 101.9L389.0 103.7L385.5 102.8L380.9 101.1L377.4 98.4L373.9 94.6L371.5 90.8L369.2 87.3L366.9 82.9L368.0 78.5L372.7 75.5L365.7 74.0L364.5 71.1L362.2 66.7L358.7 62.3L355.2 57.9L349.4 56.1L342.4 55.8L335.4 56.4L328.4 54.1L324.9 52.0L321.5 49.7ZM348.2 84.0L344.7 87.3L341.3 89.3L339.4 92.3L340.6 95.2L337.1 97.5L334.3 95.2L331.2 92.8L335.9 97.0L329.6 97.0L324.9 95.2L320.3 92.3L315.6 90.5L309.8 90.2L309.8 88.1L315.6 88.1L319.1 86.4L320.3 83.4L321.9 80.8L318.0 78.5L313.3 76.1L308.6 74.0L304.0 74.6L300.5 74.0L294.7 74.0L290.0 73.2L285.3 71.7L283.0 69.6L281.8 66.7L283.0 63.8L287.7 62.9L292.3 63.5L294.7 65.8L299.3 63.5L304.0 63.8L309.8 65.5L314.5 66.7L319.1 68.5L324.9 70.5L329.6 72.9L333.1 74.9L335.0 77.6L340.1 79.9L344.7 82.0L348.2 84.0ZM217.8 72.6L223.6 75.2L228.3 77.9L235.3 78.2L242.2 77.3L248.1 78.2L253.9 77.0L255.1 74.6L251.6 72.6L248.1 70.2L245.7 66.7L242.2 64.6L236.4 65.5L232.9 66.7L225.9 65.2L219.0 64.4L215.5 66.7L214.8 69.6L217.8 72.6ZM199.6 68.5L204.3 70.2L209.6 69.6L213.1 67.3L217.8 63.8L221.3 62.3L216.6 61.4L209.6 60.8L203.8 61.7L200.3 63.8L199.2 66.1L199.6 68.5ZM309.8 55.0L302.8 55.5L293.5 55.2L284.2 55.0L283.0 52.6L288.8 50.0L284.2 48.2L279.5 44.7L281.8 41.7L288.8 40.3L295.8 38.2L305.1 36.2L319.1 35.6L333.1 35.9L344.7 37.3L342.4 40.0L335.4 41.7L331.9 43.8L324.9 45.8L318.0 47.6L314.5 50.5L308.6 52.6L309.8 55.0ZM274.9 49.7L267.9 46.1L270.2 42.3L277.2 41.1L281.8 44.1L286.5 47.6L281.8 50.0L274.9 49.7ZM305.1 60.2L295.8 60.8L286.5 60.8L277.2 59.9L269.0 58.5L267.9 55.0L274.9 54.1L281.8 56.4L291.2 57.3L300.5 57.0L305.1 57.9L305.1 60.2ZM245.7 59.4L239.9 60.2L232.9 60.8L225.9 59.9L219.0 58.5L221.3 55.5L230.6 56.4L237.6 54.4L244.6 56.4L245.7 59.4ZM263.2 59.4L256.2 59.4L249.2 57.9L251.6 55.0L260.9 54.7L264.4 56.4L263.2 59.4ZM265.5 69.6L258.6 69.1L253.9 66.7L256.2 62.9L263.2 62.6L266.7 65.2L265.5 69.6ZM279.5 67.6L272.5 68.2L269.0 65.2L270.2 62.3L277.2 62.3L280.7 64.4L279.5 67.6ZM269.0 78.2L263.2 77.9L259.7 76.4L262.0 74.3L266.7 74.9L269.0 78.2ZM304.0 92.3L298.2 93.7L292.3 94.0L288.8 92.5L291.2 89.6L293.5 86.7L298.2 87.8L301.7 90.2L304.0 92.3ZM221.3 55.8L213.1 56.4L206.1 55.5L210.8 52.6L219.0 52.6L221.3 55.8ZM353.4 139.5L357.6 139.8L361.5 141.9L365.7 142.2L368.0 142.5L368.7 139.8L366.9 136.9L364.5 134.6L361.5 133.4L361.7 129.9L362.2 128.1L359.2 129.3L356.9 133.4L354.8 136.9L353.4 139.5ZM204.0 137.5L200.3 136.6L196.8 134.3L192.6 130.7L195.7 130.4L199.2 132.2L202.6 135.1L204.0 137.5ZM185.9 126.3L182.8 124.0L181.7 120.7L184.5 121.0L185.2 124.0L185.9 126.3ZM136.7 111.1L133.2 112.8L131.4 111.3L133.9 109.3L136.7 109.6L136.7 111.1ZM98.3 93.7L94.3 93.4L91.5 92.8L95.5 92.3L98.3 93.7ZM106.0 103.4L102.0 103.4L103.6 102.2L106.0 103.4ZM104.8 121.6L100.2 123.4L102.5 121.6L104.8 121.6ZM96.7 124.9L93.2 125.7L95.5 124.3L96.7 124.9ZM87.3 126.6L83.8 127.2L86.2 126.0L87.3 126.6ZM80.4 127.8L76.9 128.1L79.2 126.9L80.4 127.8ZM347.5 135.4L343.6 134.6L341.3 133.1L345.9 134.0L347.5 135.4ZM347.1 143.4L343.6 144.0L341.7 142.5L344.7 142.8L347.1 143.4ZM293.7 215.3L297.0 212.7L300.5 211.5L304.0 212.1L307.5 213.9L311.0 215.9L314.5 217.4L317.3 219.4L318.7 220.3L315.6 221.2L311.0 221.2L311.7 219.1L308.6 218.0L305.1 215.9L301.0 214.4L298.2 215.0L295.4 215.6L293.7 215.3ZM318.2 225.6L321.0 226.2L324.5 227.4L327.3 225.9L330.8 225.9L332.2 225.0L329.6 223.3L326.6 221.5L322.6 221.2L320.8 221.8L322.1 223.8L320.3 225.0L318.2 225.6ZM309.1 225.9L311.7 227.4L313.8 226.8L312.1 225.3L309.1 225.9ZM335.0 226.8L338.5 226.8L338.5 225.3L335.0 225.3L335.0 226.8ZM310.3 208.6L310.7 205.9L309.3 205.6L309.3 208.0L310.3 208.6ZM312.1 202.4L310.3 201.5L308.4 201.2L310.0 200.6L312.1 202.4ZM347.3 250.0L349.4 250.0L349.6 247.9L347.8 248.2L347.3 250.0ZM311.7 256.4L312.6 254.4L314.9 252.0L315.6 248.8L317.3 247.3L320.3 246.5L323.1 244.7L325.4 243.2L324.0 245.9L324.9 247.9L323.8 250.3L324.9 252.3L326.1 250.3L325.4 247.9L328.0 246.2L328.4 243.8L330.1 245.9L332.4 247.9L334.3 248.8L337.8 248.5L340.6 250.0L343.6 248.5L347.1 248.2L345.7 249.7L347.5 250.9L349.9 252.6L351.7 255.0L354.1 256.7L355.7 259.4L358.3 262.0L361.5 262.3L365.2 262.6L368.0 263.8L369.9 265.6L371.5 267.0L372.7 270.3L374.3 274.4L375.0 277.3L373.4 279.7L376.2 279.1L378.3 280.8L380.2 281.7L383.2 282.6L386.7 284.3L388.3 287.3L391.3 287.0L394.8 288.2L398.3 288.2L401.8 290.5L404.8 293.5L408.1 294.6L409.5 296.7L410.2 300.2L410.2 303.7L409.3 307.0L406.9 310.2L404.6 313.7L402.3 317.0L400.7 319.3L400.7 323.7L400.9 328.1L400.0 331.9L398.8 335.5L397.6 339.6L396.0 343.4L394.1 346.6L390.6 347.2L387.4 348.1L383.6 350.1L380.4 353.1L378.5 355.7L378.3 359.8L377.6 363.7L375.5 366.3L373.9 370.1L371.5 373.1L369.7 375.1L368.0 378.0L366.4 380.4L363.8 382.2L360.6 382.2L357.6 381.0L355.5 380.1L355.7 382.5L358.0 384.5L359.2 386.9L357.6 391.3L354.1 393.3L349.4 394.2L346.6 394.8L346.4 399.2L343.6 400.4L340.1 400.1L340.6 403.6L343.1 403.9L341.7 406.0L339.4 407.4L338.9 411.2L335.9 412.7L334.3 415.3L335.9 417.7L338.2 419.2L335.9 422.1L333.8 425.0L331.5 427.4L330.8 430.3L331.9 433.3L329.6 433.6L326.6 434.7L324.9 437.4L321.9 436.2L319.1 433.9L316.8 430.9L316.1 426.5L315.6 422.1L317.7 419.5L315.4 417.1L317.3 413.3L320.3 410.4L321.5 406.0L321.9 402.4L319.6 401.0L320.1 396.6L320.5 392.7L320.3 388.9L321.9 385.4L322.6 382.5L324.2 378.0L324.9 373.6L324.7 368.6L325.4 364.8L326.1 360.4L327.0 356.0L327.3 351.6L327.5 347.2L328.0 342.8L328.0 338.4L327.7 334.0L325.4 331.3L322.6 329.0L319.1 326.6L316.1 324.3L314.0 320.8L312.6 317.2L311.4 314.3L309.8 309.9L308.2 306.1L306.3 302.0L305.1 299.0L302.8 296.7L302.1 293.2L304.2 290.2L305.4 287.9L303.3 286.7L303.5 282.6L304.7 279.7L305.1 277.3L307.5 275.8L308.4 272.9L310.5 271.7L311.7 268.5L311.2 265.0L311.2 261.4L310.5 259.1L311.7 256.4ZM331.7 434.4L328.4 435.3L326.1 438.3L323.3 439.4L327.3 441.8L331.9 442.7L335.4 443.0L339.4 440.6L336.6 439.1L333.1 437.1L332.4 435.3L331.7 434.4ZM320.1 402.4L318.4 403.9L318.2 406.8L319.8 407.1L320.3 404.2L320.1 402.4ZM348.9 431.8L351.7 430.6L355.2 430.6L356.9 431.5L354.5 433.0L350.6 433.0L348.9 431.8ZM402.5 438.3L406.5 439.1L408.1 440.6L404.8 439.7L402.5 438.3ZM477.8 174.5L479.2 174.2L481.5 176.3L484.5 176.0L486.8 176.6L490.1 174.8L492.7 173.6L495.0 172.4L498.5 171.6L502.0 171.3L505.5 171.3L509.0 171.0L512.5 170.4L514.6 170.1L515.5 171.6L517.1 171.0L516.2 173.0L516.2 175.4L517.1 176.8L516.2 178.3L514.8 179.8L515.5 181.0L517.6 182.1L520.2 183.3L522.5 183.0L525.3 184.2L526.9 184.5L528.3 186.8L530.6 188.0L533.4 189.5L535.8 190.7L538.1 188.9L538.3 185.7L540.0 183.6L542.3 183.0L544.6 183.6L546.2 185.1L549.3 186.0L550.2 187.1L553.2 187.1L556.3 188.0L559.1 188.9L561.4 187.7L563.7 187.1L566.0 187.7L567.0 188.3L567.2 191.5L568.8 195.6L570.2 199.2L571.9 203.9L573.7 208.3L574.7 212.1L576.5 215.0L577.7 218.0L578.4 221.5L578.9 224.7L581.2 226.8L582.3 231.2L583.7 234.4L585.8 236.2L588.2 238.5L590.5 241.5L592.4 243.2L592.1 245.6L594.0 248.8L596.3 249.1L599.8 247.9L603.3 247.0L606.8 246.2L610.8 244.7L611.0 248.8L609.8 252.3L608.4 256.2L606.8 259.7L605.2 263.5L602.8 267.0L599.8 270.8L597.0 273.8L594.0 276.7L591.2 280.2L588.9 284.1L586.5 286.7L584.9 289.0L583.7 292.6L582.3 295.8L582.1 298.7L583.5 301.1L583.3 305.2L584.2 309.0L585.8 310.8L586.1 314.9L586.1 319.3L586.5 323.7L585.1 326.6L582.8 329.0L579.6 330.8L577.2 333.1L574.2 336.0L572.6 338.1L572.6 340.7L573.7 343.7L574.2 347.2L574.0 350.1L571.9 352.5L568.4 354.0L567.4 356.0L568.1 359.5L567.2 363.4L565.1 365.4L563.2 368.4L561.4 371.6L558.6 375.1L555.6 377.5L552.1 378.9L549.7 379.5L546.2 379.5L542.7 380.1L539.3 381.3L536.9 381.3L534.6 380.1L534.1 376.6L533.4 373.6L532.3 370.1L530.6 365.7L529.5 363.1L527.6 359.8L526.4 356.0L526.0 351.6L525.0 347.2L524.6 344.3L522.9 340.7L521.1 336.3L519.2 332.5L518.8 329.0L519.5 325.2L520.6 320.8L522.5 317.2L523.6 313.4L522.9 309.0L521.8 306.1L522.5 303.1L520.6 298.7L519.9 296.7L519.0 293.7L517.1 290.8L514.8 287.9L512.9 284.9L512.0 282.0L513.4 279.7L513.6 276.7L514.3 273.2L514.3 270.0L513.6 267.9L512.0 266.4L510.1 266.4L507.8 266.7L505.5 267.0L503.8 264.4L502.0 261.4L499.2 260.9L496.2 261.1L493.8 262.0L491.5 262.9L489.2 264.4L486.8 265.6L484.5 264.7L482.2 264.4L479.9 264.7L477.5 265.6L474.0 266.7L472.2 265.0L469.8 263.2L467.0 260.9L464.7 259.4L462.4 257.6L460.8 255.0L460.5 252.3L458.9 250.3L457.0 247.9L456.1 246.8L454.2 245.0L452.6 243.2L452.6 240.0L451.9 237.6L450.7 236.5L452.4 234.1L453.3 231.8L453.8 228.2L454.0 224.7L453.3 221.8L453.5 219.4L451.9 218.0L452.1 215.0L453.5 212.1L454.7 209.5L456.6 207.1L457.0 203.9L458.4 201.8L460.5 198.9L461.7 197.4L465.2 195.9L467.5 193.9L468.9 190.9L468.7 187.7L469.8 184.8L471.7 181.8L474.0 180.7L475.7 179.5L477.1 176.8L477.8 174.5ZM606.3 314.9L607.7 319.3L608.7 323.7L609.1 326.4L607.3 328.1L606.8 331.6L605.6 336.3L604.5 341.3L603.1 346.6L601.9 351.0L601.0 353.1L598.2 354.5L596.3 354.5L594.0 353.1L592.8 348.7L592.4 344.9L593.5 341.3L594.9 338.4L594.7 334.9L594.0 331.1L594.7 327.5L597.0 326.6L599.4 325.8L601.4 323.7L603.3 320.8L604.9 317.8L606.3 314.9ZM615.9 242.9L618.5 243.2L617.5 242.3L615.9 242.9ZM452.1 196.5L454.2 196.2L453.3 195.6L452.1 196.5ZM458.2 196.8L459.4 195.1L460.1 193.9L458.9 195.6L458.2 196.8ZM620.1 341.9L621.5 341.9L620.8 341.0L620.1 341.9ZM625.0 339.6L626.1 339.3L625.7 338.4L625.0 339.6ZM478.9 173.6L481.3 171.9L484.5 171.9L486.8 171.6L489.4 169.2L491.0 166.6L492.0 165.7L490.8 163.6L492.2 161.3L493.6 159.8L496.6 158.0L499.0 156.3L498.7 153.3L500.8 151.9L503.8 152.5L506.2 153.1L508.5 151.3L511.3 149.5L513.2 149.5L515.3 151.0L516.0 153.6L518.3 155.4L520.2 157.2L522.5 158.6L524.6 159.8L526.4 161.6L528.1 162.5L529.0 165.1L528.1 168.0L529.5 168.0L530.2 166.0L531.3 165.1L530.2 163.0L530.9 161.0L532.3 161.3L534.1 162.7L534.6 161.3L533.0 159.8L530.6 158.6L528.8 156.9L526.4 156.6L524.6 154.8L523.4 152.5L521.8 150.7L520.4 148.9L520.2 146.6L522.2 145.4L523.6 145.7L523.2 147.8L525.0 146.9L526.4 148.9L528.3 151.0L530.6 152.5L533.4 154.2L535.8 156.3L536.9 157.8L536.7 160.7L538.1 163.0L539.7 165.1L540.9 167.2L541.1 169.2L541.8 171.3L543.7 172.4L545.1 172.4L544.6 169.8L545.8 168.0L547.4 168.9L547.4 167.2L545.5 165.7L544.8 163.6L544.4 161.0L545.8 161.6L547.9 161.6L546.9 159.8L549.3 159.5L552.1 159.8L553.5 161.3L552.5 162.2L552.8 163.9L554.4 165.7L553.0 167.2L554.9 169.5L555.6 171.3L557.9 171.9L560.2 173.3L562.5 172.1L563.7 171.6L566.0 172.7L567.9 173.9L570.7 172.4L573.0 171.9L575.4 171.9L575.1 174.5L574.9 176.8L574.2 180.1L573.0 183.3L572.1 186.2L571.2 187.7L569.5 188.3L567.4 188.3L567.4 191.8L568.8 195.1L570.7 198.0L571.9 196.5L572.8 193.0L573.0 196.8L574.4 199.5L576.5 203.3L578.2 206.2L580.0 208.9L581.9 212.7L582.6 216.5L584.2 220.0L586.3 222.4L588.2 226.8L590.0 229.7L591.2 234.1L591.9 238.5L592.4 240.9L593.1 242.3L596.3 242.1L599.8 240.3L603.3 238.5L606.1 236.8L609.8 235.0L613.1 233.5L615.4 230.9L618.5 229.7L620.8 227.4L623.3 225.3L625.9 223.8L626.1 220.0L628.0 218.0L630.1 215.0L630.8 213.3L628.5 210.6L625.4 209.5L623.3 207.4L622.9 202.7L621.9 203.3L620.8 204.8L618.5 207.4L615.0 208.9L612.2 208.9L611.7 205.6L611.0 203.0L609.8 204.8L609.4 206.2L608.4 203.9L608.2 201.5L606.3 199.2L604.7 196.5L603.3 193.3L604.5 191.5L606.8 190.9L609.1 193.6L611.0 197.4L613.8 199.2L617.3 201.2L620.8 200.9L623.1 199.8L624.7 202.7L625.7 204.5L628.9 205.0L632.7 205.3L635.9 205.9L639.4 205.3L642.9 205.3L646.4 205.0L647.6 206.8L648.7 209.5L651.1 210.6L653.4 212.4L655.3 212.4L652.2 214.1L653.4 216.2L655.7 218.6L658.1 218.3L659.7 216.2L660.6 214.1L661.1 217.4L661.1 220.9L661.1 223.8L661.8 228.2L662.7 232.7L664.3 236.5L665.5 240.9L666.9 245.0L668.5 248.8L669.7 252.6L670.9 255.0L672.3 255.9L673.7 253.5L675.5 252.3L676.7 249.4L677.6 247.3L677.6 243.8L678.6 240.9L678.1 237.1L678.3 234.1L680.2 232.4L683.2 230.9L685.5 227.7L687.9 225.0L690.2 222.1L693.0 220.3L694.2 218.0L695.3 216.2L697.7 215.9L700.0 215.6L702.3 214.4L704.6 213.3L705.6 215.6L706.5 218.6L708.1 221.2L710.0 223.8L711.4 227.4L711.4 231.8L713.3 233.2L715.6 231.5L717.5 229.7L718.9 231.8L719.3 235.6L720.0 239.1L721.2 243.5L721.4 247.9L720.7 251.7L720.5 256.2L722.1 257.9L724.0 260.0L725.1 262.6L725.8 267.0L727.2 270.8L729.1 272.9L731.4 275.0L733.8 275.8L734.2 273.8L732.8 271.1L732.4 268.5L732.1 265.0L730.3 262.3L728.6 260.3L726.3 259.1L724.9 255.3L724.2 252.3L722.8 249.4L723.5 245.6L724.4 242.1L726.1 240.0L727.2 242.3L729.8 243.8L731.4 246.2L733.1 248.8L735.2 249.7L736.1 252.3L735.9 254.4L738.0 252.9L740.1 250.3L741.9 248.8L744.2 247.3L745.9 245.3L746.1 242.1L745.9 238.5L744.9 234.7L743.5 232.1L741.4 230.0L739.6 227.1L738.0 224.4L738.0 221.8L739.8 219.7L741.4 217.7L743.8 216.2L745.9 216.5L747.3 217.4L747.5 220.0L748.9 219.7L748.7 217.1L751.2 216.2L754.3 215.3L757.1 213.9L759.9 212.7L762.9 211.2L765.4 209.2L767.5 206.8L769.4 203.9L770.6 200.9L772.4 198.0L774.5 195.1L775.5 192.1L772.9 190.7L775.2 188.6L775.0 186.0L773.1 183.9L772.0 180.4L769.9 178.0L769.4 176.0L771.7 173.6L774.5 171.6L776.9 170.4L774.5 169.2L771.7 168.9L768.7 170.1L767.5 168.0L765.7 165.7L767.1 164.5L769.9 162.5L773.4 159.8L775.9 160.7L774.5 163.6L774.3 165.7L776.9 163.6L780.4 162.5L782.7 163.6L783.1 166.6L782.7 168.6L785.5 169.2L786.4 171.6L785.9 174.5L785.9 178.0L788.0 178.3L790.8 177.1L792.5 176.0L793.2 173.0L792.7 170.1L791.1 167.2L788.7 164.5L789.7 162.2L792.9 160.1L793.9 157.2L795.7 155.4L798.5 153.1L801.3 153.9L804.8 152.2L807.8 148.9L810.6 145.4L813.4 142.2L815.8 139.3L818.3 136.3L818.8 132.2L819.5 128.4L820.9 125.7L820.0 123.1L817.2 120.7L813.7 121.6L811.3 121.0L810.2 119.3L806.7 118.7L810.2 116.0L813.4 113.4L817.2 110.8L821.1 107.5L825.1 105.2L830.4 105.2L836.3 104.9L840.9 104.3L844.4 105.8L849.1 105.8L852.6 104.6L854.9 101.1L858.4 98.4L862.6 97.8L864.9 98.4L864.9 101.1L867.7 99.9L871.2 97.0L874.7 96.1L872.4 99.6L869.6 101.7L865.4 104.3L860.7 108.4L857.2 110.8L855.6 114.6L854.2 118.1L854.0 122.5L854.9 126.0L856.3 129.6L858.4 127.5L860.7 124.3L863.7 121.9L865.4 118.7L868.9 118.1L868.9 114.6L871.7 114.3L871.7 110.8L870.0 109.3L872.4 105.8L875.9 103.4L879.4 102.8L884.0 101.9L888.2 103.4L892.2 100.5L896.8 98.1L901.5 96.7L905.7 95.8L909.2 96.1L908.9 93.1L906.1 90.5L905.0 89.3L908.5 88.7L910.8 87.8L910.8 77.3L907.3 76.1L902.6 74.9L896.8 74.6L892.2 74.3L888.7 73.8L887.0 76.7L884.0 74.9L879.4 75.5L873.5 74.9L868.9 75.2L866.1 75.5L863.7 72.9L859.6 71.4L853.7 71.1L847.9 71.4L843.2 69.6L839.8 67.6L833.9 67.3L826.9 66.4L821.1 65.8L817.2 67.3L814.1 69.3L809.5 69.6L803.6 70.2L799.0 69.3L795.5 71.4L792.7 70.2L790.8 67.3L792.7 65.2L788.5 63.8L783.8 63.2L779.2 64.1L775.7 65.5L769.9 64.9L764.0 63.8L758.2 63.2L755.4 64.4L750.1 62.6L745.4 63.8L740.8 64.6L739.1 63.5L743.1 62.3L748.9 61.1L753.6 59.4L756.4 57.3L752.4 55.0L745.4 54.1L739.6 52.6L734.5 51.4L729.1 52.6L724.4 55.0L718.6 56.1L712.8 56.4L707.0 57.0L701.1 57.6L695.3 59.1L691.8 61.7L687.2 63.2L681.3 63.5L679.0 65.2L683.7 67.3L684.8 70.2L681.3 68.8L676.7 67.6L673.2 68.2L672.0 70.5L668.5 69.6L666.9 66.7L665.0 65.2L661.5 65.8L662.7 69.1L665.0 72.0L662.7 76.1L663.4 79.0L664.6 82.0L661.5 83.4L658.1 84.9L654.6 84.3L658.1 82.0L660.4 79.0L661.1 75.5L660.4 71.7L659.2 69.3L656.9 65.8L653.4 65.2L651.1 68.2L649.9 71.1L647.1 72.6L647.6 75.5L650.6 78.5L647.6 77.9L644.1 76.4L639.4 75.2L634.8 74.6L632.0 77.0L628.9 77.6L625.4 77.9L620.8 78.5L617.3 79.0L615.0 77.3L611.5 78.5L606.8 79.9L603.3 80.8L599.8 80.2L596.8 78.5L592.8 78.2L593.5 81.4L594.0 84.3L590.5 84.6L587.0 85.8L584.7 88.1L585.8 89.9L582.3 89.9L578.9 88.7L576.5 90.8L578.9 92.0L575.4 91.7L572.6 90.2L571.9 87.3L569.5 84.3L567.4 82.6L571.9 84.0L576.5 85.2L581.2 85.8L585.4 84.6L587.5 82.3L587.0 80.5L583.5 79.3L578.9 77.6L574.2 76.4L569.5 75.8L564.9 74.3L561.4 72.6L557.9 71.1L553.2 71.1L549.7 70.8L546.2 72.0L541.6 73.5L536.9 74.6L533.4 76.1L529.9 78.2L526.4 80.2L524.6 82.9L521.8 85.8L520.2 88.7L517.1 90.8L514.8 92.8L511.3 94.0L507.8 95.5L504.3 97.2L503.1 99.9L503.6 102.8L504.3 105.5L505.5 107.8L507.8 109.3L510.6 108.7L513.6 106.4L516.0 104.0L516.7 105.8L517.8 107.5L519.2 110.5L520.6 113.7L521.5 116.0L522.9 116.9L524.8 116.3L525.7 114.6L528.8 114.3L529.9 111.6L530.6 108.7L532.3 106.9L535.1 104.9L534.6 102.5L531.8 101.1L531.8 98.1L533.0 95.8L535.8 93.7L539.3 92.0L541.6 89.3L543.2 87.0L547.4 86.4L550.4 88.7L548.6 91.1L545.1 92.5L541.6 94.6L541.1 97.5L541.6 99.6L541.6 101.7L543.9 102.8L545.8 103.7L549.7 102.8L553.2 102.2L556.7 101.7L560.2 103.1L561.4 103.7L557.9 104.3L554.4 104.9L550.9 104.9L547.4 105.5L546.2 106.9L548.1 108.4L547.9 111.3L545.8 112.2L544.1 110.5L541.8 111.1L540.4 113.7L540.7 116.6L538.1 118.7L535.8 119.9L533.9 119.0L530.6 119.6L527.6 120.5L524.6 121.3L521.8 120.2L519.5 120.5L517.1 121.0L515.3 119.9L513.9 118.4L514.3 116.3L516.0 114.0L516.0 110.8L513.6 111.6L510.8 112.8L510.4 116.0L511.5 118.1L511.8 121.0L510.1 122.2L507.8 122.5L505.5 122.8L503.1 123.7L502.0 126.0L500.4 127.8L498.5 129.0L496.2 129.9L495.2 131.9L492.7 133.4L490.3 134.8L488.5 134.0L487.5 136.6L484.5 136.3L480.6 137.2L481.5 139.3L484.5 140.1L486.8 141.3L488.5 144.0L488.7 147.5L488.2 151.0L486.8 152.2L483.3 151.9L479.9 151.9L476.4 151.6L472.9 151.3L470.1 153.3L471.0 156.3L471.2 159.2L470.5 162.2L469.6 164.5L469.8 166.3L471.0 168.0L470.8 171.0L472.9 171.0L475.2 170.4L476.8 172.1L478.9 173.6ZM478.2 132.5L481.7 131.9L484.5 131.0L488.0 130.7L491.5 130.4L494.5 129.3L493.4 128.4L495.2 126.3L495.0 124.3L492.2 124.0L492.0 122.2L490.8 120.2L488.5 118.7L487.3 115.8L485.0 114.9L486.1 112.2L486.8 110.5L483.3 110.2L482.2 109.3L484.0 107.5L479.9 107.5L478.0 109.9L478.0 112.8L478.7 115.8L480.3 118.1L483.3 118.4L484.5 121.0L484.0 123.1L481.0 123.4L481.7 125.7L479.4 127.2L481.5 128.1L484.5 128.7L481.7 129.6L478.2 132.5ZM477.5 126.3L474.0 127.2L469.4 128.1L467.7 126.3L469.4 124.0L468.2 121.6L470.5 120.2L472.2 117.8L475.2 117.5L477.5 118.4L478.5 120.2L477.1 122.5L477.5 126.3ZM439.1 92.0L443.7 93.1L448.4 93.4L453.1 92.3L457.0 90.8L459.6 88.7L457.3 85.8L453.8 84.3L449.6 85.2L444.2 85.5L441.4 87.3L438.4 84.9L435.6 87.0L439.6 88.7L436.1 89.3L440.3 90.8L439.1 92.0ZM518.3 49.1L522.9 52.0L527.6 54.1L531.1 54.4L534.6 52.0L540.4 49.7L535.8 47.6L532.3 45.3L525.3 45.3L518.3 46.1L518.3 49.1ZM533.4 46.1L540.4 47.0L548.6 46.7L554.4 44.7L547.4 43.5L538.1 43.8L533.4 46.1ZM541.6 52.0L546.2 52.6L548.6 50.8L543.9 50.0L541.6 52.0ZM601.0 44.1L608.0 45.0L615.0 44.1L624.3 44.1L631.3 42.9L635.9 41.1L626.6 40.3L617.3 41.7L608.0 42.3L601.0 44.1ZM611.5 71.1L616.1 72.0L620.8 72.0L624.3 71.1L620.8 66.7L621.9 62.3L626.6 59.4L633.6 57.0L642.9 55.0L651.1 54.1L647.6 53.5L638.3 55.0L628.9 56.4L623.1 58.5L619.2 62.3L615.0 65.2L612.6 68.2L611.5 71.1ZM604.5 77.6L607.5 77.9L606.8 75.8L604.5 76.1L604.5 77.6ZM712.8 47.6L719.8 48.2L729.1 47.0L734.9 46.1L729.1 43.8L719.8 43.2L714.0 44.7L712.8 47.6ZM721.0 50.5L729.1 50.8L737.3 49.1L731.4 47.0L724.4 48.2L721.0 50.5ZM704.6 44.7L712.8 44.1L718.6 42.3L712.8 41.1L705.8 42.3L704.6 44.7ZM810.6 59.4L817.6 60.2L825.8 59.4L831.6 58.2L826.9 56.4L820.0 56.1L813.0 57.0L810.6 59.4ZM832.8 59.7L840.9 59.9L843.2 58.5L837.4 57.9L832.8 59.7ZM817.2 64.1L822.3 64.4L825.8 63.5L820.0 62.6L817.2 64.1ZM907.3 71.1L910.8 71.4L910.8 69.6L908.0 69.9L907.3 71.1ZM822.3 144.5L825.8 142.2L824.1 140.1L824.6 135.7L826.9 134.8L825.3 131.3L825.3 126.9L824.6 123.4L823.7 120.2L822.3 123.1L821.8 126.9L822.7 131.3L822.3 135.7L822.3 140.1L822.3 144.5ZM817.6 157.8L820.4 156.9L820.7 154.8L824.6 156.3L828.1 153.3L830.4 152.5L829.7 149.8L825.8 149.8L822.3 146.3L821.3 148.9L820.7 152.5L818.3 152.8L817.6 155.1L817.6 157.8ZM796.4 179.8L798.5 180.4L801.3 178.9L804.8 177.7L806.4 178.6L806.4 180.4L807.8 181.3L810.2 178.6L811.8 177.7L814.8 178.0L815.8 176.3L817.4 176.8L818.3 176.3L819.7 174.5L819.7 171.0L820.0 167.4L821.8 164.2L821.8 161.0L820.7 158.0L818.3 159.2L817.6 162.2L817.4 165.1L816.0 168.0L813.7 170.4L811.1 170.4L810.6 171.6L809.0 173.0L807.8 175.1L804.8 175.1L801.3 175.4L799.0 177.4L796.4 179.8ZM793.6 182.7L794.8 185.7L795.0 188.0L796.7 188.6L797.8 186.2L798.5 183.3L797.8 181.0L795.5 180.4L793.6 182.7ZM799.7 181.8L800.9 183.3L802.7 181.5L804.3 181.3L805.0 179.2L802.5 179.2L800.9 180.1L799.7 181.8ZM771.3 212.1L772.9 215.0L774.1 212.7L775.2 207.7L774.8 205.6L773.4 205.9L771.7 209.2L771.3 212.1ZM744.7 223.0L746.6 225.9L748.7 225.0L750.1 222.1L748.9 220.6L746.6 221.2L744.7 223.0ZM677.4 254.7L678.3 251.5L680.2 253.8L682.0 257.6L681.8 260.6L679.5 262.0L677.9 261.1L677.4 258.2L677.4 254.7ZM771.7 231.8L772.4 225.9L774.5 225.3L776.2 225.9L776.4 229.7L774.8 233.2L775.0 237.1L777.6 238.5L780.4 239.1L780.4 242.1L778.0 240.9L775.2 239.1L772.9 239.1L772.2 236.8L771.0 234.7L771.7 231.8ZM775.7 259.1L776.9 256.7L779.2 254.7L782.2 253.8L783.8 251.5L785.7 253.8L786.2 258.2L785.0 261.1L783.8 262.6L782.7 262.0L780.8 260.6L779.2 257.6L777.6 258.5L775.7 259.1ZM781.5 250.3L783.1 246.8L784.1 242.9L781.5 242.9L781.7 246.5L781.5 250.3ZM776.9 251.7L778.5 248.8L779.2 246.8L776.9 245.6L775.7 247.9L776.9 251.7ZM764.7 255.0L766.8 252.6L769.4 249.4L769.9 246.8L768.0 249.4L765.9 252.3L764.7 255.0ZM772.2 243.5L773.8 243.5L774.5 240.6L772.2 240.3L772.2 243.5ZM745.4 275.2L746.6 273.8L748.4 274.4L750.8 272.3L752.4 270.8L754.7 270.0L757.1 266.4L760.1 264.1L762.2 261.4L763.6 259.1L765.7 260.9L767.1 263.2L768.7 264.4L766.8 266.1L765.9 268.5L766.4 272.3L768.5 276.1L766.4 277.3L765.2 279.7L765.2 282.6L762.9 285.5L762.4 289.0L761.2 290.8L758.2 291.4L755.9 289.6L752.4 289.6L749.6 288.5L748.2 284.9L746.1 282.0L745.4 278.8L745.4 275.2ZM713.5 263.2L716.3 264.4L718.6 264.4L720.5 267.0L723.3 270.0L725.6 272.9L727.9 274.4L731.0 276.7L732.6 279.7L733.8 282.6L735.2 285.5L738.0 287.9L738.4 290.8L738.0 294.3L737.3 296.7L734.9 296.4L732.6 293.7L729.8 291.1L727.5 287.9L725.6 284.1L724.0 280.5L722.1 277.6L721.0 274.4L718.6 271.4L716.3 268.8L714.0 265.6L713.5 263.2ZM736.8 299.3L738.9 297.0L741.9 297.6L744.5 299.3L747.7 299.6L750.1 298.4L753.6 299.9L755.9 302.0L758.2 302.6L758.2 304.9L754.7 304.3L751.2 304.0L747.7 303.4L744.2 302.6L740.8 302.0L738.4 300.2L736.8 299.3ZM759.4 303.7L761.7 304.0L764.0 304.3L766.4 304.0L768.7 304.3L767.5 305.8L764.0 306.1L761.7 305.8L759.4 305.2L759.4 303.7ZM770.6 304.6L773.4 304.3L776.9 304.3L778.0 304.0L777.6 305.5L773.4 305.8L770.6 305.5L770.6 304.6ZM779.2 309.9L781.5 307.0L785.0 304.9L787.8 304.3L786.2 306.7L782.7 309.0L780.4 309.9L779.2 309.9ZM768.7 307.6L771.0 307.3L772.9 309.0L771.0 309.6L768.7 308.1L768.7 307.6ZM769.9 295.8L769.9 289.9L768.2 287.6L769.4 283.5L770.6 279.7L771.0 277.3L773.4 275.8L776.9 276.7L780.4 276.7L783.1 275.0L782.2 278.2L779.2 278.8L775.7 278.2L772.9 278.8L771.5 282.0L773.4 283.2L776.9 282.0L778.7 282.0L777.6 284.9L775.2 285.5L776.4 289.0L777.6 292.3L776.4 294.3L774.5 292.3L773.4 288.5L772.2 290.8L772.0 295.2L769.9 295.8ZM788.5 281.1L789.0 277.3L789.7 273.8L791.3 275.8L790.8 278.8L790.4 281.1L789.2 282.0L788.5 281.1ZM789.7 289.0L793.2 287.9L796.2 289.0L795.5 290.5L792.0 289.9L789.7 289.0ZM785.0 289.0L787.3 288.8L787.8 290.2L785.7 290.8L785.0 289.0ZM796.7 282.0L800.2 280.8L803.6 282.0L804.3 286.4L806.7 289.3L809.5 286.1L813.0 284.3L816.5 286.1L820.0 287.3L823.4 289.0L826.9 290.8L830.4 293.7L832.8 296.7L835.3 297.9L834.4 300.2L836.3 303.1L838.6 306.1L840.9 309.0L842.5 310.8L839.8 310.2L836.3 309.3L833.9 307.6L831.6 304.6L828.8 302.3L826.5 303.1L824.6 306.1L821.1 306.7L817.6 304.0L814.8 303.7L813.0 301.1L814.8 299.6L813.7 296.7L810.6 294.0L807.1 292.6L803.6 291.1L801.3 291.4L800.9 289.3L799.0 287.9L802.5 286.4L800.2 284.9L797.8 284.1L796.7 282.0ZM837.0 296.4L839.8 295.8L842.1 295.5L844.4 293.7L846.3 292.3L845.6 295.2L842.8 297.9L839.8 298.2L837.0 296.4ZM842.8 287.6L845.6 289.3L847.9 292.3L847.0 293.2L844.4 289.9L842.8 287.6ZM851.6 295.8L853.7 297.9L854.4 299.6L852.6 298.7L851.6 295.8ZM856.1 300.2L859.6 302.6L863.0 304.0L859.6 303.1L856.1 300.2ZM863.3 307.0L865.4 307.6L866.1 308.7L863.7 308.1L863.3 307.0ZM865.8 304.0L867.2 307.0L866.5 307.3L865.6 304.9L865.8 304.0ZM879.6 323.7L881.0 325.2L881.2 327.8L880.1 325.8L879.6 323.7ZM873.5 339.0L877.0 341.9L880.1 344.9L878.9 344.9L875.9 342.8L873.5 339.0ZM904.5 331.3L907.3 331.1L907.3 333.1L905.0 333.1L904.5 331.3ZM908.0 328.1L910.8 327.5L909.6 329.0L908.0 328.1ZM755.2 344.3L757.1 343.4L760.6 340.7L764.0 340.2L768.2 339.0L771.0 337.8L774.5 335.5L776.2 332.5L776.4 329.6L778.7 330.5L779.7 327.5L781.5 326.6L783.4 323.7L786.2 321.4L788.5 320.8L790.4 323.1L793.2 323.4L793.9 319.3L795.5 316.7L797.8 315.5L800.2 315.2L800.2 313.1L803.6 314.6L807.1 315.2L810.2 315.5L809.5 318.4L807.8 322.2L807.8 323.7L810.6 326.1L814.1 328.7L817.2 331.1L819.5 331.1L820.7 326.6L821.3 322.2L821.6 317.8L822.3 313.4L823.4 311.4L825.3 314.9L826.2 319.3L828.1 321.7L830.0 323.7L830.4 327.5L831.6 331.1L832.3 334.9L835.1 336.6L838.1 339.3L839.8 343.7L842.3 346.0L843.2 349.0L846.3 352.2L847.9 355.4L848.6 359.5L849.1 363.4L848.4 367.8L847.4 372.2L846.3 375.4L844.4 378.0L843.2 381.0L842.1 384.2L840.9 387.7L840.7 389.8L837.4 390.7L834.4 392.7L832.3 394.2L829.7 392.1L827.4 392.1L824.6 393.3L821.1 392.1L818.3 390.7L816.9 387.7L815.8 384.8L813.7 383.9L813.0 381.0L812.5 377.5L811.3 381.0L810.6 383.0L808.3 381.9L807.1 381.0L805.3 377.2L803.2 374.5L799.7 373.6L796.7 372.2L792.0 372.8L788.5 374.2L785.0 374.5L782.2 376.6L779.2 379.2L775.7 379.2L772.2 379.2L769.9 380.7L766.4 382.5L762.9 382.5L759.9 380.4L759.4 378.0L760.8 375.1L761.0 372.2L759.4 367.8L758.5 363.4L757.1 359.8L755.9 356.0L756.6 353.1L755.7 350.1L756.4 347.2L755.2 344.3ZM828.6 399.2L831.6 400.4L835.1 399.5L837.0 400.1L836.7 403.6L835.1 406.5L832.8 407.7L830.4 406.0L829.7 403.0L828.6 399.2ZM893.8 380.7L895.7 382.5L898.0 385.4L900.3 387.7L901.5 390.1L905.0 390.7L907.3 390.1L906.1 393.6L903.8 395.4L903.3 398.0L900.3 401.5L898.7 401.0L899.6 397.7L896.8 395.1L898.5 392.7L898.5 389.2L896.8 386.0L895.0 383.3L893.8 380.7ZM893.8 398.6L896.4 399.8L897.5 402.1L895.2 406.0L893.8 407.7L890.5 409.8L889.4 414.2L886.3 416.2L883.5 416.5L880.1 415.1L879.4 413.3L882.8 409.5L886.3 407.4L889.8 404.5L892.2 401.5L893.8 398.6ZM128.1 223.8L130.4 222.7L130.0 220.3L128.3 220.3L128.1 223.8ZM126.5 219.1L128.1 218.8L126.9 218.0L126.5 219.1ZM123.0 217.1L124.1 217.1L123.7 215.9L123.0 217.1ZM119.3 215.3L120.4 215.3L120.0 214.4L119.3 215.3ZM278.4 282.3L280.0 280.5L279.1 279.4L278.4 282.3ZM651.5 423.9L655.3 423.6L655.7 425.3L652.9 425.3L651.5 423.9ZM520.4 168.6L522.9 167.4L526.4 167.7L527.8 167.4L526.9 170.4L526.4 171.9L524.1 171.0L521.3 169.5L520.4 168.6ZM511.1 164.5L511.1 160.7L512.9 158.6L514.1 160.7L513.9 164.2L512.5 165.4L511.1 164.5ZM511.5 156.6L511.8 154.5L513.4 153.3L513.6 156.3L512.9 158.0L511.5 156.6ZM546.2 176.0L548.6 176.6L551.6 176.8L552.8 176.3L549.7 175.7L546.2 175.1L546.2 176.0ZM566.7 177.4L568.4 178.0L570.7 176.8L572.1 174.8L569.5 176.0L567.9 176.3L566.7 177.4ZM497.1 163.6L498.5 164.2L499.4 163.0L498.5 162.5L497.1 163.6ZM533.7 112.2L535.3 111.1L535.8 109.6L534.1 110.5L533.7 112.2ZM517.1 117.2L519.5 118.1L520.9 116.3L520.2 114.9L517.8 115.8L517.1 117.2ZM474.3 97.5L476.1 97.5L475.7 96.7L474.3 97.5Z"/>
<path d="M556.7 157.8L555.8 154.8L556.7 152.5L558.4 149.5L560.7 146.9L563.0 143.4L565.6 142.8L568.4 144.2L567.4 146.3L569.5 148.6L571.9 148.9L574.2 147.2L576.8 146.6L574.2 144.5L573.0 143.4L576.5 142.2L579.6 141.6L582.8 141.0L580.5 143.1L579.1 145.1L577.7 146.9L580.0 148.9L583.5 151.6L587.0 153.3L588.4 156.9L585.8 159.2L582.3 158.9L578.9 158.9L576.1 158.0L573.0 156.3L569.5 156.3L566.0 157.2L562.5 158.6L559.5 158.6L556.7 157.8ZM606.8 169.5L610.3 171.6L614.5 171.6L617.3 170.1L616.8 165.7L615.0 162.7L615.7 159.8L614.5 157.5L616.1 155.4L613.8 153.9L611.0 152.5L610.3 149.2L612.6 146.6L615.0 143.1L612.6 141.6L609.1 142.2L605.6 143.4L602.8 146.0L601.0 149.5L602.1 153.3L604.5 156.9L606.8 160.4L605.6 164.2L605.6 167.2L606.8 169.5ZM627.3 150.4L630.1 150.4L633.1 148.1L633.6 144.5L631.3 142.5L628.5 144.5L627.3 147.5L627.3 150.4ZM662.7 144.5L666.2 142.5L670.9 142.8L675.5 143.1L674.4 144.0L669.7 144.0L666.2 145.4L663.4 146.6L662.7 144.5ZM733.3 128.1L736.1 128.4L739.6 125.4L743.1 122.5L746.6 118.7L747.3 116.0L744.9 117.2L741.9 121.0L738.4 124.0L734.9 126.3L733.3 128.1ZM277.2 142.5L280.7 142.8L284.2 141.6L287.7 143.1L292.3 142.5L294.7 143.1L294.0 140.1L291.2 137.8L286.5 136.3L283.0 138.7L279.5 140.7L277.2 142.5ZM287.0 157.2L290.0 156.9L290.7 152.5L292.3 148.1L293.5 145.1L290.0 145.1L287.7 147.5L287.0 151.9L287.0 157.2ZM294.7 144.8L297.0 146.6L297.5 150.4L299.3 153.1L301.2 152.5L301.7 148.9L305.1 148.6L304.0 146.0L301.7 144.5L298.2 144.0L294.7 144.8ZM297.2 157.2L300.5 157.8L304.0 156.3L307.5 154.2L306.3 153.3L302.8 154.2L299.3 155.7L297.2 157.2ZM305.8 152.5L309.8 152.5L313.5 151.9L313.8 150.1L311.0 150.4L307.5 151.0L305.8 152.5ZM262.0 131.3L265.5 131.9L266.7 128.4L264.4 124.6L262.5 121.6L260.4 122.5L262.0 126.0L262.0 131.3ZM219.0 100.5L223.6 100.8L228.3 99.6L232.9 96.7L236.4 95.5L231.8 94.9L227.1 97.0L222.4 98.1L219.0 100.5ZM200.3 88.7L205.0 88.4L209.6 89.0L214.3 87.3L216.6 84.6L212.0 83.1L207.3 84.3L202.6 85.8L200.3 88.7ZM231.8 107.2L236.4 106.4L243.4 105.8L239.9 104.9L234.1 105.5L231.8 107.2ZM565.6 282.6L567.2 279.1L570.2 278.8L571.4 281.1L570.7 284.1L569.5 287.0L567.2 287.6L565.6 285.5L565.6 282.6ZM559.5 289.9L560.7 292.9L560.9 297.3L562.8 301.7L563.7 305.2L562.5 304.6L560.2 298.7L559.5 294.3L559.5 289.9ZM570.7 307.8L572.1 310.5L572.6 314.9L573.5 319.3L573.0 321.7L571.9 319.3L571.2 314.9L570.7 310.5L570.7 307.8ZM562.1 103.4L564.9 102.8L567.9 101.7L567.2 99.6L563.7 99.0L561.4 100.5L562.1 103.4ZM571.9 100.5L574.9 99.9L576.1 97.5L573.5 95.8L571.9 97.5L571.9 100.5ZM328.4 324.9L330.1 325.5L331.2 327.5L329.6 327.5L328.4 324.9Z" stroke-width="0.8"/>
<path d="M72.2 527.3L83.8 527.8L95.5 528.7L107.1 529.9L118.8 530.2L130.4 529.3L142.1 530.8L146.7 527.8L137.4 524.9L135.1 521.4L137.4 517.6L146.7 515.5L142.1 511.7L135.1 509.3L125.8 507.3L123.4 505.8L132.8 505.2L142.1 503.8L149.1 501.4L158.4 500.8L170.0 499.4L179.4 498.2L188.7 497.6L198.0 496.4L207.3 497.0L216.6 497.0L223.6 495.8L228.3 497.9L235.3 499.4L244.6 499.9L253.9 498.5L258.6 495.5L256.2 492.6L265.5 492.0L270.2 494.1L279.5 494.1L288.8 494.1L298.2 494.9L305.1 494.1L312.1 494.9L319.1 493.5L326.1 494.1L331.9 492.6L334.7 488.2L334.3 483.8L336.6 479.4L338.9 475.9L342.4 472.0L347.1 469.4L352.9 466.5L357.6 465.6L358.7 467.6L354.1 468.8L349.4 471.2L347.1 474.4L342.4 476.4L340.1 480.0L343.6 482.3L347.1 485.3L349.4 489.7L350.6 494.1L348.2 498.5L347.1 501.4L342.4 504.3L335.4 506.4L347.1 507.6L363.4 509.6L379.7 511.4L393.7 511.7L405.3 511.1L417.0 507.6L426.3 504.1L435.6 500.2L444.9 496.7L454.2 493.8L461.2 492.0L463.5 490.2L468.2 491.1L472.9 489.7L477.5 490.0L482.2 488.8L486.8 487.6L496.2 485.3L505.5 485.3L514.8 485.3L524.1 483.8L533.4 483.8L542.7 485.8L552.1 485.8L561.4 483.8L568.4 481.7L575.4 483.2L582.3 483.2L589.3 480.3L598.7 477.9L608.0 476.4L615.0 473.5L621.9 474.4L626.6 476.4L633.6 477.9L640.6 477.9L647.6 478.8L652.2 480.8L654.6 485.3L659.2 486.1L663.9 484.1L670.9 482.3L677.9 479.4L684.8 476.4L691.8 475.0L698.8 475.9L705.8 474.4L712.8 475.0L719.8 473.5L726.8 472.0L733.8 473.5L740.8 475.0L747.7 474.4L754.7 472.9L761.7 475.3L768.7 476.4L775.7 475.3L782.7 474.4L789.7 476.4L796.7 474.4L803.6 473.5L810.6 474.4L817.6 475.6L824.6 476.4L831.6 478.8L838.6 480.6L845.6 481.4L852.6 482.9L859.6 483.8L866.5 486.1L873.5 487.0L880.5 488.2L887.5 489.7L889.8 492.6L885.2 495.5L880.5 498.5L875.9 501.4L873.5 504.3L873.5 507.3L878.2 509.3L871.2 511.1L866.5 513.2L864.2 516.1L868.9 519.0L875.9 522.0L882.8 524.3L892.2 526.4L901.5 527.3L910.8 527.3M326.1 482.3L322.6 483.8L320.3 486.7L316.8 488.2L318.0 491.1L323.8 492.0L328.4 491.7L330.8 489.7L329.6 486.1L326.1 482.3ZM257.4 490.8L263.2 490.5L267.9 492.0L263.2 492.9L257.4 492.3L257.4 490.8ZM195.7 494.9L200.3 494.7L202.6 496.1L198.0 496.7L195.7 494.9ZM111.8 510.2L118.8 509.6L122.3 511.7L116.5 513.2L110.6 512.3L111.8 510.2ZM142.1 505.8L149.1 505.2L151.4 506.7L145.6 507.6L142.1 505.8ZM351.7 462.9L355.2 461.8L356.9 462.3L352.9 463.8L351.7 462.9ZM384.3 457.6L386.7 457.6L386.0 458.2L384.3 457.6Z" stroke-width="0.85" stroke="#3a3a40"/>
</g></g>
<g filter="url(#tsoft)">
<rect x="72.2" y="15.3" width="839.0" height="528.7" fill="none" stroke="#6a6a6a" stroke-width="1.2"/>
<path d="M142.1 544.0v-8M142.1 15.3v8M281.8 544.0v-8M281.8 15.3v8M421.6 544.0v-8M421.6 15.3v8M561.4 544.0v-8M561.4 15.3v8M701.1 544.0v-8M701.1 15.3v8M840.9 544.0v-8M840.9 15.3v8M72.2 103.4h8M910.8 103.4h-8M72.2 191.5h8M910.8 191.5h-8M72.2 279.7h8M910.8 279.7h-8M72.2 367.8h8M910.8 367.8h-8M72.2 455.9h8M910.8 455.9h-8" stroke="#6a6a6a" stroke-width="1.1" fill="none"/>
<g font-size="25.5" fill="#262626" stroke="#262626" stroke-width="0.12" text-anchor="end"><text x="63.5" y="24.1">90°N</text><text x="63.5" y="112.2">60°N</text><text x="63.5" y="200.3">30°N</text><text x="63.5" y="288.5">0°</text><text x="63.5" y="376.6">30°S</text><text x="63.5" y="464.7">60°S</text><text x="63.5" y="552.8">90°S</text></g>
<g font-size="25.5" fill="#262626" stroke="#262626" stroke-width="0.12" text-anchor="middle"><text x="142.6" y="577.3">150°W</text><text x="282.3" y="577.3">90°W</text><text x="422.1" y="577.3">30°W</text><text x="561.9" y="577.3">30°E</text><text x="701.6" y="577.3">90°E</text><text x="841.4" y="577.3">150°E</text></g>

<g filter="url(#soft)"><rect x="147.60" y="320.80" width="11.56" height="11.25" fill="#ffe800"/><rect x="158.76" y="320.80" width="11.56" height="11.25" fill="#ffed37"/><rect x="169.92" y="320.80" width="11.56" height="11.25" fill="#fff064"/><rect x="181.08" y="320.80" width="11.56" height="11.25" fill="#fff48d"/><rect x="192.24" y="320.80" width="11.56" height="11.25" fill="#fff7b4"/><rect x="203.40" y="320.80" width="11.56" height="11.25" fill="#aab0ff"/><rect x="214.56" y="320.80" width="11.56" height="11.25" fill="#7985e3"/><rect x="225.72" y="320.80" width="11.56" height="11.25" fill="#4f60ca"/><rect x="236.88" y="320.80" width="11.56" height="11.25" fill="#273cb3"/><rect x="248.04" y="320.80" width="11.56" height="11.25" fill="#001a9c"/><rect x="147.60" y="331.65" width="11.56" height="11.25" fill="#ffd400"/><rect x="158.76" y="331.65" width="11.56" height="11.25" fill="#ffdc38"/><rect x="169.92" y="331.65" width="11.56" height="11.25" fill="#ffe364"/><rect x="181.08" y="331.65" width="11.56" height="11.25" fill="#ffea8d"/><rect x="192.24" y="331.65" width="11.56" height="11.25" fill="#fff0b4"/><rect x="203.40" y="331.65" width="11.56" height="11.25" fill="#abb7f4"/><rect x="214.56" y="331.65" width="11.56" height="11.25" fill="#7b8ed7"/><rect x="225.72" y="331.65" width="11.56" height="11.25" fill="#506bbe"/><rect x="236.88" y="331.65" width="11.56" height="11.25" fill="#2949a6"/><rect x="248.04" y="331.65" width="11.56" height="11.25" fill="#02298f"/><rect x="147.60" y="342.50" width="11.56" height="11.25" fill="#ffbf00"/><rect x="158.76" y="342.50" width="11.56" height="11.25" fill="#ffcc38"/><rect x="169.92" y="342.50" width="11.56" height="11.25" fill="#ffd664"/><rect x="181.08" y="342.50" width="11.56" height="11.25" fill="#ffe08e"/><rect x="192.24" y="342.50" width="11.56" height="11.25" fill="#ffe9b5"/><rect x="203.40" y="342.50" width="11.56" height="11.25" fill="#acbeea"/><rect x="214.56" y="342.50" width="11.56" height="11.25" fill="#7c98cc"/><rect x="225.72" y="342.50" width="11.56" height="11.25" fill="#5276b2"/><rect x="236.88" y="342.50" width="11.56" height="11.25" fill="#2a5799"/><rect x="248.04" y="342.50" width="11.56" height="11.25" fill="#043881"/><rect x="147.60" y="353.35" width="11.56" height="11.25" fill="#ffab00"/><rect x="158.76" y="353.35" width="11.56" height="11.25" fill="#ffbc38"/><rect x="169.92" y="353.35" width="11.56" height="11.25" fill="#ffc965"/><rect x="181.08" y="353.35" width="11.56" height="11.25" fill="#ffd68e"/><rect x="192.24" y="353.35" width="11.56" height="11.25" fill="#ffe2b5"/><rect x="203.40" y="353.35" width="11.56" height="11.25" fill="#adc5df"/><rect x="214.56" y="353.35" width="11.56" height="11.25" fill="#7da1c1"/><rect x="225.72" y="353.35" width="11.56" height="11.25" fill="#5482a6"/><rect x="236.88" y="353.35" width="11.56" height="11.25" fill="#2c648c"/><rect x="248.04" y="353.35" width="11.56" height="11.25" fill="#064774"/><rect x="147.60" y="364.20" width="11.56" height="11.25" fill="#ff9600"/><rect x="158.76" y="364.20" width="11.56" height="11.25" fill="#ffab38"/><rect x="169.92" y="364.20" width="11.56" height="11.25" fill="#ffbc65"/><rect x="181.08" y="364.20" width="11.56" height="11.25" fill="#ffcc8e"/><rect x="192.24" y="364.20" width="11.56" height="11.25" fill="#ffdbb6"/><rect x="203.40" y="364.20" width="11.56" height="11.25" fill="#aeccd5"/><rect x="214.56" y="364.20" width="11.56" height="11.25" fill="#7faab5"/><rect x="225.72" y="364.20" width="11.56" height="11.25" fill="#558d9a"/><rect x="236.88" y="364.20" width="11.56" height="11.25" fill="#2e7180"/><rect x="248.04" y="364.20" width="11.56" height="11.25" fill="#085667"/><rect x="147.60" y="375.05" width="11.56" height="11.25" fill="#fa7c02"/><rect x="158.76" y="375.05" width="11.56" height="11.25" fill="#fb9739"/><rect x="169.92" y="375.05" width="11.56" height="11.25" fill="#fdad66"/><rect x="181.08" y="375.05" width="11.56" height="11.25" fill="#fec18f"/><rect x="192.24" y="375.05" width="11.56" height="11.25" fill="#ffd4b6"/><rect x="203.40" y="375.05" width="11.56" height="11.25" fill="#b0d4ca"/><rect x="214.56" y="375.05" width="11.56" height="11.25" fill="#80b4aa"/><rect x="225.72" y="375.05" width="11.56" height="11.25" fill="#57988e"/><rect x="236.88" y="375.05" width="11.56" height="11.25" fill="#307e73"/><rect x="248.04" y="375.05" width="11.56" height="11.25" fill="#0a6559"/><rect x="147.60" y="385.90" width="11.56" height="11.25" fill="#ef5d05"/><rect x="158.76" y="385.90" width="11.56" height="11.25" fill="#f4803c"/><rect x="169.92" y="385.90" width="11.56" height="11.25" fill="#f89b68"/><rect x="181.08" y="385.90" width="11.56" height="11.25" fill="#fcb590"/><rect x="192.24" y="385.90" width="11.56" height="11.25" fill="#ffcdb7"/><rect x="203.40" y="385.90" width="11.56" height="11.25" fill="#b1dbc0"/><rect x="214.56" y="385.90" width="11.56" height="11.25" fill="#83be9d"/><rect x="225.72" y="385.90" width="11.56" height="11.25" fill="#5ba57e"/><rect x="236.88" y="385.90" width="11.56" height="11.25" fill="#358d61"/><rect x="248.04" y="385.90" width="11.56" height="11.25" fill="#107645"/><rect x="147.60" y="396.75" width="11.56" height="11.25" fill="#e53e09"/><rect x="158.76" y="396.75" width="11.56" height="11.25" fill="#ed683f"/><rect x="169.92" y="396.75" width="11.56" height="11.25" fill="#f38a6a"/><rect x="181.08" y="396.75" width="11.56" height="11.25" fill="#f9a991"/><rect x="192.24" y="396.75" width="11.56" height="11.25" fill="#ffc6b7"/><rect x="203.40" y="396.75" width="11.56" height="11.25" fill="#b2e2b5"/><rect x="214.56" y="396.75" width="11.56" height="11.25" fill="#85c88f"/><rect x="225.72" y="396.75" width="11.56" height="11.25" fill="#5eb16f"/><rect x="236.88" y="396.75" width="11.56" height="11.25" fill="#3a9b50"/><rect x="248.04" y="396.75" width="11.56" height="11.25" fill="#168632"/><rect x="147.60" y="407.60" width="11.56" height="11.25" fill="#da1f0c"/><rect x="158.76" y="407.60" width="11.56" height="11.25" fill="#e65041"/><rect x="169.92" y="407.60" width="11.56" height="11.25" fill="#ef786b"/><rect x="181.08" y="407.60" width="11.56" height="11.25" fill="#f79c92"/><rect x="192.24" y="407.60" width="11.56" height="11.25" fill="#ffbfb8"/><rect x="203.40" y="407.60" width="11.56" height="11.25" fill="#b3e9ab"/><rect x="214.56" y="407.60" width="11.56" height="11.25" fill="#88d182"/><rect x="225.72" y="407.60" width="11.56" height="11.25" fill="#62bd5f"/><rect x="236.88" y="407.60" width="11.56" height="11.25" fill="#3eaa3e"/><rect x="248.04" y="407.60" width="11.56" height="11.25" fill="#1c971e"/><rect x="147.60" y="418.45" width="11.56" height="11.25" fill="#d00010"/><rect x="158.76" y="418.45" width="11.56" height="11.25" fill="#de3944"/><rect x="169.92" y="418.45" width="11.56" height="11.25" fill="#ea666d"/><rect x="181.08" y="418.45" width="11.56" height="11.25" fill="#f59094"/><rect x="192.24" y="418.45" width="11.56" height="11.25" fill="#ffb8b8"/><rect x="203.40" y="418.45" width="11.56" height="11.25" fill="#b4f0a0"/><rect x="214.56" y="418.45" width="11.56" height="11.25" fill="#8adb75"/><rect x="225.72" y="418.45" width="11.56" height="11.25" fill="#66c950"/><rect x="236.88" y="418.45" width="11.56" height="11.25" fill="#43b82c"/><rect x="248.04" y="418.45" width="11.56" height="11.25" fill="#22a80a"/></g>
<g font-size="12.6" fill="#3a3a3a" stroke="#3a3a3a" stroke-width="0.12" text-anchor="middle"><text transform="translate(148.9,448.2) scale(1,1.15)">-5</text><text transform="translate(170.7,448.2) scale(1,1.15)">-3</text><text transform="translate(192.6,448.2) scale(1,1.15)">-1</text><text transform="translate(211.9,448.2) scale(1,1.15)">1</text><text transform="translate(234.0,448.2) scale(1,1.15)">3</text><text transform="translate(258.2,448.2) scale(1,1.15)">5</text></g>
<g font-size="12.6" fill="#3a3a3a" stroke="#3a3a3a" stroke-width="0.12" text-anchor="end"><text transform="translate(133.0,326.0) scale(1,1.15)">2</text><text transform="translate(140.8,347.7) scale(1,1.15)">1.2</text><text transform="translate(140.8,369.4) scale(1,1.15)">0.4</text><text transform="translate(140.8,391.1) scale(1,1.15)">-0.4</text><text transform="translate(140.8,412.8) scale(1,1.15)">-1.2</text><text transform="translate(140.8,434.5) scale(1,1.15)">-2</text></g>
<text transform="translate(202,467.3) scale(1,1.15)" font-size="13.5" fill="#3a3a3a" stroke="#3a3a3a" stroke-width="0.12" text-anchor="middle">LAI growth rate (10<tspan font-size="9" dy="-5.5">-3</tspan><tspan dy="5.5"> per year)</tspan></text>
<text transform="translate(117.4,375) rotate(-90) scale(1,1.15)" font-size="14" fill="#3a3a3a" stroke="#3a3a3a" stroke-width="0.12" text-anchor="middle">LAI trend (10<tspan font-size="9" dy="-5.5">-2</tspan><tspan dy="5.5"> per year)</tspan></text>

</g>
</svg>
</body></html>
